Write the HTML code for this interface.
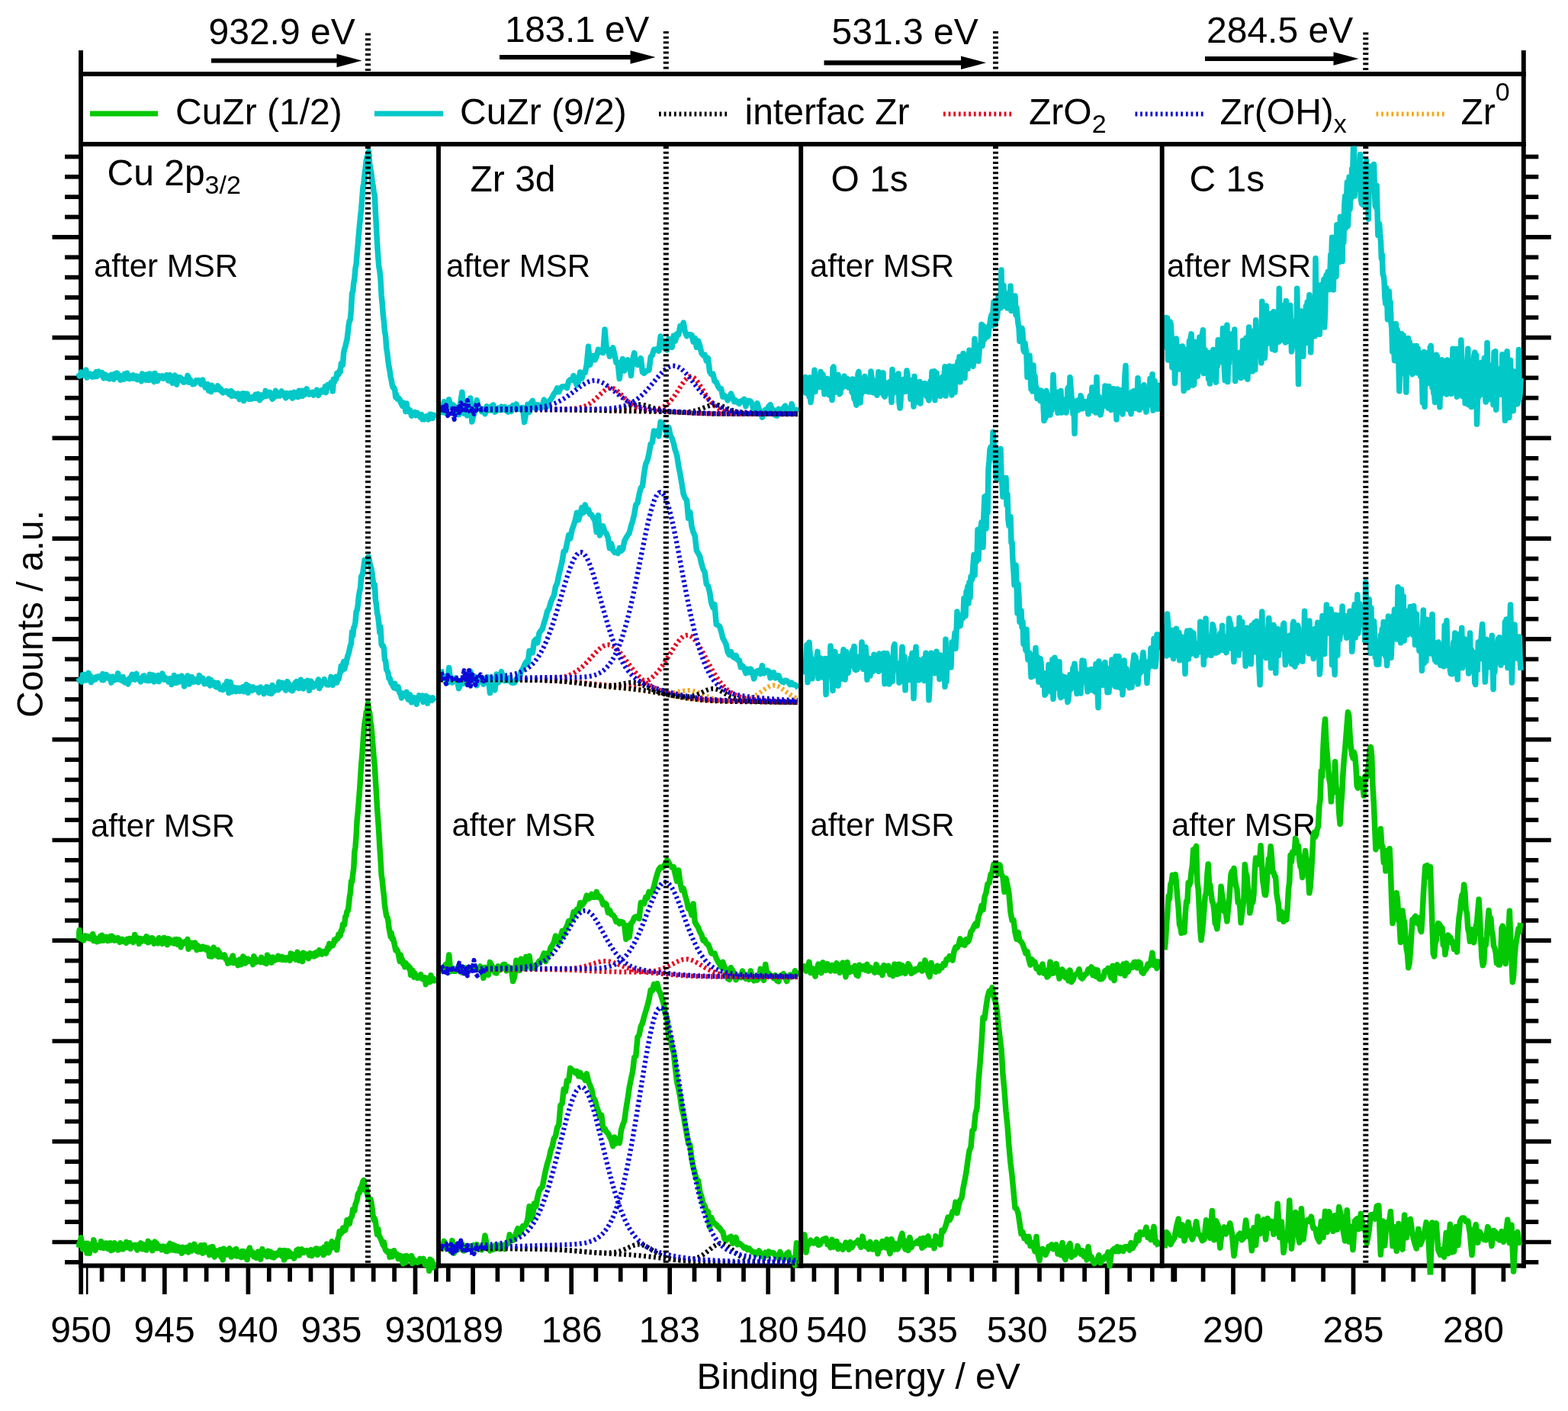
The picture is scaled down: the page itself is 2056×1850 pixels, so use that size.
<!DOCTYPE html>
<html lang="en"><head><meta charset="utf-8"><title>XPS spectra CuZr</title>
<style>html,body{margin:0;padding:0;background:#fff;overflow:hidden}svg{display:block;filter:blur(0.75px)}</style>
</head><body>
<svg xmlns="http://www.w3.org/2000/svg" width="2056" height="1850" viewBox="0 0 2056 1850">
<rect width="2056" height="1850" fill="#fff"/>
<defs><clipPath id="cp"><rect x="100" y="191.5" width="1900" height="1480"/></clipPath></defs>
<g font-family='"Liberation Sans", Arial, Helvetica, sans-serif' fill="#000">
<text x="273.5" y="57.5" font-size="48" text-anchor="start" >932.9 eV</text>
<text x="662.0" y="54.5" font-size="48" text-anchor="start" letter-spacing="-0.4">183.1 eV</text>
<text x="1090.5" y="57.5" font-size="48" text-anchor="start" >531.3 eV</text>
<text x="1582.0" y="55.5" font-size="48" text-anchor="start" >284.5 eV</text>
<text x="230.0" y="163.0" font-size="48" text-anchor="start" >CuZr (1/2)</text>
<text x="603.0" y="163.0" font-size="48" text-anchor="start" >CuZr (9/2)</text>
<text x="976.5" y="163.0" font-size="48" text-anchor="start" >interfac Zr</text>
<text x="1349.0" y="163.0" font-size="48" text-anchor="start" >ZrO<tspan font-size="34" dy="11">2</tspan></text>
<text x="1599.5" y="163.0" font-size="48" text-anchor="start" >Zr(OH)<tspan font-size="34" dy="11">x</tspan></text>
<text x="1915.5" y="163.0" font-size="48" text-anchor="start" >Zr<tspan font-size="34" dy="-31">0</tspan></text>
<text x="140.5" y="243.0" font-size="48" text-anchor="start" >Cu 2p<tspan font-size="34" dy="11">3/2</tspan></text>
<text x="616.5" y="251.0" font-size="48" text-anchor="start" >Zr 3d</text>
<text x="1089.5" y="251.0" font-size="48" text-anchor="start" >O 1s</text>
<text x="1559.5" y="251.0" font-size="48" text-anchor="start" >C 1s</text>
<text x="123.0" y="362.5" font-size="42" text-anchor="start" >after MSR</text>
<text x="585.0" y="362.5" font-size="42" text-anchor="start" >after MSR</text>
<text x="1062.0" y="362.5" font-size="42" text-anchor="start" >after MSR</text>
<text x="1530.0" y="362.5" font-size="42" text-anchor="start" >after MSR</text>
<text x="119.0" y="1096.5" font-size="42" text-anchor="start" >after MSR</text>
<text x="592.5" y="1096.0" font-size="42" text-anchor="start" >after MSR</text>
<text x="1062.5" y="1096.0" font-size="42" text-anchor="start" >after MSR</text>
<text x="1536.0" y="1096.0" font-size="42" text-anchor="start" >after MSR</text>
<text x="106.2" y="1760.0" font-size="48" text-anchor="middle" >950</text>
<text x="215.6" y="1760.0" font-size="48" text-anchor="middle" >945</text>
<text x="325.0" y="1760.0" font-size="48" text-anchor="middle" >940</text>
<text x="434.5" y="1760.0" font-size="48" text-anchor="middle" >935</text>
<text x="544.5" y="1760.0" font-size="48" text-anchor="middle" >930</text>
<text x="620.1" y="1760.0" font-size="48" text-anchor="middle" >189</text>
<text x="749.7" y="1760.0" font-size="48" text-anchor="middle" >186</text>
<text x="877.8" y="1760.0" font-size="48" text-anchor="middle" >183</text>
<text x="1007.2" y="1760.0" font-size="48" text-anchor="middle" >180</text>
<text x="1097.0" y="1760.0" font-size="48" text-anchor="middle" >540</text>
<text x="1215.9" y="1760.0" font-size="48" text-anchor="middle" >535</text>
<text x="1333.7" y="1760.0" font-size="48" text-anchor="middle" >530</text>
<text x="1451.7" y="1760.0" font-size="48" text-anchor="middle" >525</text>
<text x="1617.0" y="1760.0" font-size="48" text-anchor="middle" >290</text>
<text x="1774.5" y="1760.0" font-size="48" text-anchor="middle" >285</text>
<text x="1932.0" y="1760.0" font-size="48" text-anchor="middle" >280</text>
<text x="913.5" y="1821.0" font-size="48" text-anchor="start" >Binding Energy / eV</text>
<text transform="translate(56,941) rotate(-90)" font-size="48">Counts / a.u.</text>
</g>
<line x1="106.0" y1="66.0" x2="106.0" y2="1662.5" stroke="#000" stroke-width="5.9" />
<line x1="1997.8" y1="66.0" x2="1997.8" y2="1662.5" stroke="#000" stroke-width="5.9" />
<line x1="103.0" y1="97.0" x2="2000.8" y2="97.0" stroke="#000" stroke-width="5.9" />
<line x1="103.0" y1="189.0" x2="2000.8" y2="189.0" stroke="#000" stroke-width="5.9" />
<line x1="103.0" y1="1659.5" x2="2000.8" y2="1659.5" stroke="#000" stroke-width="5.9" />
<line x1="85.0" y1="1654.9" x2="106.0" y2="1654.9" stroke="#000" stroke-width="5.7" />
<line x1="1997.8" y1="1654.9" x2="2017.3" y2="1654.9" stroke="#000" stroke-width="5.7" />
<line x1="68.5" y1="1628.5" x2="106.0" y2="1628.5" stroke="#000" stroke-width="5.7" />
<line x1="1997.8" y1="1628.5" x2="2033.8" y2="1628.5" stroke="#000" stroke-width="5.7" />
<line x1="85.0" y1="1602.1" x2="106.0" y2="1602.1" stroke="#000" stroke-width="5.7" />
<line x1="1997.8" y1="1602.1" x2="2017.3" y2="1602.1" stroke="#000" stroke-width="5.7" />
<line x1="85.0" y1="1575.8" x2="106.0" y2="1575.8" stroke="#000" stroke-width="5.7" />
<line x1="1997.8" y1="1575.8" x2="2017.3" y2="1575.8" stroke="#000" stroke-width="5.7" />
<line x1="85.0" y1="1549.4" x2="106.0" y2="1549.4" stroke="#000" stroke-width="5.7" />
<line x1="1997.8" y1="1549.4" x2="2017.3" y2="1549.4" stroke="#000" stroke-width="5.7" />
<line x1="85.0" y1="1523.1" x2="106.0" y2="1523.1" stroke="#000" stroke-width="5.7" />
<line x1="1997.8" y1="1523.1" x2="2017.3" y2="1523.1" stroke="#000" stroke-width="5.7" />
<line x1="68.5" y1="1496.7" x2="106.0" y2="1496.7" stroke="#000" stroke-width="5.7" />
<line x1="1997.8" y1="1496.7" x2="2033.8" y2="1496.7" stroke="#000" stroke-width="5.7" />
<line x1="85.0" y1="1470.4" x2="106.0" y2="1470.4" stroke="#000" stroke-width="5.7" />
<line x1="1997.8" y1="1470.4" x2="2017.3" y2="1470.4" stroke="#000" stroke-width="5.7" />
<line x1="85.0" y1="1444.0" x2="106.0" y2="1444.0" stroke="#000" stroke-width="5.7" />
<line x1="1997.8" y1="1444.0" x2="2017.3" y2="1444.0" stroke="#000" stroke-width="5.7" />
<line x1="85.0" y1="1417.7" x2="106.0" y2="1417.7" stroke="#000" stroke-width="5.7" />
<line x1="1997.8" y1="1417.7" x2="2017.3" y2="1417.7" stroke="#000" stroke-width="5.7" />
<line x1="85.0" y1="1391.3" x2="106.0" y2="1391.3" stroke="#000" stroke-width="5.7" />
<line x1="1997.8" y1="1391.3" x2="2017.3" y2="1391.3" stroke="#000" stroke-width="5.7" />
<line x1="68.5" y1="1365.0" x2="106.0" y2="1365.0" stroke="#000" stroke-width="5.7" />
<line x1="1997.8" y1="1365.0" x2="2033.8" y2="1365.0" stroke="#000" stroke-width="5.7" />
<line x1="85.0" y1="1338.6" x2="106.0" y2="1338.6" stroke="#000" stroke-width="5.7" />
<line x1="1997.8" y1="1338.6" x2="2017.3" y2="1338.6" stroke="#000" stroke-width="5.7" />
<line x1="85.0" y1="1312.3" x2="106.0" y2="1312.3" stroke="#000" stroke-width="5.7" />
<line x1="1997.8" y1="1312.3" x2="2017.3" y2="1312.3" stroke="#000" stroke-width="5.7" />
<line x1="85.0" y1="1285.9" x2="106.0" y2="1285.9" stroke="#000" stroke-width="5.7" />
<line x1="1997.8" y1="1285.9" x2="2017.3" y2="1285.9" stroke="#000" stroke-width="5.7" />
<line x1="85.0" y1="1259.6" x2="106.0" y2="1259.6" stroke="#000" stroke-width="5.7" />
<line x1="1997.8" y1="1259.6" x2="2017.3" y2="1259.6" stroke="#000" stroke-width="5.7" />
<line x1="68.5" y1="1233.2" x2="106.0" y2="1233.2" stroke="#000" stroke-width="5.7" />
<line x1="1997.8" y1="1233.2" x2="2033.8" y2="1233.2" stroke="#000" stroke-width="5.7" />
<line x1="85.0" y1="1206.9" x2="106.0" y2="1206.9" stroke="#000" stroke-width="5.7" />
<line x1="1997.8" y1="1206.9" x2="2017.3" y2="1206.9" stroke="#000" stroke-width="5.7" />
<line x1="85.0" y1="1180.5" x2="106.0" y2="1180.5" stroke="#000" stroke-width="5.7" />
<line x1="1997.8" y1="1180.5" x2="2017.3" y2="1180.5" stroke="#000" stroke-width="5.7" />
<line x1="85.0" y1="1154.2" x2="106.0" y2="1154.2" stroke="#000" stroke-width="5.7" />
<line x1="1997.8" y1="1154.2" x2="2017.3" y2="1154.2" stroke="#000" stroke-width="5.7" />
<line x1="85.0" y1="1127.8" x2="106.0" y2="1127.8" stroke="#000" stroke-width="5.7" />
<line x1="1997.8" y1="1127.8" x2="2017.3" y2="1127.8" stroke="#000" stroke-width="5.7" />
<line x1="68.5" y1="1101.5" x2="106.0" y2="1101.5" stroke="#000" stroke-width="5.7" />
<line x1="1997.8" y1="1101.5" x2="2033.8" y2="1101.5" stroke="#000" stroke-width="5.7" />
<line x1="85.0" y1="1075.1" x2="106.0" y2="1075.1" stroke="#000" stroke-width="5.7" />
<line x1="1997.8" y1="1075.1" x2="2017.3" y2="1075.1" stroke="#000" stroke-width="5.7" />
<line x1="85.0" y1="1048.8" x2="106.0" y2="1048.8" stroke="#000" stroke-width="5.7" />
<line x1="1997.8" y1="1048.8" x2="2017.3" y2="1048.8" stroke="#000" stroke-width="5.7" />
<line x1="85.0" y1="1022.4" x2="106.0" y2="1022.4" stroke="#000" stroke-width="5.7" />
<line x1="1997.8" y1="1022.4" x2="2017.3" y2="1022.4" stroke="#000" stroke-width="5.7" />
<line x1="85.0" y1="996.1" x2="106.0" y2="996.1" stroke="#000" stroke-width="5.7" />
<line x1="1997.8" y1="996.1" x2="2017.3" y2="996.1" stroke="#000" stroke-width="5.7" />
<line x1="68.5" y1="969.7" x2="106.0" y2="969.7" stroke="#000" stroke-width="5.7" />
<line x1="1997.8" y1="969.7" x2="2033.8" y2="969.7" stroke="#000" stroke-width="5.7" />
<line x1="85.0" y1="943.3" x2="106.0" y2="943.3" stroke="#000" stroke-width="5.7" />
<line x1="1997.8" y1="943.3" x2="2017.3" y2="943.3" stroke="#000" stroke-width="5.7" />
<line x1="85.0" y1="917.0" x2="106.0" y2="917.0" stroke="#000" stroke-width="5.7" />
<line x1="1997.8" y1="917.0" x2="2017.3" y2="917.0" stroke="#000" stroke-width="5.7" />
<line x1="85.0" y1="890.6" x2="106.0" y2="890.6" stroke="#000" stroke-width="5.7" />
<line x1="1997.8" y1="890.6" x2="2017.3" y2="890.6" stroke="#000" stroke-width="5.7" />
<line x1="85.0" y1="864.3" x2="106.0" y2="864.3" stroke="#000" stroke-width="5.7" />
<line x1="1997.8" y1="864.3" x2="2017.3" y2="864.3" stroke="#000" stroke-width="5.7" />
<line x1="68.5" y1="837.9" x2="106.0" y2="837.9" stroke="#000" stroke-width="5.7" />
<line x1="1997.8" y1="837.9" x2="2033.8" y2="837.9" stroke="#000" stroke-width="5.7" />
<line x1="85.0" y1="811.6" x2="106.0" y2="811.6" stroke="#000" stroke-width="5.7" />
<line x1="1997.8" y1="811.6" x2="2017.3" y2="811.6" stroke="#000" stroke-width="5.7" />
<line x1="85.0" y1="785.2" x2="106.0" y2="785.2" stroke="#000" stroke-width="5.7" />
<line x1="1997.8" y1="785.2" x2="2017.3" y2="785.2" stroke="#000" stroke-width="5.7" />
<line x1="85.0" y1="758.9" x2="106.0" y2="758.9" stroke="#000" stroke-width="5.7" />
<line x1="1997.8" y1="758.9" x2="2017.3" y2="758.9" stroke="#000" stroke-width="5.7" />
<line x1="85.0" y1="732.5" x2="106.0" y2="732.5" stroke="#000" stroke-width="5.7" />
<line x1="1997.8" y1="732.5" x2="2017.3" y2="732.5" stroke="#000" stroke-width="5.7" />
<line x1="68.5" y1="706.2" x2="106.0" y2="706.2" stroke="#000" stroke-width="5.7" />
<line x1="1997.8" y1="706.2" x2="2033.8" y2="706.2" stroke="#000" stroke-width="5.7" />
<line x1="85.0" y1="679.8" x2="106.0" y2="679.8" stroke="#000" stroke-width="5.7" />
<line x1="1997.8" y1="679.8" x2="2017.3" y2="679.8" stroke="#000" stroke-width="5.7" />
<line x1="85.0" y1="653.5" x2="106.0" y2="653.5" stroke="#000" stroke-width="5.7" />
<line x1="1997.8" y1="653.5" x2="2017.3" y2="653.5" stroke="#000" stroke-width="5.7" />
<line x1="85.0" y1="627.1" x2="106.0" y2="627.1" stroke="#000" stroke-width="5.7" />
<line x1="1997.8" y1="627.1" x2="2017.3" y2="627.1" stroke="#000" stroke-width="5.7" />
<line x1="85.0" y1="600.8" x2="106.0" y2="600.8" stroke="#000" stroke-width="5.7" />
<line x1="1997.8" y1="600.8" x2="2017.3" y2="600.8" stroke="#000" stroke-width="5.7" />
<line x1="68.5" y1="574.4" x2="106.0" y2="574.4" stroke="#000" stroke-width="5.7" />
<line x1="1997.8" y1="574.4" x2="2033.8" y2="574.4" stroke="#000" stroke-width="5.7" />
<line x1="85.0" y1="548.1" x2="106.0" y2="548.1" stroke="#000" stroke-width="5.7" />
<line x1="1997.8" y1="548.1" x2="2017.3" y2="548.1" stroke="#000" stroke-width="5.7" />
<line x1="85.0" y1="521.7" x2="106.0" y2="521.7" stroke="#000" stroke-width="5.7" />
<line x1="1997.8" y1="521.7" x2="2017.3" y2="521.7" stroke="#000" stroke-width="5.7" />
<line x1="85.0" y1="495.4" x2="106.0" y2="495.4" stroke="#000" stroke-width="5.7" />
<line x1="1997.8" y1="495.4" x2="2017.3" y2="495.4" stroke="#000" stroke-width="5.7" />
<line x1="85.0" y1="469.0" x2="106.0" y2="469.0" stroke="#000" stroke-width="5.7" />
<line x1="1997.8" y1="469.0" x2="2017.3" y2="469.0" stroke="#000" stroke-width="5.7" />
<line x1="68.5" y1="442.7" x2="106.0" y2="442.7" stroke="#000" stroke-width="5.7" />
<line x1="1997.8" y1="442.7" x2="2033.8" y2="442.7" stroke="#000" stroke-width="5.7" />
<line x1="85.0" y1="416.3" x2="106.0" y2="416.3" stroke="#000" stroke-width="5.7" />
<line x1="1997.8" y1="416.3" x2="2017.3" y2="416.3" stroke="#000" stroke-width="5.7" />
<line x1="85.0" y1="390.0" x2="106.0" y2="390.0" stroke="#000" stroke-width="5.7" />
<line x1="1997.8" y1="390.0" x2="2017.3" y2="390.0" stroke="#000" stroke-width="5.7" />
<line x1="85.0" y1="363.6" x2="106.0" y2="363.6" stroke="#000" stroke-width="5.7" />
<line x1="1997.8" y1="363.6" x2="2017.3" y2="363.6" stroke="#000" stroke-width="5.7" />
<line x1="85.0" y1="337.3" x2="106.0" y2="337.3" stroke="#000" stroke-width="5.7" />
<line x1="1997.8" y1="337.3" x2="2017.3" y2="337.3" stroke="#000" stroke-width="5.7" />
<line x1="68.5" y1="310.9" x2="106.0" y2="310.9" stroke="#000" stroke-width="5.7" />
<line x1="1997.8" y1="310.9" x2="2033.8" y2="310.9" stroke="#000" stroke-width="5.7" />
<line x1="85.0" y1="284.5" x2="106.0" y2="284.5" stroke="#000" stroke-width="5.7" />
<line x1="1997.8" y1="284.5" x2="2017.3" y2="284.5" stroke="#000" stroke-width="5.7" />
<line x1="85.0" y1="258.2" x2="106.0" y2="258.2" stroke="#000" stroke-width="5.7" />
<line x1="1997.8" y1="258.2" x2="2017.3" y2="258.2" stroke="#000" stroke-width="5.7" />
<line x1="85.0" y1="231.8" x2="106.0" y2="231.8" stroke="#000" stroke-width="5.7" />
<line x1="1997.8" y1="231.8" x2="2017.3" y2="231.8" stroke="#000" stroke-width="5.7" />
<line x1="85.0" y1="205.5" x2="106.0" y2="205.5" stroke="#000" stroke-width="5.7" />
<line x1="1997.8" y1="205.5" x2="2017.3" y2="205.5" stroke="#000" stroke-width="5.7" />
<line x1="106.2" y1="1659.5" x2="106.2" y2="1697.0" stroke="#000" stroke-width="5.7" />
<line x1="133.6" y1="1659.5" x2="133.6" y2="1680.5" stroke="#000" stroke-width="5.7" />
<line x1="161.0" y1="1659.5" x2="161.0" y2="1680.5" stroke="#000" stroke-width="5.7" />
<line x1="188.4" y1="1659.5" x2="188.4" y2="1680.5" stroke="#000" stroke-width="5.7" />
<line x1="215.8" y1="1659.5" x2="215.8" y2="1697.0" stroke="#000" stroke-width="5.7" />
<line x1="243.2" y1="1659.5" x2="243.2" y2="1680.5" stroke="#000" stroke-width="5.7" />
<line x1="270.6" y1="1659.5" x2="270.6" y2="1680.5" stroke="#000" stroke-width="5.7" />
<line x1="298.0" y1="1659.5" x2="298.0" y2="1680.5" stroke="#000" stroke-width="5.7" />
<line x1="325.4" y1="1659.5" x2="325.4" y2="1697.0" stroke="#000" stroke-width="5.7" />
<line x1="352.8" y1="1659.5" x2="352.8" y2="1680.5" stroke="#000" stroke-width="5.7" />
<line x1="380.1" y1="1659.5" x2="380.1" y2="1680.5" stroke="#000" stroke-width="5.7" />
<line x1="407.5" y1="1659.5" x2="407.5" y2="1680.5" stroke="#000" stroke-width="5.7" />
<line x1="434.9" y1="1659.5" x2="434.9" y2="1697.0" stroke="#000" stroke-width="5.7" />
<line x1="462.3" y1="1659.5" x2="462.3" y2="1680.5" stroke="#000" stroke-width="5.7" />
<line x1="489.7" y1="1659.5" x2="489.7" y2="1680.5" stroke="#000" stroke-width="5.7" />
<line x1="517.1" y1="1659.5" x2="517.1" y2="1680.5" stroke="#000" stroke-width="5.7" />
<line x1="544.5" y1="1659.5" x2="544.5" y2="1697.0" stroke="#000" stroke-width="5.7" />
<line x1="571.9" y1="1659.5" x2="571.9" y2="1680.5" stroke="#000" stroke-width="5.7" />
<line x1="587.8" y1="1659.5" x2="587.8" y2="1680.5" stroke="#000" stroke-width="5.7" />
<line x1="620.1" y1="1659.5" x2="620.1" y2="1697.0" stroke="#000" stroke-width="5.7" />
<line x1="652.4" y1="1659.5" x2="652.4" y2="1680.5" stroke="#000" stroke-width="5.7" />
<line x1="684.6" y1="1659.5" x2="684.6" y2="1680.5" stroke="#000" stroke-width="5.7" />
<line x1="716.9" y1="1659.5" x2="716.9" y2="1680.5" stroke="#000" stroke-width="5.7" />
<line x1="749.2" y1="1659.5" x2="749.2" y2="1697.0" stroke="#000" stroke-width="5.7" />
<line x1="781.4" y1="1659.5" x2="781.4" y2="1680.5" stroke="#000" stroke-width="5.7" />
<line x1="813.7" y1="1659.5" x2="813.7" y2="1680.5" stroke="#000" stroke-width="5.7" />
<line x1="845.9" y1="1659.5" x2="845.9" y2="1680.5" stroke="#000" stroke-width="5.7" />
<line x1="878.2" y1="1659.5" x2="878.2" y2="1697.0" stroke="#000" stroke-width="5.7" />
<line x1="910.5" y1="1659.5" x2="910.5" y2="1680.5" stroke="#000" stroke-width="5.7" />
<line x1="942.7" y1="1659.5" x2="942.7" y2="1680.5" stroke="#000" stroke-width="5.7" />
<line x1="975.0" y1="1659.5" x2="975.0" y2="1680.5" stroke="#000" stroke-width="5.7" />
<line x1="1007.2" y1="1659.5" x2="1007.2" y2="1697.0" stroke="#000" stroke-width="5.7" />
<line x1="1039.5" y1="1659.5" x2="1039.5" y2="1680.5" stroke="#000" stroke-width="5.7" />
<line x1="1067.4" y1="1659.5" x2="1067.4" y2="1680.5" stroke="#000" stroke-width="5.7" />
<line x1="1097.0" y1="1659.5" x2="1097.0" y2="1697.0" stroke="#000" stroke-width="5.7" />
<line x1="1126.6" y1="1659.5" x2="1126.6" y2="1680.5" stroke="#000" stroke-width="5.7" />
<line x1="1156.1" y1="1659.5" x2="1156.1" y2="1680.5" stroke="#000" stroke-width="5.7" />
<line x1="1185.7" y1="1659.5" x2="1185.7" y2="1680.5" stroke="#000" stroke-width="5.7" />
<line x1="1215.2" y1="1659.5" x2="1215.2" y2="1697.0" stroke="#000" stroke-width="5.7" />
<line x1="1244.8" y1="1659.5" x2="1244.8" y2="1680.5" stroke="#000" stroke-width="5.7" />
<line x1="1274.3" y1="1659.5" x2="1274.3" y2="1680.5" stroke="#000" stroke-width="5.7" />
<line x1="1303.9" y1="1659.5" x2="1303.9" y2="1680.5" stroke="#000" stroke-width="5.7" />
<line x1="1333.5" y1="1659.5" x2="1333.5" y2="1697.0" stroke="#000" stroke-width="5.7" />
<line x1="1363.0" y1="1659.5" x2="1363.0" y2="1680.5" stroke="#000" stroke-width="5.7" />
<line x1="1392.6" y1="1659.5" x2="1392.6" y2="1680.5" stroke="#000" stroke-width="5.7" />
<line x1="1422.1" y1="1659.5" x2="1422.1" y2="1680.5" stroke="#000" stroke-width="5.7" />
<line x1="1451.7" y1="1659.5" x2="1451.7" y2="1697.0" stroke="#000" stroke-width="5.7" />
<line x1="1481.2" y1="1659.5" x2="1481.2" y2="1680.5" stroke="#000" stroke-width="5.7" />
<line x1="1510.8" y1="1659.5" x2="1510.8" y2="1680.5" stroke="#000" stroke-width="5.7" />
<line x1="1540.4" y1="1659.5" x2="1540.4" y2="1680.5" stroke="#000" stroke-width="5.7" />
<line x1="1538.2" y1="1659.5" x2="1538.2" y2="1680.5" stroke="#000" stroke-width="5.7" />
<line x1="1577.6" y1="1659.5" x2="1577.6" y2="1680.5" stroke="#000" stroke-width="5.7" />
<line x1="1617.0" y1="1659.5" x2="1617.0" y2="1697.0" stroke="#000" stroke-width="5.7" />
<line x1="1656.4" y1="1659.5" x2="1656.4" y2="1680.5" stroke="#000" stroke-width="5.7" />
<line x1="1695.8" y1="1659.5" x2="1695.8" y2="1680.5" stroke="#000" stroke-width="5.7" />
<line x1="1735.1" y1="1659.5" x2="1735.1" y2="1680.5" stroke="#000" stroke-width="5.7" />
<line x1="1774.5" y1="1659.5" x2="1774.5" y2="1697.0" stroke="#000" stroke-width="5.7" />
<line x1="1813.9" y1="1659.5" x2="1813.9" y2="1680.5" stroke="#000" stroke-width="5.7" />
<line x1="1853.2" y1="1659.5" x2="1853.2" y2="1680.5" stroke="#000" stroke-width="5.7" />
<line x1="1892.6" y1="1659.5" x2="1892.6" y2="1680.5" stroke="#000" stroke-width="5.7" />
<line x1="1932.0" y1="1659.5" x2="1932.0" y2="1697.0" stroke="#000" stroke-width="5.7" />
<line x1="1971.4" y1="1659.5" x2="1971.4" y2="1680.5" stroke="#000" stroke-width="5.7" />
<line x1="114.2" y1="1659.5" x2="114.2" y2="1697.0" stroke="#000" stroke-width="2.6" />
<line x1="277.0" y1="79.5" x2="446.5" y2="79.5" stroke="#000" stroke-width="6.2" />
<polygon points="474.5,79.5 441.5,70.7 441.5,88.3" fill="#000"/>
<line x1="655.0" y1="75.0" x2="831.5" y2="75.0" stroke="#000" stroke-width="6.2" />
<polygon points="859.5,75.0 826.5,66.2 826.5,83.8" fill="#000"/>
<line x1="1080.5" y1="82.3" x2="1265.0" y2="82.3" stroke="#000" stroke-width="6.2" />
<polygon points="1293.0,82.3 1260.0,73.5 1260.0,91.1" fill="#000"/>
<line x1="1580.0" y1="77.0" x2="1753.5" y2="77.0" stroke="#000" stroke-width="6.2" />
<polygon points="1781.5,77.0 1748.5,68.2 1748.5,85.8" fill="#000"/>
<line x1="118.0" y1="149.0" x2="207.0" y2="149.0" stroke="#03c803" stroke-width="7" />
<line x1="491.0" y1="149.0" x2="581.0" y2="149.0" stroke="#03c8c8" stroke-width="7" />
<line x1="864.0" y1="149.5" x2="954.0" y2="149.5" stroke="#000" stroke-width="6.2" stroke-dasharray="2.8 3.84"/>
<line x1="1237.0" y1="149.5" x2="1328.0" y2="149.5" stroke="#e6001e" stroke-width="6.2" stroke-dasharray="2.8 3.84"/>
<line x1="1488.5" y1="149.5" x2="1578.5" y2="149.5" stroke="#0a0ad8" stroke-width="6.2" stroke-dasharray="2.8 3.84"/>
<line x1="1804.5" y1="149.5" x2="1895.0" y2="149.5" stroke="#f5a81e" stroke-width="6.2" stroke-dasharray="2.8 3.84"/>
<g clip-path="url(#cp)">
<polyline points="103.0,489.1 104.1,493.1 105.2,492.9 106.3,488.0 107.4,488.8 108.5,488.3 109.6,491.6 110.7,490.0 111.8,492.5 112.9,485.1 114.0,495.1 115.1,490.5 116.2,492.9 117.3,490.7 118.4,490.1 119.5,492.7 120.6,493.9 121.7,491.1 122.8,491.3 123.9,493.9 125.0,489.5 126.1,487.8 127.2,493.5 128.3,490.5 129.4,487.0 130.5,490.3 131.6,491.4 132.7,489.5 133.8,488.7 134.9,493.2 136.0,495.8 137.1,492.6 138.2,491.2 139.3,494.6 140.4,495.6 141.5,492.8 142.6,495.3 143.7,496.8 144.8,493.2 145.9,491.5 147.0,494.9 148.1,494.7 149.2,497.2 150.3,490.3 151.4,492.1 152.5,491.7 153.6,489.1 154.7,494.5 155.8,495.7 156.9,492.1 158.0,498.2 159.1,496.6 160.2,496.1 161.3,495.4 162.4,497.1 163.5,490.4 164.6,496.1 165.7,496.1 166.8,489.2 167.9,495.4 169.0,493.7 170.1,496.7 171.2,493.1 172.3,494.4 173.4,495.4 174.5,491.9 175.6,496.2 176.7,494.2 177.8,495.9 178.9,493.0 180.0,497.6 181.1,496.3 182.2,494.0 183.3,496.4 184.4,498.2 185.5,499.7 186.6,490.0 187.7,497.1 188.8,495.9 189.9,494.3 191.0,491.7 192.1,498.3 193.2,491.0 194.3,496.3 195.4,498.4 196.5,490.0 197.6,493.8 198.7,490.9 199.8,495.4 200.9,499.1 202.0,500.6 203.1,489.6 204.2,493.2 205.3,496.9 206.4,499.5 207.5,496.1 208.6,492.8 209.7,495.8 210.8,494.9 211.9,494.4 213.0,492.9 214.1,496.2 215.2,496.1 216.3,495.0 217.4,494.7 218.5,491.7 219.6,494.0 220.7,499.0 221.8,495.1 222.9,491.6 224.0,499.7 225.1,497.5 226.2,502.2 227.3,496.3 228.4,494.9 229.5,492.2 230.6,500.4 231.7,504.1 232.8,494.4 233.9,495.1 235.0,498.8 236.1,494.8 237.2,496.6 238.3,496.5 239.4,498.3 240.5,501.0 241.6,498.1 242.7,500.8 243.8,497.1 244.9,499.5 246.0,492.5 247.1,494.7 248.2,501.3 249.3,497.5 250.4,501.1 251.5,501.2 252.6,503.7 253.7,502.5 254.8,503.3 255.9,500.4 257.0,498.9 258.1,499.2 259.2,500.2 260.3,498.6 261.4,500.7 262.5,502.3 263.6,503.7 264.7,502.3 265.8,498.1 266.9,503.8 268.0,505.0 269.1,507.9 270.2,506.8 271.3,503.7 272.4,503.8 273.5,512.1 274.6,508.8 275.7,512.3 276.8,513.6 277.9,505.4 279.0,509.2 280.1,509.8 281.2,510.5 282.3,510.8 283.4,510.1 284.5,510.4 285.6,505.8 286.7,510.0 287.8,508.7 288.9,511.6 290.0,510.3 291.1,513.8 292.2,514.8 293.3,513.7 294.4,514.1 295.5,513.9 296.6,512.7 297.7,514.0 298.8,513.4 299.9,516.4 301.0,515.7 302.1,517.8 303.2,512.6 304.3,519.4 305.4,515.0 306.5,515.5 307.6,517.4 308.7,516.7 309.8,519.5 310.9,517.2 312.0,516.1 313.1,517.0 314.2,523.5 315.3,520.0 316.4,516.7 317.5,520.2 318.6,515.8 319.7,525.6 320.8,516.1 321.9,521.9 323.0,522.1 324.1,516.3 325.2,521.3 326.3,523.3 327.4,521.8 328.5,521.1 329.6,523.1 330.7,520.8 331.8,521.2 332.9,519.8 334.0,522.0 335.1,517.4 336.2,522.3 337.3,518.5 338.4,516.7 339.5,520.9 340.6,524.6 341.7,522.4 342.8,518.0 343.9,521.5 345.0,518.0 346.1,518.9 347.2,519.4 348.3,512.4 349.4,519.5 350.5,515.9 351.6,516.8 352.7,514.4 353.8,514.2 354.9,515.7 356.0,520.8 357.1,523.1 358.2,518.1 359.3,521.2 360.4,517.2 361.5,512.3 362.6,518.2 363.7,519.0 364.8,516.3 365.9,518.4 367.0,519.0 368.1,514.8 369.2,512.9 370.3,516.5 371.4,516.4 372.5,515.9 373.6,519.8 374.7,521.8 375.8,515.5 376.9,518.7 378.0,519.4 379.1,518.6 380.2,519.5 381.3,515.3 382.4,518.5 383.5,522.2 384.6,518.6 385.7,514.4 386.8,518.0 387.9,519.8 389.0,517.2 390.1,514.4 391.2,520.5 392.3,512.3 393.4,517.3 394.5,515.8 395.6,512.3 396.7,519.3 397.8,516.7 398.9,512.2 400.0,517.3 401.1,514.2 402.2,509.9 403.3,513.3 404.4,516.0 405.5,517.0 406.6,515.6 407.7,515.1 408.8,516.3 409.9,514.2 411.0,518.1 412.1,515.0 413.2,515.3 414.3,515.9 415.4,511.2 416.5,512.1 417.6,518.4 418.7,514.8 419.8,512.9 420.9,514.5 422.0,511.9 423.1,513.8 424.2,510.7 425.3,512.9 426.4,506.9 427.5,514.7 428.6,508.6 429.7,504.6 430.8,507.6 431.9,506.1 433.0,506.6 434.1,501.6 435.2,504.8 436.3,512.9 437.4,497.3 438.5,500.5 439.6,497.1 440.7,497.0 441.8,489.4 442.9,489.1 444.0,491.0 445.1,486.4 446.2,487.6 447.3,476.9 448.4,475.1 449.5,478.5 450.6,463.0 451.7,457.5 452.8,454.8 453.9,449.3 455.0,445.6 456.1,436.5 457.2,426.1 458.3,420.5 459.4,418.7 460.5,405.5 461.6,384.3 462.7,382.5 463.8,370.8 464.9,364.9 466.0,351.7 467.1,346.6 468.2,332.2 469.3,320.6 470.4,307.2 471.5,295.1 472.6,284.0 473.7,274.3 474.8,259.9 475.9,245.8 477.0,240.4 478.1,228.9 479.2,220.2 480.3,210.6 481.4,205.6 482.5,202.9 483.6,198.6 484.7,215.2 485.8,221.4 486.9,226.7 488.0,237.4 489.1,243.3 490.2,252.3 491.3,255.9 492.4,278.4 493.5,298.5 494.6,319.5 495.7,336.0 496.8,349.2 497.9,355.5 499.0,365.9 500.1,386.8 501.2,397.7 502.3,412.5 503.4,421.5 504.5,434.4 505.6,440.6 506.7,456.5 507.8,462.7 508.9,472.9 510.0,480.8 511.1,486.3 512.2,494.0 513.3,498.6 514.4,505.5 515.5,508.3 516.6,508.3 517.7,511.1 518.8,520.5 519.9,517.6 521.0,523.0 522.1,523.4 523.2,522.5 524.3,523.7 525.4,527.9 526.5,529.8 527.6,532.2 528.7,528.0 529.8,531.1 530.9,533.6 532.0,539.5 533.1,529.0 534.2,538.0 535.3,536.1 536.4,539.7 537.5,537.8 538.6,541.0 539.7,545.2 540.8,542.3 541.9,543.0 543.0,543.3 544.1,540.5 545.2,544.6 546.3,542.8 547.4,541.4 548.5,544.0 549.6,543.7 550.7,546.9 551.8,544.9 552.9,543.8 554.0,549.8 555.1,548.7 556.2,549.8 557.3,548.1 558.4,546.3 559.5,545.6 560.6,546.2 561.7,550.0 562.8,547.7 563.9,543.2 565.0,547.5 566.1,543.7 567.2,548.3 568.3,544.4 569.4,544.3 570.5,548.3" fill="none" stroke="#03c8c8" stroke-width="7.5" stroke-linejoin="round" stroke-linecap="butt" />
<polyline points="103.0,888.7 104.1,892.2 105.2,891.1 106.3,891.1 107.4,894.0 108.5,884.7 109.6,886.6 110.7,884.4 111.8,888.4 112.9,892.0 114.0,888.7 115.1,890.4 116.2,882.4 117.3,889.2 118.4,885.8 119.5,894.6 120.6,891.7 121.7,891.9 122.8,888.6 123.9,890.8 125.0,891.0 126.1,887.7 127.2,887.2 128.3,888.4 129.4,886.8 130.5,886.9 131.6,887.9 132.7,886.5 133.8,891.4 134.9,883.6 136.0,891.6 137.1,886.8 138.2,887.1 139.3,884.5 140.4,888.5 141.5,888.1 142.6,889.6 143.7,887.2 144.8,889.3 145.9,895.0 147.0,890.4 148.1,887.2 149.2,892.2 150.3,888.7 151.4,891.1 152.5,891.1 153.6,887.8 154.7,882.8 155.8,888.0 156.9,891.0 158.0,887.9 159.1,890.7 160.2,892.5 161.3,887.5 162.4,893.3 163.5,894.6 164.6,892.9 165.7,893.2 166.8,893.0 167.9,896.8 169.0,890.0 170.1,889.4 171.2,891.4 172.3,886.5 173.4,884.3 174.5,886.6 175.6,890.7 176.7,891.1 177.8,884.5 178.9,883.4 180.0,888.6 181.1,889.0 182.2,889.5 183.3,891.9 184.4,893.7 185.5,890.5 186.6,891.8 187.7,886.1 188.8,885.9 189.9,890.6 191.0,892.0 192.1,892.2 193.2,891.8 194.3,892.5 195.4,892.6 196.5,884.2 197.6,887.5 198.7,891.5 199.8,892.0 200.9,885.1 202.0,893.9 203.1,888.6 204.2,889.3 205.3,891.0 206.4,892.6 207.5,885.5 208.6,893.5 209.7,890.5 210.8,887.7 211.9,889.4 213.0,883.1 214.1,888.2 215.2,891.0 216.3,888.0 217.4,889.3 218.5,890.0 219.6,890.6 220.7,893.9 221.8,890.4 222.9,889.7 224.0,892.4 225.1,897.5 226.2,889.5 227.3,892.4 228.4,885.5 229.5,895.2 230.6,893.0 231.7,895.2 232.8,890.7 233.9,887.5 235.0,893.9 236.1,893.5 237.2,888.2 238.3,886.2 239.4,892.6 240.5,890.6 241.6,899.9 242.7,889.3 243.8,889.6 244.9,891.1 246.0,886.0 247.1,888.6 248.2,897.0 249.3,891.2 250.4,889.7 251.5,887.6 252.6,893.8 253.7,894.1 254.8,892.9 255.9,890.8 257.0,893.2 258.1,893.5 259.2,890.1 260.3,894.5 261.4,885.6 262.5,888.4 263.6,891.7 264.7,892.5 265.8,889.1 266.9,894.1 268.0,896.6 269.1,894.8 270.2,894.1 271.3,896.2 272.4,895.0 273.5,890.0 274.6,893.5 275.7,898.9 276.8,891.5 277.9,896.2 279.0,895.5 280.1,894.7 281.2,895.0 282.3,899.4 283.4,900.6 284.5,900.9 285.6,895.3 286.7,899.3 287.8,901.5 288.9,903.6 290.0,902.8 291.1,903.5 292.2,904.5 293.3,903.7 294.4,898.4 295.5,901.4 296.6,898.9 297.7,893.5 298.8,895.9 299.9,908.5 301.0,898.0 302.1,894.4 303.2,899.9 304.3,907.0 305.4,901.9 306.5,903.5 307.6,901.3 308.7,902.0 309.8,906.5 310.9,905.0 312.0,902.2 313.1,905.5 314.2,906.2 315.3,902.0 316.4,903.6 317.5,903.6 318.6,900.6 319.7,906.7 320.8,902.4 321.9,901.0 323.0,897.5 324.1,898.9 325.2,908.2 326.3,899.4 327.4,904.6 328.5,902.0 329.6,905.0 330.7,905.3 331.8,900.8 332.9,902.4 334.0,903.7 335.1,903.8 336.2,903.3 337.3,902.4 338.4,905.5 339.5,907.8 340.6,905.3 341.7,901.0 342.8,904.8 343.9,903.7 345.0,905.0 346.1,909.6 347.2,902.8 348.3,903.5 349.4,900.5 350.5,902.5 351.6,901.5 352.7,908.6 353.8,904.3 354.9,901.3 356.0,909.4 357.1,898.6 358.2,905.7 359.3,906.1 360.4,904.5 361.5,901.6 362.6,901.9 363.7,901.0 364.8,904.6 365.9,894.2 367.0,900.0 368.1,902.0 369.2,899.4 370.3,895.2 371.4,900.2 372.5,898.3 373.6,903.2 374.7,905.0 375.8,900.4 376.9,893.6 378.0,899.2 379.1,896.6 380.2,901.7 381.3,904.8 382.4,900.1 383.5,905.6 384.6,903.7 385.7,900.8 386.8,895.5 387.9,898.8 389.0,893.6 390.1,901.6 391.2,898.5 392.3,902.5 393.4,898.8 394.5,891.3 395.6,899.7 396.7,900.5 397.8,902.8 398.9,894.1 400.0,894.1 401.1,897.3 402.2,893.5 403.3,892.4 404.4,893.2 405.5,905.3 406.6,894.6 407.7,893.2 408.8,895.0 409.9,896.4 411.0,900.6 412.1,899.4 413.2,898.8 414.3,896.3 415.4,896.6 416.5,893.9 417.6,890.9 418.7,902.5 419.8,894.2 420.9,899.0 422.0,894.5 423.1,895.1 424.2,894.8 425.3,890.7 426.4,894.8 427.5,896.2 428.6,897.5 429.7,896.3 430.8,897.9 431.9,895.3 433.0,894.1 434.1,887.4 435.2,891.8 436.3,898.2 437.4,892.8 438.5,894.2 439.6,889.9 440.7,887.3 441.8,895.0 442.9,888.1 444.0,890.4 445.1,885.7 446.2,881.3 447.3,873.2 448.4,879.1 449.5,871.8 450.6,867.7 451.7,877.0 452.8,872.7 453.9,869.3 455.0,863.7 456.1,859.5 457.2,856.8 458.3,851.4 459.4,846.5 460.5,843.9 461.6,828.4 462.7,833.9 463.8,822.8 464.9,821.2 466.0,815.4 467.1,801.8 468.2,800.2 469.3,793.2 470.4,781.6 471.5,775.6 472.6,770.6 473.7,755.6 474.8,754.5 475.9,750.1 477.0,742.5 478.1,734.4 479.2,734.7 480.3,737.8 481.4,735.2 482.5,730.5 483.6,730.5 484.7,737.0 485.8,742.1 486.9,745.3 488.0,751.9 489.1,761.1 490.2,769.5 491.3,766.5 492.4,786.5 493.5,792.5 494.6,804.3 495.7,808.3 496.8,817.6 497.9,829.4 499.0,821.9 500.1,844.5 501.2,847.0 502.3,846.8 503.4,849.8 504.5,865.2 505.6,866.1 506.7,877.8 507.8,879.6 508.9,882.4 510.0,889.3 511.1,889.3 512.2,893.6 513.3,896.2 514.4,896.5 515.5,900.0 516.6,901.7 517.7,896.2 518.8,901.2 519.9,903.0 521.0,903.4 522.1,900.6 523.2,905.1 524.3,909.2 525.4,909.8 526.5,915.1 527.6,909.0 528.7,910.3 529.8,910.5 530.9,911.9 532.0,911.3 533.1,907.3 534.2,914.9 535.3,917.2 536.4,917.8 537.5,910.7 538.6,913.8 539.7,920.8 540.8,914.5 541.9,916.1 543.0,914.6 544.1,918.6 545.2,918.6 546.3,923.2 547.4,917.3 548.5,917.3 549.6,911.9 550.7,914.7 551.8,913.8 552.9,915.1 554.0,912.0 555.1,920.4 556.2,913.0 557.3,917.5 558.4,912.5 559.5,917.8 560.6,922.2 561.7,914.1 562.8,918.0 563.9,916.7 565.0,917.9 566.1,918.3 567.2,914.9 568.3,916.4 569.4,915.1 570.5,914.3" fill="none" stroke="#03c8c8" stroke-width="7.5" stroke-linejoin="round" stroke-linecap="butt" />
<polyline points="103.0,1232.2 104.1,1219.6 105.2,1230.2 106.3,1228.0 107.4,1231.3 108.5,1229.0 109.6,1232.9 110.7,1228.3 111.8,1227.0 112.9,1229.9 114.0,1229.6 115.1,1227.7 116.2,1228.1 117.3,1230.7 118.4,1230.7 119.5,1227.7 120.6,1228.1 121.7,1224.5 122.8,1233.6 123.9,1228.8 125.0,1232.9 126.1,1230.6 127.2,1234.7 128.3,1233.7 129.4,1230.6 130.5,1233.7 131.6,1227.5 132.7,1233.3 133.8,1226.3 134.9,1231.1 136.0,1233.0 137.1,1230.9 138.2,1229.5 139.3,1228.4 140.4,1229.7 141.5,1233.4 142.6,1233.1 143.7,1230.1 144.8,1227.6 145.9,1232.7 147.0,1227.3 148.1,1229.7 149.2,1229.3 150.3,1233.2 151.4,1231.9 152.5,1232.6 153.6,1232.1 154.7,1229.7 155.8,1232.9 156.9,1235.3 158.0,1231.6 159.1,1233.4 160.2,1231.5 161.3,1234.5 162.4,1233.6 163.5,1234.2 164.6,1232.9 165.7,1236.3 166.8,1231.2 167.9,1231.3 169.0,1230.7 170.1,1233.8 171.2,1230.7 172.3,1230.7 173.4,1234.3 174.5,1235.4 175.6,1234.0 176.7,1225.5 177.8,1230.0 178.9,1229.8 180.0,1229.5 181.1,1231.6 182.2,1237.4 183.3,1231.9 184.4,1230.8 185.5,1234.5 186.6,1232.9 187.7,1233.1 188.8,1231.0 189.9,1232.8 191.0,1234.0 192.1,1227.9 193.2,1228.7 194.3,1235.7 195.4,1235.1 196.5,1231.6 197.6,1230.3 198.7,1232.5 199.8,1229.9 200.9,1232.1 202.0,1237.3 203.1,1233.4 204.2,1236.1 205.3,1232.5 206.4,1234.1 207.5,1236.8 208.6,1229.7 209.7,1232.3 210.8,1232.8 211.9,1234.0 213.0,1237.3 214.1,1235.1 215.2,1229.5 216.3,1232.7 217.4,1231.1 218.5,1231.1 219.6,1238.8 220.7,1230.8 221.8,1234.2 222.9,1231.8 224.0,1236.0 225.1,1234.7 226.2,1234.2 227.3,1233.8 228.4,1237.0 229.5,1231.8 230.6,1232.4 231.7,1231.6 232.8,1238.1 233.9,1234.0 235.0,1232.3 236.1,1234.1 237.2,1241.8 238.3,1235.3 239.4,1238.0 240.5,1237.2 241.6,1236.2 242.7,1234.7 243.8,1235.8 244.9,1236.0 246.0,1231.5 247.1,1244.2 248.2,1240.2 249.3,1238.3 250.4,1237.8 251.5,1236.5 252.6,1241.3 253.7,1238.7 254.8,1240.7 255.9,1236.1 257.0,1241.0 258.1,1245.5 259.2,1239.8 260.3,1243.0 261.4,1241.3 262.5,1244.4 263.6,1244.6 264.7,1242.4 265.8,1241.1 266.9,1243.7 268.0,1243.5 269.1,1242.2 270.2,1245.4 271.3,1245.8 272.4,1242.9 273.5,1245.3 274.6,1253.7 275.7,1248.7 276.8,1247.4 277.9,1254.1 279.0,1246.9 280.1,1242.2 281.2,1244.2 282.3,1245.7 283.4,1250.8 284.5,1253.2 285.6,1245.5 286.7,1254.5 287.8,1248.9 288.9,1253.3 290.0,1254.3 291.1,1254.6 292.2,1254.0 293.3,1254.9 294.4,1251.9 295.5,1256.0 296.6,1258.2 297.7,1258.4 298.8,1263.2 299.9,1259.6 301.0,1259.1 302.1,1261.9 303.2,1258.7 304.3,1255.1 305.4,1253.1 306.5,1262.6 307.6,1261.1 308.7,1262.2 309.8,1259.4 310.9,1261.4 312.0,1265.6 313.1,1261.8 314.2,1258.1 315.3,1259.9 316.4,1264.6 317.5,1258.1 318.6,1254.2 319.7,1254.9 320.8,1257.4 321.9,1262.9 323.0,1260.9 324.1,1258.7 325.2,1257.2 326.3,1260.2 327.4,1260.0 328.5,1258.8 329.6,1259.5 330.7,1258.1 331.8,1264.6 332.9,1253.7 334.0,1260.0 335.1,1257.0 336.2,1261.3 337.3,1258.7 338.4,1260.2 339.5,1260.5 340.6,1259.5 341.7,1261.5 342.8,1255.2 343.9,1261.1 345.0,1258.0 346.1,1259.5 347.2,1262.4 348.3,1261.2 349.4,1263.4 350.5,1252.3 351.6,1255.6 352.7,1260.5 353.8,1255.0 354.9,1257.4 356.0,1262.2 357.1,1260.0 358.2,1255.1 359.3,1258.7 360.4,1259.2 361.5,1257.6 362.6,1257.1 363.7,1257.7 364.8,1253.3 365.9,1257.5 367.0,1254.6 368.1,1258.1 369.2,1258.1 370.3,1254.6 371.4,1258.5 372.5,1257.7 373.6,1256.6 374.7,1258.6 375.8,1255.8 376.9,1255.8 378.0,1256.7 379.1,1256.3 380.2,1259.3 381.3,1250.1 382.4,1255.4 383.5,1250.9 384.6,1254.7 385.7,1256.6 386.8,1255.8 387.9,1258.2 389.0,1256.4 390.1,1248.4 391.2,1252.5 392.3,1259.3 393.4,1259.2 394.5,1255.3 395.6,1250.9 396.7,1260.5 397.8,1249.3 398.9,1255.4 400.0,1254.3 401.1,1254.9 402.2,1251.1 403.3,1253.0 404.4,1256.7 405.5,1252.4 406.6,1250.0 407.7,1253.3 408.8,1253.4 409.9,1252.7 411.0,1250.7 412.1,1254.0 413.2,1251.9 414.3,1248.9 415.4,1252.1 416.5,1251.1 417.6,1251.1 418.7,1245.8 419.8,1247.7 420.9,1250.4 422.0,1251.1 423.1,1249.0 424.2,1247.8 425.3,1248.7 426.4,1248.7 427.5,1250.0 428.6,1245.9 429.7,1242.4 430.8,1244.4 431.9,1237.2 433.0,1241.6 434.1,1239.4 435.2,1239.6 436.3,1239.8 437.4,1237.5 438.5,1232.3 439.6,1233.7 440.7,1231.0 441.8,1231.3 442.9,1230.5 444.0,1225.1 445.1,1227.4 446.2,1226.6 447.3,1220.2 448.4,1220.2 449.5,1211.8 450.6,1211.4 451.7,1212.3 452.8,1201.9 453.9,1200.9 455.0,1194.9 456.1,1194.5 457.2,1188.0 458.3,1176.4 459.4,1170.8 460.5,1155.7 461.6,1156.3 462.7,1146.3 463.8,1138.4 464.9,1116.7 466.0,1110.6 467.1,1095.4 468.2,1075.1 469.3,1064.7 470.4,1050.5 471.5,1037.0 472.6,1019.9 473.7,1002.6 474.8,990.7 475.9,974.9 477.0,960.3 478.1,948.4 479.2,942.4 480.3,933.6 481.4,931.3 482.5,922.3 483.6,930.4 484.7,934.8 485.8,946.4 486.9,952.0 488.0,965.9 489.1,979.4 490.2,993.3 491.3,1004.4 492.4,1023.0 493.5,1040.6 494.6,1060.2 495.7,1075.6 496.8,1091.0 497.9,1110.7 499.0,1127.1 500.1,1146.9 501.2,1153.9 502.3,1165.3 503.4,1174.1 504.5,1187.0 505.6,1194.4 506.7,1201.0 507.8,1202.3 508.9,1206.9 510.0,1216.3 511.1,1222.0 512.2,1228.1 513.3,1223.4 514.4,1231.2 515.5,1230.5 516.6,1235.4 517.7,1240.2 518.8,1245.8 519.9,1244.4 521.0,1246.2 522.1,1249.4 523.2,1255.5 524.3,1260.5 525.4,1252.0 526.5,1257.0 527.6,1258.2 528.7,1264.0 529.8,1263.5 530.9,1267.8 532.0,1262.6 533.1,1266.6 534.2,1266.6 535.3,1266.2 536.4,1269.9 537.5,1268.4 538.6,1278.3 539.7,1274.8 540.8,1272.1 541.9,1274.1 543.0,1281.1 544.1,1276.2 545.2,1279.9 546.3,1280.3 547.4,1282.4 548.5,1281.9 549.6,1280.4 550.7,1280.0 551.8,1277.6 552.9,1282.7 554.0,1283.7 555.1,1283.0 556.2,1284.0 557.3,1281.6 558.4,1290.7 559.5,1284.0 560.6,1282.8 561.7,1284.0 562.8,1285.1 563.9,1287.3 565.0,1278.8 566.1,1286.1 567.2,1282.7 568.3,1283.2 569.4,1285.7 570.5,1284.3" fill="none" stroke="#03c803" stroke-width="7.5" stroke-linejoin="round" stroke-linecap="butt" />
<polyline points="103.0,1635.9 104.1,1629.9 105.2,1627.7 106.3,1622.9 107.4,1632.1 108.5,1637.9 109.6,1633.5 110.7,1635.3 111.8,1637.1 112.9,1630.2 114.0,1643.0 115.1,1630.3 116.2,1634.8 117.3,1643.3 118.4,1633.0 119.5,1633.9 120.6,1631.6 121.7,1634.7 122.8,1625.8 123.9,1631.1 125.0,1639.6 126.1,1634.3 127.2,1632.6 128.3,1634.9 129.4,1635.0 130.5,1634.1 131.6,1635.6 132.7,1627.6 133.8,1635.7 134.9,1631.1 136.0,1636.4 137.1,1633.5 138.2,1630.0 139.3,1633.4 140.4,1630.0 141.5,1637.3 142.6,1633.6 143.7,1636.7 144.8,1629.7 145.9,1639.5 147.0,1632.6 148.1,1638.6 149.2,1636.8 150.3,1629.8 151.4,1634.9 152.5,1631.8 153.6,1635.3 154.7,1639.0 155.8,1636.3 156.9,1637.7 158.0,1629.7 159.1,1634.6 160.2,1635.2 161.3,1637.9 162.4,1631.7 163.5,1636.0 164.6,1635.5 165.7,1628.5 166.8,1630.3 167.9,1635.7 169.0,1629.8 170.1,1629.7 171.2,1637.3 172.3,1635.2 173.4,1633.3 174.5,1634.6 175.6,1632.7 176.7,1632.3 177.8,1632.6 178.9,1635.7 180.0,1639.0 181.1,1632.6 182.2,1634.1 183.3,1633.6 184.4,1629.8 185.5,1635.3 186.6,1637.5 187.7,1631.4 188.8,1637.5 189.9,1632.4 191.0,1638.7 192.1,1638.9 193.2,1633.2 194.3,1627.4 195.4,1633.4 196.5,1629.6 197.6,1629.9 198.7,1633.8 199.8,1639.6 200.9,1634.4 202.0,1634.0 203.1,1628.1 204.2,1632.7 205.3,1629.9 206.4,1636.8 207.5,1633.0 208.6,1634.8 209.7,1635.0 210.8,1634.4 211.9,1638.6 213.0,1636.9 214.1,1634.1 215.2,1635.8 216.3,1637.3 217.4,1640.3 218.5,1635.9 219.6,1640.7 220.7,1633.4 221.8,1634.8 222.9,1630.3 224.0,1638.7 225.1,1632.1 226.2,1632.1 227.3,1638.9 228.4,1634.1 229.5,1633.3 230.6,1639.5 231.7,1635.5 232.8,1639.6 233.9,1634.9 235.0,1639.0 236.1,1640.4 237.2,1636.9 238.3,1643.1 239.4,1635.3 240.5,1636.0 241.6,1637.2 242.7,1640.6 243.8,1636.0 244.9,1635.5 246.0,1638.1 247.1,1641.8 248.2,1635.9 249.3,1632.9 250.4,1637.1 251.5,1639.9 252.6,1635.8 253.7,1638.3 254.8,1631.2 255.9,1638.1 257.0,1638.5 258.1,1640.4 259.2,1639.4 260.3,1641.1 261.4,1634.9 262.5,1640.9 263.6,1632.8 264.7,1636.7 265.8,1643.0 266.9,1642.2 268.0,1632.6 269.1,1641.6 270.2,1638.1 271.3,1637.0 272.4,1640.8 273.5,1640.7 274.6,1645.4 275.7,1635.4 276.8,1639.3 277.9,1640.5 279.0,1634.6 280.1,1645.6 281.2,1647.9 282.3,1639.5 283.4,1643.3 284.5,1641.2 285.6,1643.3 286.7,1640.0 287.8,1645.6 288.9,1638.5 290.0,1647.8 291.1,1644.3 292.2,1651.8 293.3,1637.2 294.4,1642.9 295.5,1638.6 296.6,1642.8 297.7,1644.9 298.8,1640.0 299.9,1638.1 301.0,1637.1 302.1,1644.1 303.2,1647.9 304.3,1647.5 305.4,1643.4 306.5,1639.8 307.6,1642.0 308.7,1637.9 309.8,1637.6 310.9,1647.1 312.0,1642.3 313.1,1644.4 314.2,1642.3 315.3,1648.1 316.4,1648.5 317.5,1640.5 318.6,1642.0 319.7,1640.9 320.8,1648.0 321.9,1647.8 323.0,1642.3 324.1,1651.6 325.2,1643.4 326.3,1638.9 327.4,1636.0 328.5,1642.8 329.6,1644.5 330.7,1641.2 331.8,1644.6 332.9,1647.6 334.0,1643.1 335.1,1646.3 336.2,1649.3 337.3,1645.1 338.4,1641.2 339.5,1644.9 340.6,1645.2 341.7,1651.0 342.8,1641.7 343.9,1637.7 345.0,1644.4 346.1,1644.5 347.2,1641.8 348.3,1645.3 349.4,1644.4 350.5,1647.7 351.6,1640.3 352.7,1640.8 353.8,1643.2 354.9,1641.5 356.0,1647.9 357.1,1645.4 358.2,1643.2 359.3,1648.8 360.4,1645.1 361.5,1646.9 362.6,1646.2 363.7,1642.8 364.8,1642.8 365.9,1643.3 367.0,1639.4 368.1,1642.1 369.2,1646.4 370.3,1644.4 371.4,1639.9 372.5,1651.8 373.6,1639.6 374.7,1645.5 375.8,1645.9 376.9,1647.8 378.0,1640.1 379.1,1643.3 380.2,1642.4 381.3,1647.2 382.4,1644.4 383.5,1644.5 384.6,1644.9 385.7,1649.9 386.8,1645.3 387.9,1645.9 389.0,1639.3 390.1,1645.1 391.2,1638.0 392.3,1645.9 393.4,1642.9 394.5,1639.1 395.6,1638.0 396.7,1641.7 397.8,1642.4 398.9,1639.8 400.0,1640.5 401.1,1640.5 402.2,1639.6 403.3,1640.6 404.4,1642.2 405.5,1645.7 406.6,1643.2 407.7,1638.7 408.8,1646.5 409.9,1644.7 411.0,1639.4 412.1,1643.8 413.2,1638.1 414.3,1637.1 415.4,1637.1 416.5,1645.3 417.6,1639.9 418.7,1640.3 419.8,1639.2 420.9,1637.4 422.0,1640.4 423.1,1640.9 424.2,1645.3 425.3,1635.0 426.4,1643.3 427.5,1639.9 428.6,1631.1 429.7,1640.5 430.8,1642.4 431.9,1640.2 433.0,1636.7 434.1,1636.0 435.2,1627.8 436.3,1635.5 437.4,1634.4 438.5,1629.8 439.6,1633.2 440.7,1629.3 441.8,1638.7 442.9,1624.2 444.0,1622.5 445.1,1614.9 446.2,1618.0 447.3,1617.0 448.4,1614.3 449.5,1610.2 450.6,1614.2 451.7,1610.6 452.8,1612.9 453.9,1607.0 455.0,1599.9 456.1,1604.4 457.2,1599.8 458.3,1604.7 459.4,1597.4 460.5,1596.2 461.6,1594.2 462.7,1585.7 463.8,1586.5 464.9,1587.6 466.0,1579.0 467.1,1576.5 468.2,1573.3 469.3,1566.1 470.4,1563.9 471.5,1563.6 472.6,1557.8 473.7,1556.6 474.8,1553.7 475.9,1548.9 477.0,1547.4 478.1,1559.9 479.2,1559.7 480.3,1557.2 481.4,1564.6 482.5,1569.2 483.6,1572.9 484.7,1572.3 485.8,1572.2 486.9,1576.6 488.0,1584.4 489.1,1594.4 490.2,1599.6 491.3,1597.6 492.4,1601.6 493.5,1611.3 494.6,1618.3 495.7,1611.1 496.8,1619.5 497.9,1621.8 499.0,1623.5 500.1,1626.6 501.2,1629.2 502.3,1632.5 503.4,1628.5 504.5,1635.2 505.6,1639.3 506.7,1640.2 507.8,1641.4 508.9,1640.7 510.0,1641.0 511.1,1648.1 512.2,1641.3 513.3,1643.2 514.4,1647.7 515.5,1644.0 516.6,1639.7 517.7,1642.9 518.8,1643.8 519.9,1645.3 521.0,1644.7 522.1,1650.3 523.2,1649.7 524.3,1649.3 525.4,1646.5 526.5,1652.0 527.6,1652.3 528.7,1656.9 529.8,1647.2 530.9,1649.3 532.0,1655.0 533.1,1646.4 534.2,1651.6 535.3,1651.7 536.4,1651.4 537.5,1648.0 538.6,1651.8 539.7,1646.6 540.8,1656.5 541.9,1650.7 543.0,1653.3 544.1,1652.9 545.2,1653.9 546.3,1653.9 547.4,1655.2 548.5,1652.6 549.6,1654.3 550.7,1650.4 551.8,1650.9 552.9,1651.8 554.0,1651.5 555.1,1650.4 556.2,1653.3 557.3,1658.0 558.4,1657.4 559.5,1654.7 560.6,1657.5 561.7,1657.9 562.8,1666.3 563.9,1651.3 565.0,1658.0 566.1,1652.6 567.2,1662.0 568.3,1656.9 569.4,1659.5 570.5,1658.8" fill="none" stroke="#03c803" stroke-width="7.5" stroke-linejoin="round" stroke-linecap="butt" />
<polyline points="578.0,535.5 580.1,540.5 582.3,526.7 584.4,541.4 586.6,534.3 588.7,523.8 590.9,531.3 593.0,530.2 595.2,531.9 597.3,538.5 599.5,537.5 601.6,543.7 603.8,528.1 605.9,514.2 608.1,541.9 610.2,539.5 612.4,544.7 614.5,540.7 616.7,521.9 618.8,553.0 621.0,544.2 623.1,536.7 625.3,524.8 627.4,535.9 629.6,535.3 631.7,539.7 633.9,536.5 636.0,542.6 638.2,532.7 640.3,538.0 642.5,538.1 644.6,532.4 646.8,531.0 648.9,540.2 651.1,538.2 653.2,535.3 655.4,537.6 657.5,533.1 659.7,536.9 661.8,533.4 664.0,538.4 666.1,540.0 668.3,534.4 670.4,539.4 672.6,531.5 674.7,534.6 676.9,530.0 679.0,535.3 681.2,536.7 683.3,534.8 685.5,534.5 687.6,553.6 689.8,541.5 691.9,530.4 694.1,540.3 696.2,528.1 698.4,525.4 700.5,534.5 702.7,535.6 704.8,530.7 707.0,532.0 709.1,535.2 711.3,531.2 713.4,524.2 715.6,533.8 717.7,532.7 719.9,526.1 722.0,523.9 724.2,520.7 726.3,516.4 728.5,513.5 730.6,508.9 732.8,513.9 734.9,509.0 737.1,507.0 739.2,506.7 741.4,506.5 743.5,508.6 745.7,499.9 747.8,497.7 750.0,498.6 752.1,492.5 754.3,499.7 756.4,505.0 758.6,499.9 760.7,488.0 762.9,496.3 765.0,488.4 767.2,488.4 769.3,478.1 771.5,454.3 773.6,478.5 775.8,467.5 777.9,466.5 780.1,471.8 782.2,467.5 784.4,458.2 786.5,461.7 788.7,459.0 790.8,462.6 793.0,431.9 795.1,455.4 797.3,457.9 799.4,467.3 801.6,460.4 803.7,456.0 805.9,465.1 808.0,475.5 810.2,476.0 812.3,496.5 814.5,475.3 816.6,470.6 818.8,486.1 820.9,474.5 823.1,472.1 825.2,475.2 827.4,492.6 829.5,472.2 831.7,462.8 833.8,476.4 836.0,478.3 838.1,476.6 840.3,469.7 842.4,487.8 844.6,489.3 846.7,487.0 848.9,485.8 851.0,485.4 853.2,468.0 855.3,465.7 857.5,458.3 859.6,459.0 861.8,457.4 863.9,460.1 866.1,441.1 868.2,455.3 870.4,447.4 872.5,450.7 874.7,459.0 876.8,444.3 879.0,450.4 881.1,455.3 883.3,440.3 885.4,447.1 887.6,437.9 889.7,438.9 891.9,427.6 894.0,430.4 896.2,423.2 898.3,435.3 900.5,440.7 902.6,438.5 904.8,438.7 906.9,439.2 909.1,448.0 911.2,443.5 913.4,455.3 915.5,447.0 917.7,453.2 919.8,462.9 922.0,465.9 924.1,465.1 926.3,473.4 928.4,469.5 930.6,487.4 932.7,490.7 934.9,490.3 937.0,499.7 939.2,500.9 941.3,506.0 943.5,509.6 945.6,509.7 947.8,520.3 949.9,518.7 952.1,520.5 954.2,524.9 956.4,520.3 958.5,516.2 960.7,521.2 962.8,526.7 965.0,525.0 967.1,527.7 969.3,529.2 971.4,525.9 973.6,525.5 975.7,523.4 977.9,532.6 980.0,525.5 982.2,525.4 984.3,526.3 986.5,530.4 988.6,539.9 990.8,537.8 992.9,528.7 995.1,536.4 997.2,539.0 999.4,547.2 1001.5,540.9 1003.7,537.2 1005.8,541.8 1008.0,532.7 1010.1,530.8 1012.3,537.3 1014.4,537.5 1016.6,544.5 1018.7,545.0 1020.9,536.2 1023.0,541.4 1025.2,541.9 1027.3,534.8 1029.5,532.2 1031.6,540.5 1033.8,541.5 1035.9,538.4 1038.1,529.6 1040.2,540.9 1042.4,538.6 1044.5,537.3 1046.7,539.6" fill="none" stroke="#03c8c8" stroke-width="7.5" stroke-linejoin="round" stroke-linecap="butt" />
<polyline points="578.0,536.9 580.0,536.9 582.0,536.9 584.0,536.9 586.0,536.9 588.0,536.9 590.0,536.9 592.0,536.9 594.0,536.9 596.0,536.9 598.0,536.9 600.0,536.9 602.0,536.9 604.0,536.9 606.0,536.9 608.0,536.9 610.0,536.9 612.0,536.9 614.0,536.9 616.0,536.9 618.0,536.9 620.0,536.9 622.0,536.9 624.0,536.9 626.0,536.9 628.0,536.9 630.0,536.9 632.0,536.9 634.0,536.9 636.0,536.9 638.0,536.9 640.0,536.9 642.0,536.9 644.0,536.9 646.0,536.9 648.0,536.9 650.0,536.9 652.0,536.9 654.0,536.9 656.0,536.9 658.0,536.9 660.0,536.9 662.0,536.9 664.0,536.9 666.0,536.9 668.0,536.8 670.0,536.8 672.0,536.8 674.0,536.8 676.0,536.8 678.0,536.8 680.0,536.8 682.0,536.8 684.0,536.8 686.0,536.8 688.0,536.8 690.0,536.8 692.0,536.8 694.0,536.8 696.0,536.8 698.0,536.8 700.0,536.7 702.0,536.7 704.0,536.7 706.0,536.7 708.0,536.7 710.0,536.7 712.0,536.7 714.0,536.7 716.0,536.6 718.0,536.6 720.0,536.6 722.0,536.6 724.0,536.6 726.0,536.6 728.0,536.5 730.0,536.5 732.0,536.5 734.0,536.5 736.0,536.4 738.0,536.4 740.0,536.3 742.0,536.3 744.0,536.2 746.0,536.1 748.0,536.0 750.0,535.9 752.0,535.8 754.0,535.6 756.0,535.3 758.0,535.0 760.0,534.6 762.0,534.1 764.0,533.6 766.0,532.9 768.0,532.0 770.0,531.1 772.0,529.9 774.0,528.7 776.0,527.2 778.0,525.6 780.0,523.9 782.0,522.0 784.0,520.1 786.0,518.1 788.0,516.2 790.0,514.3 792.0,512.5 794.0,511.0 796.0,509.8 798.0,509.0 800.0,508.6 802.0,508.7 804.0,509.2 806.0,510.1 808.0,511.5 810.0,513.1 812.0,514.9 814.0,516.9 816.0,519.0 818.0,521.1 820.0,523.1 822.0,525.0 824.0,526.9 826.0,528.5 828.0,530.1 830.0,531.5 832.0,532.7 834.0,533.7 836.0,534.6 838.0,535.4 840.0,536.1 842.0,536.6 844.0,537.1 846.0,537.4 848.0,537.8 850.0,538.0 852.0,538.2 854.0,538.4 856.0,538.6 858.0,538.8 860.0,538.9 862.0,539.0 864.0,539.1 866.0,539.2 868.0,539.3 870.0,539.4 872.0,539.5 874.0,539.6 876.0,539.7 878.0,539.9 880.0,540.0 882.0,540.1 884.0,540.2 886.0,540.3 888.0,540.4 890.0,540.5 892.0,540.6 894.0,540.7 896.0,540.8 898.0,540.9 900.0,541.0 902.0,541.1 904.0,541.2 906.0,541.3 908.0,541.4 910.0,541.5 912.0,541.6 914.0,541.7 916.0,541.8 918.0,541.9 920.0,542.0 922.0,542.0 924.0,542.1 926.0,542.2 928.0,542.2 930.0,542.3 932.0,542.3 934.0,542.4 936.0,542.4 938.0,542.4 940.0,542.5 942.0,542.5 944.0,542.5 946.0,542.6 948.0,542.6 950.0,542.6 952.0,542.6 954.0,542.7 956.0,542.7 958.0,542.7 960.0,542.7 962.0,542.7 964.0,542.7 966.0,542.8 968.0,542.8 970.0,542.8 972.0,542.8 974.0,542.8 976.0,542.8 978.0,542.8 980.0,542.8 982.0,542.8 984.0,542.8 986.0,542.8 988.0,542.8 990.0,542.8 992.0,542.8 994.0,542.9 996.0,542.9 998.0,542.9 1000.0,542.9 1002.0,542.9 1004.0,542.9 1006.0,542.9 1008.0,542.9 1010.0,542.9 1012.0,542.9 1014.0,542.9 1016.0,542.9 1018.0,542.9 1020.0,542.9 1022.0,542.9 1024.0,542.9 1026.0,542.9 1028.0,542.9 1030.0,542.9 1032.0,542.9 1034.0,542.9 1036.0,542.9 1038.0,542.9 1040.0,542.9 1042.0,542.9 1044.0,542.9 1046.0,542.9" fill="none" stroke="#e6001e" stroke-width="6.3" stroke-linejoin="round" stroke-linecap="butt" stroke-dasharray="2.9 3.6"/>
<polyline points="578.0,536.9 580.0,536.9 582.0,536.9 584.0,536.9 586.0,536.9 588.0,536.9 590.0,536.9 592.0,536.9 594.0,536.9 596.0,536.9 598.0,536.9 600.0,536.9 602.0,536.9 604.0,536.9 606.0,536.9 608.0,536.9 610.0,536.9 612.0,536.9 614.0,536.9 616.0,536.9 618.0,536.9 620.0,536.9 622.0,536.9 624.0,536.9 626.0,536.9 628.0,536.9 630.0,536.9 632.0,536.9 634.0,536.9 636.0,536.9 638.0,536.9 640.0,536.9 642.0,536.9 644.0,536.9 646.0,536.9 648.0,536.9 650.0,536.9 652.0,536.9 654.0,536.9 656.0,536.9 658.0,536.9 660.0,536.9 662.0,536.9 664.0,536.9 666.0,536.9 668.0,536.9 670.0,536.9 672.0,536.9 674.0,536.9 676.0,536.9 678.0,536.9 680.0,536.9 682.0,536.9 684.0,536.9 686.0,536.9 688.0,536.9 690.0,536.9 692.0,536.9 694.0,536.9 696.0,536.9 698.0,536.9 700.0,537.0 702.0,537.0 704.0,537.0 706.0,537.0 708.0,537.0 710.0,537.0 712.0,537.0 714.0,537.0 716.0,537.0 718.0,537.0 720.0,537.0 722.0,537.0 724.0,537.0 726.0,537.0 728.0,537.0 730.0,537.0 732.0,537.0 734.0,537.0 736.0,537.0 738.0,537.0 740.0,537.0 742.0,537.1 744.0,537.1 746.0,537.1 748.0,537.1 750.0,537.1 752.0,537.1 754.0,537.2 756.0,537.2 758.0,537.2 760.0,537.2 762.0,537.3 764.0,537.3 766.0,537.3 768.0,537.3 770.0,537.4 772.0,537.4 774.0,537.5 776.0,537.5 778.0,537.5 780.0,537.6 782.0,537.6 784.0,537.7 786.0,537.7 788.0,537.8 790.0,537.8 792.0,537.9 794.0,537.9 796.0,537.9 798.0,538.0 800.0,538.0 802.0,538.1 804.0,538.1 806.0,538.2 808.0,538.2 810.0,538.2 812.0,538.2 814.0,538.3 816.0,538.3 818.0,538.3 820.0,538.3 822.0,538.3 824.0,538.3 826.0,538.3 828.0,538.3 830.0,538.3 832.0,538.3 834.0,538.3 836.0,538.3 838.0,538.2 840.0,538.2 842.0,538.2 844.0,538.1 846.0,538.0 848.0,538.0 850.0,537.9 852.0,537.7 854.0,537.6 856.0,537.3 858.0,537.1 860.0,536.7 862.0,536.3 864.0,535.7 866.0,535.0 868.0,534.2 870.0,533.2 872.0,532.0 874.0,530.5 876.0,528.9 878.0,526.9 880.0,524.7 882.0,522.3 884.0,519.6 886.0,516.7 888.0,513.7 890.0,510.6 892.0,507.4 894.0,504.3 896.0,501.4 898.0,498.8 900.0,496.6 902.0,494.9 904.0,493.9 906.0,493.7 908.0,494.1 910.0,495.3 912.0,497.1 914.0,499.5 916.0,502.3 918.0,505.4 920.0,508.6 922.0,511.9 924.0,515.2 926.0,518.4 928.0,521.4 930.0,524.2 932.0,526.8 934.0,529.1 936.0,531.1 938.0,532.9 940.0,534.4 942.0,535.7 944.0,536.8 946.0,537.8 948.0,538.5 950.0,539.1 952.0,539.7 954.0,540.1 956.0,540.4 958.0,540.7 960.0,540.9 962.0,541.1 964.0,541.2 966.0,541.4 968.0,541.5 970.0,541.6 972.0,541.7 974.0,541.8 976.0,541.8 978.0,541.9 980.0,541.9 982.0,542.0 984.0,542.0 986.0,542.1 988.0,542.1 990.0,542.2 992.0,542.2 994.0,542.2 996.0,542.3 998.0,542.3 1000.0,542.3 1002.0,542.4 1004.0,542.4 1006.0,542.4 1008.0,542.4 1010.0,542.5 1012.0,542.5 1014.0,542.5 1016.0,542.5 1018.0,542.5 1020.0,542.5 1022.0,542.6 1024.0,542.6 1026.0,542.6 1028.0,542.6 1030.0,542.6 1032.0,542.6 1034.0,542.6 1036.0,542.7 1038.0,542.7 1040.0,542.7 1042.0,542.7 1044.0,542.7 1046.0,542.7" fill="none" stroke="#e6001e" stroke-width="6.3" stroke-linejoin="round" stroke-linecap="butt" stroke-dasharray="2.9 3.6"/>
<polyline points="578.0,537.0 580.0,537.0 582.0,537.0 584.0,537.0 586.0,537.0 588.0,537.0 590.0,537.0 592.0,537.0 594.0,537.0 596.0,537.0 598.0,537.0 600.0,537.0 602.0,537.0 604.0,537.0 606.0,537.0 608.0,537.0 610.0,537.0 612.0,537.0 614.0,537.0 616.0,537.0 618.0,537.0 620.0,537.0 622.0,537.0 624.0,537.0 626.0,537.0 628.0,537.0 630.0,537.0 632.0,537.0 634.0,537.0 636.0,537.0 638.0,537.0 640.0,537.0 642.0,537.0 644.0,537.0 646.0,537.0 648.0,537.0 650.0,537.0 652.0,537.0 654.0,537.0 656.0,537.0 658.0,537.0 660.0,537.0 662.0,537.0 664.0,537.0 666.0,537.0 668.0,537.0 670.0,537.0 672.0,537.0 674.0,537.0 676.0,537.0 678.0,537.0 680.0,537.0 682.0,537.0 684.0,537.0 686.0,537.0 688.0,537.0 690.0,537.0 692.0,537.0 694.0,537.0 696.0,537.0 698.0,537.0 700.0,537.0 702.0,537.0 704.0,537.0 706.0,537.0 708.0,537.0 710.0,537.0 712.0,537.0 714.0,537.1 716.0,537.1 718.0,537.1 720.0,537.1 722.0,537.1 724.0,537.1 726.0,537.1 728.0,537.1 730.0,537.1 732.0,537.1 734.0,537.1 736.0,537.1 738.0,537.1 740.0,537.2 742.0,537.2 744.0,537.2 746.0,537.2 748.0,537.2 750.0,537.2 752.0,537.3 754.0,537.3 756.0,537.3 758.0,537.3 760.0,537.3 762.0,537.4 764.0,537.4 766.0,537.4 768.0,537.5 770.0,537.5 772.0,537.5 774.0,537.6 776.0,537.6 778.0,537.6 780.0,537.7 782.0,537.7 784.0,537.7 786.0,537.8 788.0,537.8 790.0,537.8 792.0,537.8 794.0,537.8 796.0,537.8 798.0,537.7 800.0,537.7 802.0,537.6 804.0,537.4 806.0,537.3 808.0,537.0 810.0,536.8 812.0,536.4 814.0,536.0 816.0,535.6 818.0,535.1 820.0,534.6 822.0,534.0 824.0,533.4 826.0,532.8 828.0,532.2 830.0,531.6 832.0,531.2 834.0,530.8 836.0,530.5 838.0,530.4 840.0,530.4 842.0,530.6 844.0,531.0 846.0,531.4 848.0,532.0 850.0,532.6 852.0,533.3 854.0,534.0 856.0,534.6 858.0,535.3 860.0,535.9 862.0,536.5 864.0,537.1 866.0,537.6 868.0,538.0 870.0,538.4 872.0,538.8 874.0,539.1 876.0,539.3 878.0,539.6 880.0,539.8 882.0,540.0 884.0,540.1 886.0,540.3 888.0,540.4 890.0,540.5 892.0,540.7 894.0,540.8 896.0,540.9 898.0,541.0 900.0,541.1 902.0,541.2 904.0,541.3 906.0,541.5 908.0,541.6 910.0,541.7 912.0,541.7 914.0,541.8 916.0,541.9 918.0,542.0 920.0,542.1 922.0,542.1 924.0,542.2 926.0,542.3 928.0,542.3 930.0,542.4 932.0,542.4 934.0,542.5 936.0,542.5 938.0,542.5 940.0,542.6 942.0,542.6 944.0,542.6 946.0,542.7 948.0,542.7 950.0,542.7 952.0,542.7 954.0,542.7 956.0,542.8 958.0,542.8 960.0,542.8 962.0,542.8 964.0,542.8 966.0,542.8 968.0,542.8 970.0,542.8 972.0,542.9 974.0,542.9 976.0,542.9 978.0,542.9 980.0,542.9 982.0,542.9 984.0,542.9 986.0,542.9 988.0,542.9 990.0,542.9 992.0,542.9 994.0,542.9 996.0,542.9 998.0,542.9 1000.0,542.9 1002.0,542.9 1004.0,542.9 1006.0,542.9 1008.0,542.9 1010.0,542.9 1012.0,542.9 1014.0,542.9 1016.0,542.9 1018.0,542.9 1020.0,542.9 1022.0,543.0 1024.0,543.0 1026.0,543.0 1028.0,543.0 1030.0,543.0 1032.0,543.0 1034.0,543.0 1036.0,543.0 1038.0,543.0 1040.0,543.0 1042.0,543.0 1044.0,543.0 1046.0,543.0" fill="none" stroke="#000" stroke-width="6.3" stroke-linejoin="round" stroke-linecap="butt" stroke-dasharray="2.9 3.6"/>
<polyline points="578.0,537.0 580.0,537.0 582.0,537.0 584.0,537.0 586.0,537.0 588.0,537.0 590.0,537.0 592.0,537.0 594.0,537.0 596.0,537.0 598.0,537.0 600.0,537.0 602.0,537.0 604.0,537.0 606.0,537.0 608.0,537.0 610.0,537.0 612.0,537.0 614.0,537.0 616.0,537.0 618.0,537.0 620.0,537.0 622.0,537.0 624.0,537.0 626.0,537.0 628.0,537.0 630.0,537.0 632.0,537.0 634.0,537.0 636.0,537.0 638.0,537.0 640.0,537.0 642.0,537.0 644.0,537.0 646.0,537.0 648.0,537.0 650.0,537.0 652.0,537.0 654.0,537.0 656.0,537.0 658.0,537.0 660.0,537.0 662.0,537.0 664.0,537.0 666.0,537.0 668.0,537.0 670.0,537.0 672.0,537.0 674.0,537.0 676.0,537.0 678.0,537.0 680.0,537.0 682.0,537.0 684.0,537.0 686.0,537.0 688.0,537.0 690.0,537.0 692.0,537.1 694.0,537.1 696.0,537.1 698.0,537.1 700.0,537.1 702.0,537.1 704.0,537.1 706.0,537.1 708.0,537.1 710.0,537.1 712.0,537.1 714.0,537.1 716.0,537.1 718.0,537.1 720.0,537.1 722.0,537.1 724.0,537.1 726.0,537.1 728.0,537.1 730.0,537.1 732.0,537.2 734.0,537.2 736.0,537.2 738.0,537.2 740.0,537.2 742.0,537.2 744.0,537.2 746.0,537.3 748.0,537.3 750.0,537.3 752.0,537.3 754.0,537.4 756.0,537.4 758.0,537.4 760.0,537.5 762.0,537.5 764.0,537.5 766.0,537.6 768.0,537.6 770.0,537.6 772.0,537.7 774.0,537.7 776.0,537.8 778.0,537.8 780.0,537.9 782.0,537.9 784.0,538.0 786.0,538.0 788.0,538.1 790.0,538.2 792.0,538.2 794.0,538.3 796.0,538.3 798.0,538.4 800.0,538.5 802.0,538.5 804.0,538.6 806.0,538.6 808.0,538.7 810.0,538.7 812.0,538.8 814.0,538.8 816.0,538.9 818.0,538.9 820.0,539.0 822.0,539.0 824.0,539.0 826.0,539.1 828.0,539.1 830.0,539.1 832.0,539.2 834.0,539.2 836.0,539.2 838.0,539.3 840.0,539.3 842.0,539.3 844.0,539.4 846.0,539.4 848.0,539.4 850.0,539.5 852.0,539.5 854.0,539.5 856.0,539.6 858.0,539.6 860.0,539.7 862.0,539.7 864.0,539.7 866.0,539.8 868.0,539.8 870.0,539.9 872.0,539.9 874.0,540.0 876.0,540.0 878.0,540.1 880.0,540.1 882.0,540.2 884.0,540.2 886.0,540.3 888.0,540.3 890.0,540.3 892.0,540.3 894.0,540.3 896.0,540.3 898.0,540.2 900.0,540.1 902.0,540.0 904.0,539.8 906.0,539.5 908.0,539.2 910.0,538.8 912.0,538.4 914.0,537.8 916.0,537.2 918.0,536.5 920.0,535.8 922.0,535.0 924.0,534.2 926.0,533.4 928.0,532.7 930.0,532.0 932.0,531.4 934.0,531.0 936.0,530.7 938.0,530.6 940.0,530.8 942.0,531.1 944.0,531.6 946.0,532.3 948.0,533.0 950.0,533.8 952.0,534.7 954.0,535.6 956.0,536.4 958.0,537.2 960.0,538.0 962.0,538.7 964.0,539.3 966.0,539.9 968.0,540.4 970.0,540.8 972.0,541.1 974.0,541.4 976.0,541.7 978.0,541.9 980.0,542.0 982.0,542.2 984.0,542.3 986.0,542.3 988.0,542.4 990.0,542.5 992.0,542.5 994.0,542.6 996.0,542.6 998.0,542.6 1000.0,542.6 1002.0,542.7 1004.0,542.7 1006.0,542.7 1008.0,542.7 1010.0,542.7 1012.0,542.7 1014.0,542.8 1016.0,542.8 1018.0,542.8 1020.0,542.8 1022.0,542.8 1024.0,542.8 1026.0,542.8 1028.0,542.8 1030.0,542.8 1032.0,542.8 1034.0,542.9 1036.0,542.9 1038.0,542.9 1040.0,542.9 1042.0,542.9 1044.0,542.9 1046.0,542.9" fill="none" stroke="#000" stroke-width="6.3" stroke-linejoin="round" stroke-linecap="butt" stroke-dasharray="2.9 3.6"/>
<polyline points="578.0,536.7 580.0,536.7 582.0,536.7 584.0,536.7 586.0,536.7 588.0,536.7 590.0,536.7 592.0,536.6 594.0,536.6 596.0,536.6 598.0,536.6 600.0,536.6 602.0,536.6 604.0,536.6 606.0,536.6 608.0,536.6 610.0,536.6 612.0,536.6 614.0,536.6 616.0,536.5 618.0,536.5 620.0,536.5 622.0,536.5 624.0,536.5 626.0,536.5 628.0,536.5 630.0,536.5 632.0,536.5 634.0,536.4 636.0,536.4 638.0,536.4 640.0,536.4 642.0,536.4 644.0,536.4 646.0,536.3 648.0,536.3 650.0,536.3 652.0,536.3 654.0,536.3 656.0,536.2 658.0,536.2 660.0,536.2 662.0,536.2 664.0,536.1 666.0,536.1 668.0,536.1 670.0,536.0 672.0,536.0 674.0,536.0 676.0,535.9 678.0,535.9 680.0,535.8 682.0,535.8 684.0,535.7 686.0,535.6 688.0,535.6 690.0,535.5 692.0,535.4 694.0,535.3 696.0,535.1 698.0,535.0 700.0,534.8 702.0,534.6 704.0,534.4 706.0,534.2 708.0,533.9 710.0,533.6 712.0,533.3 714.0,532.9 716.0,532.4 718.0,531.9 720.0,531.4 722.0,530.8 724.0,530.1 726.0,529.4 728.0,528.6 730.0,527.7 732.0,526.8 734.0,525.8 736.0,524.7 738.0,523.5 740.0,522.3 742.0,521.0 744.0,519.6 746.0,518.2 748.0,516.7 750.0,515.2 752.0,513.7 754.0,512.1 756.0,510.6 758.0,509.0 760.0,507.5 762.0,506.1 764.0,504.7 766.0,503.5 768.0,502.3 770.0,501.3 772.0,500.4 774.0,499.7 776.0,499.3 778.0,499.0 780.0,498.9 782.0,499.1 784.0,499.5 786.0,500.1 788.0,500.8 790.0,501.8 792.0,502.9 794.0,504.2 796.0,505.6 798.0,507.0 800.0,508.6 802.0,510.2 804.0,511.8 806.0,513.4 808.0,515.1 810.0,516.7 812.0,518.2 814.0,519.8 816.0,521.3 818.0,522.7 820.0,524.1 822.0,525.4 824.0,526.6 826.0,527.7 828.0,528.8 830.0,529.8 832.0,530.7 834.0,531.6 836.0,532.3 838.0,533.0 840.0,533.7 842.0,534.3 844.0,534.8 846.0,535.3 848.0,535.7 850.0,536.1 852.0,536.5 854.0,536.8 856.0,537.1 858.0,537.4 860.0,537.6 862.0,537.8 864.0,538.0 866.0,538.2 868.0,538.4 870.0,538.5 872.0,538.7 874.0,538.8 876.0,539.0 878.0,539.1 880.0,539.3 882.0,539.4 884.0,539.5 886.0,539.6 888.0,539.8 890.0,539.9 892.0,540.0 894.0,540.2 896.0,540.3 898.0,540.4 900.0,540.5 902.0,540.6 904.0,540.8 906.0,540.9 908.0,541.0 910.0,541.1 912.0,541.2 914.0,541.3 916.0,541.4 918.0,541.5 920.0,541.6 922.0,541.7 924.0,541.7 926.0,541.8 928.0,541.9 930.0,541.9 932.0,542.0 934.0,542.0 936.0,542.1 938.0,542.1 940.0,542.2 942.0,542.2 944.0,542.3 946.0,542.3 948.0,542.3 950.0,542.3 952.0,542.4 954.0,542.4 956.0,542.4 958.0,542.4 960.0,542.5 962.0,542.5 964.0,542.5 966.0,542.5 968.0,542.5 970.0,542.5 972.0,542.6 974.0,542.6 976.0,542.6 978.0,542.6 980.0,542.6 982.0,542.6 984.0,542.6 986.0,542.6 988.0,542.6 990.0,542.7 992.0,542.7 994.0,542.7 996.0,542.7 998.0,542.7 1000.0,542.7 1002.0,542.7 1004.0,542.7 1006.0,542.7 1008.0,542.7 1010.0,542.7 1012.0,542.7 1014.0,542.7 1016.0,542.7 1018.0,542.7 1020.0,542.8 1022.0,542.8 1024.0,542.8 1026.0,542.8 1028.0,542.8 1030.0,542.8 1032.0,542.8 1034.0,542.8 1036.0,542.8 1038.0,542.8 1040.0,542.8 1042.0,542.8 1044.0,542.8 1046.0,542.8" fill="none" stroke="#0a0ad8" stroke-width="6.3" stroke-linejoin="round" stroke-linecap="butt" stroke-dasharray="2.9 3.6"/>
<polyline points="578.0,536.8 580.0,536.8 582.0,536.8 584.0,536.8 586.0,536.8 588.0,536.8 590.0,536.8 592.0,536.8 594.0,536.8 596.0,536.8 598.0,536.8 600.0,536.8 602.0,536.8 604.0,536.8 606.0,536.7 608.0,536.7 610.0,536.7 612.0,536.7 614.0,536.7 616.0,536.7 618.0,536.7 620.0,536.7 622.0,536.7 624.0,536.7 626.0,536.7 628.0,536.7 630.0,536.7 632.0,536.7 634.0,536.7 636.0,536.7 638.0,536.7 640.0,536.7 642.0,536.7 644.0,536.7 646.0,536.7 648.0,536.7 650.0,536.7 652.0,536.7 654.0,536.7 656.0,536.7 658.0,536.6 660.0,536.6 662.0,536.6 664.0,536.6 666.0,536.6 668.0,536.6 670.0,536.6 672.0,536.6 674.0,536.6 676.0,536.6 678.0,536.6 680.0,536.6 682.0,536.6 684.0,536.6 686.0,536.6 688.0,536.5 690.0,536.5 692.0,536.5 694.0,536.5 696.0,536.5 698.0,536.5 700.0,536.5 702.0,536.5 704.0,536.5 706.0,536.5 708.0,536.5 710.0,536.4 712.0,536.4 714.0,536.4 716.0,536.4 718.0,536.4 720.0,536.4 722.0,536.4 724.0,536.4 726.0,536.4 728.0,536.4 730.0,536.3 732.0,536.3 734.0,536.3 736.0,536.3 738.0,536.3 740.0,536.3 742.0,536.3 744.0,536.3 746.0,536.3 748.0,536.3 750.0,536.3 752.0,536.3 754.0,536.3 756.0,536.3 758.0,536.2 760.0,536.2 762.0,536.2 764.0,536.2 766.0,536.2 768.0,536.2 770.0,536.2 772.0,536.2 774.0,536.2 776.0,536.2 778.0,536.2 780.0,536.2 782.0,536.1 784.0,536.1 786.0,536.1 788.0,536.0 790.0,536.0 792.0,535.9 794.0,535.8 796.0,535.7 798.0,535.6 800.0,535.5 802.0,535.3 804.0,535.1 806.0,534.8 808.0,534.5 810.0,534.2 812.0,533.8 814.0,533.4 816.0,532.9 818.0,532.3 820.0,531.6 822.0,530.9 824.0,530.1 826.0,529.1 828.0,528.1 830.0,527.0 832.0,525.7 834.0,524.4 836.0,522.9 838.0,521.3 840.0,519.6 842.0,517.8 844.0,515.9 846.0,513.8 848.0,511.7 850.0,509.5 852.0,507.2 854.0,504.8 856.0,502.4 858.0,500.0 860.0,497.6 862.0,495.2 864.0,492.9 866.0,490.6 868.0,488.5 870.0,486.5 872.0,484.7 874.0,483.2 876.0,481.9 878.0,480.8 880.0,480.1 882.0,479.7 884.0,479.7 886.0,479.9 888.0,480.6 890.0,481.5 892.0,482.8 894.0,484.3 896.0,486.1 898.0,488.1 900.0,490.2 902.0,492.5 904.0,495.0 906.0,497.4 908.0,500.0 910.0,502.5 912.0,505.1 914.0,507.6 916.0,510.1 918.0,512.4 920.0,514.8 922.0,517.0 924.0,519.1 926.0,521.1 928.0,523.0 930.0,524.7 932.0,526.4 934.0,527.9 936.0,529.3 938.0,530.6 940.0,531.8 942.0,532.9 944.0,533.8 946.0,534.7 948.0,535.5 950.0,536.2 952.0,536.8 954.0,537.4 956.0,537.9 958.0,538.3 960.0,538.7 962.0,539.1 964.0,539.4 966.0,539.6 968.0,539.9 970.0,540.1 972.0,540.2 974.0,540.4 976.0,540.6 978.0,540.7 980.0,540.8 982.0,540.9 984.0,541.0 986.0,541.1 988.0,541.2 990.0,541.2 992.0,541.3 994.0,541.4 996.0,541.4 998.0,541.5 1000.0,541.5 1002.0,541.6 1004.0,541.6 1006.0,541.7 1008.0,541.7 1010.0,541.8 1012.0,541.8 1014.0,541.8 1016.0,541.9 1018.0,541.9 1020.0,541.9 1022.0,542.0 1024.0,542.0 1026.0,542.0 1028.0,542.0 1030.0,542.1 1032.0,542.1 1034.0,542.1 1036.0,542.1 1038.0,542.2 1040.0,542.2 1042.0,542.2 1044.0,542.2 1046.0,542.3" fill="none" stroke="#0a0ad8" stroke-width="6.3" stroke-linejoin="round" stroke-linecap="butt" stroke-dasharray="2.9 3.6"/>
<polyline points="578.5,535.7 580.6,533.8 582.8,538.4 584.9,531.1 587.1,545.1 589.2,540.3 591.4,542.3 593.5,535.6 595.7,550.0 597.8,535.0 600.0,533.8 602.1,541.3 604.3,528.3 606.4,532.2 608.6,540.8 610.7,531.8 612.9,524.8 615.0,536.5 617.2,542.0 619.3,536.3 621.5,542.8 623.6,533.8 625.8,527.9 627.9,533.4 630.1,536.9 632.2,535.9 634.4,536.5 636.5,537.0" fill="none" stroke="#0a0ad8" stroke-width="6.0" stroke-linejoin="round" stroke-linecap="butt" stroke-dasharray="5 2"/>
<polyline points="578.0,877.6 580.1,887.4 582.3,887.1 584.4,889.1 586.6,895.3 588.7,875.6 590.9,893.8 593.0,894.8 595.2,889.9 597.3,888.9 599.5,892.4 601.6,902.7 603.8,897.5 605.9,893.7 608.1,895.8 610.2,886.7 612.4,888.4 614.5,885.8 616.7,879.9 618.8,887.5 621.0,891.6 623.1,887.1 625.3,898.8 627.4,890.7 629.6,889.1 631.7,888.7 633.9,897.1 636.0,892.6 638.2,888.3 640.3,888.1 642.5,908.6 644.6,889.3 646.8,902.4 648.9,904.7 651.1,884.0 653.2,895.1 655.4,889.0 657.5,880.6 659.7,889.4 661.8,892.7 664.0,892.1 666.1,892.3 668.3,888.8 670.4,894.8 672.6,895.2 674.7,895.1 676.9,890.6 679.0,890.6 681.2,888.1 683.3,880.3 685.5,877.0 687.6,872.1 689.8,867.9 691.9,870.6 694.1,853.5 696.2,854.0 698.4,855.7 700.5,840.5 702.7,838.2 704.8,842.8 707.0,830.1 709.1,827.1 711.3,824.5 713.4,816.6 715.6,809.8 717.7,801.3 719.9,798.2 722.0,790.3 724.2,784.8 726.3,781.0 728.5,769.1 730.6,764.8 732.8,753.8 734.9,745.4 737.1,735.9 739.2,722.9 741.4,722.1 743.5,712.3 745.7,701.6 747.8,706.0 750.0,694.8 752.1,689.0 754.3,681.8 756.4,672.2 758.6,681.7 760.7,674.4 762.9,665.6 765.0,672.1 767.2,662.0 769.3,670.1 771.5,668.2 773.6,674.2 775.8,674.9 777.9,679.1 780.1,682.7 782.2,697.4 784.4,675.8 786.5,701.9 788.7,694.9 790.8,689.8 793.0,697.6 795.1,699.2 797.3,705.2 799.4,718.7 801.6,712.7 803.7,721.3 805.9,724.4 808.0,723.8 810.2,725.3 812.3,718.3 814.5,722.3 816.6,719.9 818.8,709.2 820.9,705.2 823.1,701.6 825.2,698.6 827.4,689.7 829.5,683.4 831.7,674.1 833.8,661.7 836.0,659.3 838.1,648.4 840.3,639.8 842.4,637.4 844.6,620.4 846.7,608.3 848.9,603.7 851.0,594.6 853.2,582.0 855.3,580.2 857.5,565.0 859.6,569.3 861.8,565.2 863.9,571.9 866.1,553.3 868.2,556.1 870.4,559.9 872.5,561.4 874.7,571.4 876.8,560.1 879.0,570.7 881.1,574.5 883.3,581.5 885.4,590.4 887.6,596.9 889.7,610.7 891.9,621.6 894.0,634.2 896.2,647.9 898.3,652.9 900.5,656.0 902.6,679.3 904.8,671.3 906.9,689.6 909.1,698.0 911.2,702.4 913.4,721.8 915.5,725.3 917.7,729.4 919.8,738.9 922.0,746.3 924.1,749.9 926.3,765.8 928.4,767.9 930.6,776.5 932.7,790.6 934.9,796.7 937.0,792.5 939.2,818.6 941.3,819.6 943.5,821.3 945.6,827.5 947.8,836.7 949.9,840.3 952.1,845.1 954.2,854.7 956.4,858.6 958.5,854.6 960.7,860.7 962.8,862.2 965.0,859.4 967.1,865.2 969.3,865.6 971.4,874.8 973.6,872.9 975.7,875.9 977.9,882.7 980.0,877.2 982.2,881.6 984.3,877.1 986.5,880.4 988.6,889.9 990.8,883.1 992.9,879.7 995.1,879.0 997.2,883.7 999.4,872.7 1001.5,882.8 1003.7,880.9 1005.8,879.1 1008.0,879.9 1010.1,888.8 1012.3,883.3 1014.4,881.6 1016.6,888.9 1018.7,885.8 1020.9,885.8 1023.0,890.9 1025.2,893.4 1027.3,894.6 1029.5,892.2 1031.6,892.6 1033.8,894.2 1035.9,897.5 1038.1,895.3 1040.2,897.8 1042.4,897.7 1044.5,899.2 1046.7,902.3" fill="none" stroke="#03c8c8" stroke-width="7.5" stroke-linejoin="round" stroke-linecap="butt" />
<polyline points="578.0,891.0 580.0,891.0 582.0,891.0 584.0,891.0 586.0,891.0 588.0,891.0 590.0,891.0 592.0,891.0 594.0,891.0 596.0,891.0 598.0,891.0 600.0,891.0 602.0,891.0 604.0,891.1 606.0,891.1 608.0,891.1 610.0,891.1 612.0,891.1 614.0,891.1 616.0,891.1 618.0,891.1 620.0,891.1 622.0,891.1 624.0,891.1 626.0,891.1 628.0,891.1 630.0,891.1 632.0,891.1 634.0,891.1 636.0,891.2 638.0,891.2 640.0,891.2 642.0,891.2 644.0,891.2 646.0,891.2 648.0,891.2 650.0,891.2 652.0,891.2 654.0,891.2 656.0,891.2 658.0,891.2 660.0,891.3 662.0,891.3 664.0,891.3 666.0,891.3 668.0,891.3 670.0,891.3 672.0,891.3 674.0,891.3 676.0,891.4 678.0,891.4 680.0,891.4 682.0,891.4 684.0,891.4 686.0,891.4 688.0,891.5 690.0,891.5 692.0,891.5 694.0,891.5 696.0,891.6 698.0,891.6 700.0,891.6 702.0,891.7 704.0,891.7 706.0,891.8 708.0,891.8 710.0,891.9 712.0,891.9 714.0,892.0 716.0,892.1 718.0,892.1 720.0,892.2 722.0,892.3 724.0,892.4 726.0,892.5 728.0,892.6 730.0,892.8 732.0,892.9 734.0,893.0 736.0,893.2 738.0,893.3 740.0,893.5 742.0,893.7 744.0,893.9 746.0,894.1 748.0,894.3 750.0,894.5 752.0,894.7 754.0,895.0 756.0,895.2 758.0,895.5 760.0,895.7 762.0,896.0 764.0,896.2 766.0,896.5 768.0,896.7 770.0,897.0 772.0,897.2 774.0,897.5 776.0,897.8 778.0,898.0 780.0,898.3 782.0,898.5 784.0,898.7 786.0,899.0 788.0,899.2 790.0,899.4 792.0,899.6 794.0,899.9 796.0,900.1 798.0,900.3 800.0,900.5 802.0,900.7 804.0,900.9 806.0,901.1 808.0,901.2 810.0,901.4 812.0,901.6 814.0,901.8 816.0,902.0 818.0,902.2 820.0,902.4 822.0,902.6 824.0,902.8 826.0,903.0 828.0,903.2 830.0,903.4 832.0,903.6 834.0,903.8 836.0,904.1 838.0,904.3 840.0,904.6 842.0,904.8 844.0,905.1 846.0,905.4 848.0,905.7 850.0,906.0 852.0,906.3 854.0,906.6 856.0,906.9 858.0,907.2 860.0,907.4 862.0,907.7 864.0,908.0 866.0,908.2 868.0,908.4 870.0,908.5 872.0,908.6 874.0,908.7 876.0,908.7 878.0,908.6 880.0,908.4 882.0,908.2 884.0,908.0 886.0,907.7 888.0,907.3 890.0,906.9 892.0,906.5 894.0,906.1 896.0,905.8 898.0,905.5 900.0,905.2 902.0,905.1 904.0,905.2 906.0,905.3 908.0,905.7 910.0,906.2 912.0,906.8 914.0,907.6 916.0,908.4 918.0,909.3 920.0,910.2 922.0,911.1 924.0,912.0 926.0,912.9 928.0,913.7 930.0,914.5 932.0,915.2 934.0,915.8 936.0,916.4 938.0,916.9 940.0,917.3 942.0,917.7 944.0,918.0 946.0,918.3 948.0,918.5 950.0,918.7 952.0,918.9 954.0,919.1 956.0,919.2 958.0,919.3 960.0,919.4 962.0,919.4 964.0,919.5 966.0,919.6 968.0,919.6 970.0,919.7 972.0,919.7 974.0,919.8 976.0,919.8 978.0,919.8 980.0,919.9 982.0,919.9 984.0,919.9 986.0,920.0 988.0,920.0 990.0,920.0 992.0,920.1 994.0,920.1 996.0,920.1 998.0,920.2 1000.0,920.2 1002.0,920.2 1004.0,920.3 1006.0,920.3 1008.0,920.4 1010.0,920.4 1012.0,920.4 1014.0,920.5 1016.0,920.5 1018.0,920.6 1020.0,920.6 1022.0,920.6 1024.0,920.7 1026.0,920.7 1028.0,920.7 1030.0,920.8 1032.0,920.8 1034.0,920.8 1036.0,920.8 1038.0,920.9 1040.0,920.9 1042.0,920.9 1044.0,920.9 1046.0,920.9" fill="none" stroke="#f5a81e" stroke-width="6.3" stroke-linejoin="round" stroke-linecap="butt" stroke-dasharray="2.9 3.6"/>
<polyline points="578.0,891.0 580.0,891.0 582.0,891.0 584.0,891.0 586.0,891.0 588.0,891.0 590.0,891.0 592.0,891.0 594.0,891.0 596.0,891.0 598.0,891.0 600.0,891.0 602.0,891.0 604.0,891.0 606.0,891.1 608.0,891.1 610.0,891.1 612.0,891.1 614.0,891.1 616.0,891.1 618.0,891.1 620.0,891.1 622.0,891.1 624.0,891.1 626.0,891.1 628.0,891.1 630.0,891.1 632.0,891.1 634.0,891.1 636.0,891.2 638.0,891.2 640.0,891.2 642.0,891.2 644.0,891.2 646.0,891.2 648.0,891.2 650.0,891.2 652.0,891.2 654.0,891.2 656.0,891.2 658.0,891.2 660.0,891.3 662.0,891.3 664.0,891.3 666.0,891.3 668.0,891.3 670.0,891.3 672.0,891.3 674.0,891.3 676.0,891.4 678.0,891.4 680.0,891.4 682.0,891.4 684.0,891.4 686.0,891.4 688.0,891.5 690.0,891.5 692.0,891.5 694.0,891.5 696.0,891.6 698.0,891.6 700.0,891.6 702.0,891.7 704.0,891.7 706.0,891.8 708.0,891.8 710.0,891.9 712.0,891.9 714.0,892.0 716.0,892.1 718.0,892.1 720.0,892.2 722.0,892.3 724.0,892.4 726.0,892.5 728.0,892.6 730.0,892.8 732.0,892.9 734.0,893.0 736.0,893.2 738.0,893.4 740.0,893.5 742.0,893.7 744.0,893.9 746.0,894.1 748.0,894.3 750.0,894.5 752.0,894.8 754.0,895.0 756.0,895.2 758.0,895.5 760.0,895.7 762.0,896.0 764.0,896.2 766.0,896.5 768.0,896.8 770.0,897.0 772.0,897.3 774.0,897.5 776.0,897.8 778.0,898.0 780.0,898.3 782.0,898.5 784.0,898.8 786.0,899.0 788.0,899.2 790.0,899.5 792.0,899.7 794.0,899.9 796.0,900.1 798.0,900.3 800.0,900.5 802.0,900.7 804.0,900.9 806.0,901.1 808.0,901.3 810.0,901.5 812.0,901.7 814.0,901.9 816.0,902.1 818.0,902.3 820.0,902.5 822.0,902.7 824.0,902.9 826.0,903.1 828.0,903.3 830.0,903.5 832.0,903.8 834.0,904.0 836.0,904.3 838.0,904.5 840.0,904.8 842.0,905.1 844.0,905.3 846.0,905.7 848.0,906.0 850.0,906.3 852.0,906.6 854.0,907.0 856.0,907.3 858.0,907.7 860.0,908.0 862.0,908.4 864.0,908.8 866.0,909.2 868.0,909.6 870.0,910.0 872.0,910.4 874.0,910.8 876.0,911.2 878.0,911.5 880.0,911.9 882.0,912.3 884.0,912.7 886.0,913.0 888.0,913.4 890.0,913.7 892.0,914.1 894.0,914.4 896.0,914.7 898.0,915.0 900.0,915.3 902.0,915.6 904.0,915.9 906.0,916.1 908.0,916.4 910.0,916.6 912.0,916.8 914.0,917.0 916.0,917.2 918.0,917.4 920.0,917.6 922.0,917.8 924.0,917.9 926.0,918.1 928.0,918.2 930.0,918.3 932.0,918.4 934.0,918.5 936.0,918.6 938.0,918.7 940.0,918.8 942.0,918.8 944.0,918.9 946.0,918.9 948.0,919.0 950.0,919.0 952.0,919.0 954.0,919.0 956.0,919.0 958.0,919.0 960.0,919.0 962.0,918.9 964.0,918.8 966.0,918.7 968.0,918.6 970.0,918.4 972.0,918.2 974.0,917.9 976.0,917.5 978.0,917.1 980.0,916.6 982.0,915.9 984.0,915.2 986.0,914.4 988.0,913.4 990.0,912.3 992.0,911.1 994.0,909.8 996.0,908.4 998.0,907.0 1000.0,905.5 1002.0,904.1 1004.0,902.7 1006.0,901.4 1008.0,900.3 1010.0,899.5 1012.0,898.9 1014.0,898.6 1016.0,898.7 1018.0,899.1 1020.0,899.8 1022.0,900.8 1024.0,902.0 1026.0,903.4 1028.0,904.8 1030.0,906.3 1032.0,907.9 1034.0,909.3 1036.0,910.7 1038.0,912.1 1040.0,913.3 1042.0,914.4 1044.0,915.4 1046.0,916.2" fill="none" stroke="#f5a81e" stroke-width="6.3" stroke-linejoin="round" stroke-linecap="butt" stroke-dasharray="2.9 3.6"/>
<polyline points="578.0,890.7 580.0,890.7 582.0,890.7 584.0,890.7 586.0,890.7 588.0,890.7 590.0,890.7 592.0,890.7 594.0,890.7 596.0,890.7 598.0,890.7 600.0,890.7 602.0,890.7 604.0,890.7 606.0,890.7 608.0,890.7 610.0,890.7 612.0,890.7 614.0,890.7 616.0,890.7 618.0,890.7 620.0,890.7 622.0,890.7 624.0,890.7 626.0,890.6 628.0,890.6 630.0,890.6 632.0,890.6 634.0,890.6 636.0,890.6 638.0,890.6 640.0,890.6 642.0,890.6 644.0,890.6 646.0,890.6 648.0,890.6 650.0,890.6 652.0,890.6 654.0,890.6 656.0,890.6 658.0,890.5 660.0,890.5 662.0,890.5 664.0,890.5 666.0,890.5 668.0,890.5 670.0,890.5 672.0,890.5 674.0,890.5 676.0,890.4 678.0,890.4 680.0,890.4 682.0,890.4 684.0,890.4 686.0,890.4 688.0,890.4 690.0,890.3 692.0,890.3 694.0,890.3 696.0,890.3 698.0,890.3 700.0,890.2 702.0,890.2 704.0,890.2 706.0,890.2 708.0,890.1 710.0,890.1 712.0,890.1 714.0,890.0 716.0,890.0 718.0,889.9 720.0,889.8 722.0,889.7 724.0,889.6 726.0,889.5 728.0,889.3 730.0,889.1 732.0,888.9 734.0,888.6 736.0,888.2 738.0,887.8 740.0,887.4 742.0,886.8 744.0,886.2 746.0,885.5 748.0,884.6 750.0,883.7 752.0,882.7 754.0,881.5 756.0,880.2 758.0,878.8 760.0,877.2 762.0,875.6 764.0,873.8 766.0,871.9 768.0,869.9 770.0,867.8 772.0,865.6 774.0,863.4 776.0,861.2 778.0,859.0 780.0,856.8 782.0,854.7 784.0,852.7 786.0,850.9 788.0,849.2 790.0,847.8 792.0,846.7 794.0,845.9 796.0,845.5 798.0,845.4 800.0,845.7 802.0,846.4 804.0,847.4 806.0,848.8 808.0,850.5 810.0,852.4 812.0,854.6 814.0,856.9 816.0,859.4 818.0,862.0 820.0,864.7 822.0,867.4 824.0,870.0 826.0,872.7 828.0,875.3 830.0,877.8 832.0,880.3 834.0,882.6 836.0,884.9 838.0,887.0 840.0,889.0 842.0,890.9 844.0,892.6 846.0,894.3 848.0,895.8 850.0,897.2 852.0,898.5 854.0,899.7 856.0,900.9 858.0,901.9 860.0,902.9 862.0,903.8 864.0,904.6 866.0,905.4 868.0,906.2 870.0,906.9 872.0,907.5 874.0,908.2 876.0,908.8 878.0,909.3 880.0,909.9 882.0,910.4 884.0,910.9 886.0,911.3 888.0,911.8 890.0,912.2 892.0,912.6 894.0,913.0 896.0,913.4 898.0,913.8 900.0,914.2 902.0,914.5 904.0,914.8 906.0,915.1 908.0,915.4 910.0,915.7 912.0,916.0 914.0,916.2 916.0,916.5 918.0,916.7 920.0,916.9 922.0,917.1 924.0,917.3 926.0,917.5 928.0,917.7 930.0,917.8 932.0,918.0 934.0,918.1 936.0,918.3 938.0,918.4 940.0,918.5 942.0,918.6 944.0,918.7 946.0,918.8 948.0,918.9 950.0,919.0 952.0,919.0 954.0,919.1 956.0,919.2 958.0,919.2 960.0,919.3 962.0,919.3 964.0,919.4 966.0,919.4 968.0,919.4 970.0,919.5 972.0,919.5 974.0,919.6 976.0,919.6 978.0,919.6 980.0,919.7 982.0,919.7 984.0,919.7 986.0,919.7 988.0,919.8 990.0,919.8 992.0,919.8 994.0,919.9 996.0,919.9 998.0,919.9 1000.0,920.0 1002.0,920.0 1004.0,920.1 1006.0,920.1 1008.0,920.1 1010.0,920.2 1012.0,920.2 1014.0,920.3 1016.0,920.3 1018.0,920.4 1020.0,920.4 1022.0,920.4 1024.0,920.5 1026.0,920.5 1028.0,920.5 1030.0,920.6 1032.0,920.6 1034.0,920.6 1036.0,920.7 1038.0,920.7 1040.0,920.7 1042.0,920.7 1044.0,920.7 1046.0,920.8" fill="none" stroke="#e6001e" stroke-width="6.3" stroke-linejoin="round" stroke-linecap="butt" stroke-dasharray="2.9 3.6"/>
<polyline points="578.0,890.8 580.0,890.8 582.0,890.8 584.0,890.8 586.0,890.8 588.0,890.8 590.0,890.8 592.0,890.8 594.0,890.8 596.0,890.8 598.0,890.8 600.0,890.8 602.0,890.8 604.0,890.8 606.0,890.8 608.0,890.8 610.0,890.8 612.0,890.8 614.0,890.8 616.0,890.8 618.0,890.8 620.0,890.8 622.0,890.8 624.0,890.8 626.0,890.8 628.0,890.8 630.0,890.8 632.0,890.8 634.0,890.8 636.0,890.8 638.0,890.8 640.0,890.8 642.0,890.8 644.0,890.8 646.0,890.9 648.0,890.9 650.0,890.9 652.0,890.9 654.0,890.9 656.0,890.9 658.0,890.9 660.0,890.9 662.0,890.9 664.0,890.9 666.0,890.9 668.0,890.9 670.0,890.9 672.0,890.9 674.0,890.9 676.0,890.9 678.0,890.9 680.0,890.9 682.0,891.0 684.0,891.0 686.0,891.0 688.0,891.0 690.0,891.0 692.0,891.0 694.0,891.0 696.0,891.1 698.0,891.1 700.0,891.1 702.0,891.1 704.0,891.2 706.0,891.2 708.0,891.2 710.0,891.3 712.0,891.3 714.0,891.4 716.0,891.4 718.0,891.5 720.0,891.6 722.0,891.6 724.0,891.7 726.0,891.8 728.0,891.9 730.0,892.0 732.0,892.1 734.0,892.3 736.0,892.4 738.0,892.5 740.0,892.7 742.0,892.8 744.0,893.0 746.0,893.2 748.0,893.4 750.0,893.6 752.0,893.8 754.0,894.0 756.0,894.2 758.0,894.4 760.0,894.6 762.0,894.9 764.0,895.1 766.0,895.3 768.0,895.5 770.0,895.8 772.0,896.0 774.0,896.2 776.0,896.4 778.0,896.6 780.0,896.8 782.0,897.0 784.0,897.2 786.0,897.4 788.0,897.6 790.0,897.7 792.0,897.9 794.0,898.1 796.0,898.2 798.0,898.3 800.0,898.5 802.0,898.6 804.0,898.7 806.0,898.8 808.0,898.9 810.0,898.9 812.0,899.0 814.0,899.0 816.0,899.0 818.0,899.0 820.0,899.0 822.0,899.0 824.0,898.9 826.0,898.8 828.0,898.6 830.0,898.4 832.0,898.1 834.0,897.8 836.0,897.4 838.0,897.0 840.0,896.4 842.0,895.7 844.0,894.9 846.0,894.0 848.0,893.0 850.0,891.8 852.0,890.5 854.0,889.0 856.0,887.3 858.0,885.5 860.0,883.5 862.0,881.3 864.0,878.9 866.0,876.4 868.0,873.6 870.0,870.8 872.0,867.8 874.0,864.7 876.0,861.5 878.0,858.3 880.0,855.1 882.0,851.8 884.0,848.7 886.0,845.7 888.0,842.9 890.0,840.3 892.0,838.0 894.0,836.0 896.0,834.5 898.0,833.4 900.0,832.9 902.0,832.8 904.0,833.3 906.0,834.3 908.0,835.8 910.0,837.7 912.0,840.1 914.0,842.9 916.0,845.9 918.0,849.2 920.0,852.8 922.0,856.4 924.0,860.1 926.0,863.9 928.0,867.7 930.0,871.4 932.0,875.0 934.0,878.6 936.0,882.0 938.0,885.2 940.0,888.3 942.0,891.2 944.0,893.9 946.0,896.5 948.0,898.8 950.0,900.9 952.0,902.9 954.0,904.7 956.0,906.3 958.0,907.7 960.0,909.0 962.0,910.1 964.0,911.1 966.0,912.0 968.0,912.8 970.0,913.5 972.0,914.1 974.0,914.7 976.0,915.1 978.0,915.6 980.0,915.9 982.0,916.2 984.0,916.5 986.0,916.8 988.0,917.0 990.0,917.2 992.0,917.4 994.0,917.6 996.0,917.7 998.0,917.9 1000.0,918.0 1002.0,918.1 1004.0,918.3 1006.0,918.4 1008.0,918.5 1010.0,918.6 1012.0,918.7 1014.0,918.8 1016.0,918.9 1018.0,919.0 1020.0,919.1 1022.0,919.2 1024.0,919.2 1026.0,919.3 1028.0,919.4 1030.0,919.5 1032.0,919.5 1034.0,919.6 1036.0,919.6 1038.0,919.7 1040.0,919.8 1042.0,919.8 1044.0,919.8 1046.0,919.9" fill="none" stroke="#e6001e" stroke-width="6.3" stroke-linejoin="round" stroke-linecap="butt" stroke-dasharray="2.9 3.6"/>
<polyline points="578.0,891.0 580.0,891.0 582.0,891.0 584.0,891.0 586.0,891.0 588.0,891.0 590.0,891.0 592.0,891.0 594.0,891.0 596.0,891.0 598.0,891.0 600.0,891.0 602.0,891.0 604.0,891.0 606.0,891.1 608.0,891.1 610.0,891.1 612.0,891.1 614.0,891.1 616.0,891.1 618.0,891.1 620.0,891.1 622.0,891.1 624.0,891.1 626.0,891.1 628.0,891.1 630.0,891.1 632.0,891.1 634.0,891.1 636.0,891.1 638.0,891.2 640.0,891.2 642.0,891.2 644.0,891.2 646.0,891.2 648.0,891.2 650.0,891.2 652.0,891.2 654.0,891.2 656.0,891.2 658.0,891.2 660.0,891.2 662.0,891.3 664.0,891.3 666.0,891.3 668.0,891.3 670.0,891.3 672.0,891.3 674.0,891.3 676.0,891.3 678.0,891.4 680.0,891.4 682.0,891.4 684.0,891.4 686.0,891.4 688.0,891.4 690.0,891.5 692.0,891.5 694.0,891.5 696.0,891.5 698.0,891.6 700.0,891.6 702.0,891.6 704.0,891.7 706.0,891.7 708.0,891.8 710.0,891.8 712.0,891.9 714.0,892.0 716.0,892.0 718.0,892.1 720.0,892.2 722.0,892.3 724.0,892.4 726.0,892.5 728.0,892.6 730.0,892.7 732.0,892.8 734.0,893.0 736.0,893.1 738.0,893.3 740.0,893.5 742.0,893.6 744.0,893.8 746.0,894.0 748.0,894.2 750.0,894.4 752.0,894.6 754.0,894.9 756.0,895.1 758.0,895.3 760.0,895.6 762.0,895.8 764.0,896.1 766.0,896.3 768.0,896.6 770.0,896.8 772.0,897.1 774.0,897.3 776.0,897.5 778.0,897.8 780.0,898.0 782.0,898.2 784.0,898.4 786.0,898.6 788.0,898.7 790.0,898.8 792.0,898.9 794.0,899.0 796.0,899.1 798.0,899.1 800.0,899.0 802.0,898.9 804.0,898.7 806.0,898.5 808.0,898.2 810.0,897.9 812.0,897.6 814.0,897.1 816.0,896.7 818.0,896.3 820.0,895.8 822.0,895.4 824.0,895.1 826.0,894.8 828.0,894.7 830.0,894.7 832.0,894.8 834.0,895.2 836.0,895.6 838.0,896.3 840.0,897.0 842.0,897.8 844.0,898.7 846.0,899.7 848.0,900.6 850.0,901.6 852.0,902.5 854.0,903.4 856.0,904.3 858.0,905.1 860.0,905.9 862.0,906.6 864.0,907.3 866.0,908.0 868.0,908.6 870.0,909.2 872.0,909.7 874.0,910.2 876.0,910.7 878.0,911.2 880.0,911.6 882.0,912.0 884.0,912.5 886.0,912.9 888.0,913.2 890.0,913.6 892.0,914.0 894.0,914.3 896.0,914.7 898.0,915.0 900.0,915.3 902.0,915.6 904.0,915.9 906.0,916.2 908.0,916.4 910.0,916.7 912.0,916.9 914.0,917.2 916.0,917.4 918.0,917.6 920.0,917.8 922.0,917.9 924.0,918.1 926.0,918.3 928.0,918.4 930.0,918.6 932.0,918.7 934.0,918.8 936.0,918.9 938.0,919.0 940.0,919.1 942.0,919.2 944.0,919.3 946.0,919.4 948.0,919.4 950.0,919.5 952.0,919.6 954.0,919.6 956.0,919.7 958.0,919.7 960.0,919.8 962.0,919.8 964.0,919.8 966.0,919.9 968.0,919.9 970.0,919.9 972.0,920.0 974.0,920.0 976.0,920.0 978.0,920.0 980.0,920.0 982.0,920.1 984.0,920.1 986.0,920.1 988.0,920.1 990.0,920.2 992.0,920.2 994.0,920.2 996.0,920.2 998.0,920.3 1000.0,920.3 1002.0,920.3 1004.0,920.4 1006.0,920.4 1008.0,920.4 1010.0,920.5 1012.0,920.5 1014.0,920.6 1016.0,920.6 1018.0,920.6 1020.0,920.7 1022.0,920.7 1024.0,920.7 1026.0,920.8 1028.0,920.8 1030.0,920.8 1032.0,920.8 1034.0,920.9 1036.0,920.9 1038.0,920.9 1040.0,920.9 1042.0,920.9 1044.0,921.0 1046.0,921.0" fill="none" stroke="#000" stroke-width="6.3" stroke-linejoin="round" stroke-linecap="butt" stroke-dasharray="2.9 3.6"/>
<polyline points="578.0,891.0 580.0,891.0 582.0,891.0 584.0,891.0 586.0,891.0 588.0,891.0 590.0,891.0 592.0,891.0 594.0,891.0 596.0,891.0 598.0,891.0 600.0,891.0 602.0,891.0 604.0,891.0 606.0,891.1 608.0,891.1 610.0,891.1 612.0,891.1 614.0,891.1 616.0,891.1 618.0,891.1 620.0,891.1 622.0,891.1 624.0,891.1 626.0,891.1 628.0,891.1 630.0,891.1 632.0,891.1 634.0,891.1 636.0,891.1 638.0,891.2 640.0,891.2 642.0,891.2 644.0,891.2 646.0,891.2 648.0,891.2 650.0,891.2 652.0,891.2 654.0,891.2 656.0,891.2 658.0,891.2 660.0,891.3 662.0,891.3 664.0,891.3 666.0,891.3 668.0,891.3 670.0,891.3 672.0,891.3 674.0,891.3 676.0,891.4 678.0,891.4 680.0,891.4 682.0,891.4 684.0,891.4 686.0,891.4 688.0,891.5 690.0,891.5 692.0,891.5 694.0,891.5 696.0,891.6 698.0,891.6 700.0,891.6 702.0,891.7 704.0,891.7 706.0,891.8 708.0,891.8 710.0,891.9 712.0,891.9 714.0,892.0 716.0,892.1 718.0,892.1 720.0,892.2 722.0,892.3 724.0,892.4 726.0,892.5 728.0,892.6 730.0,892.8 732.0,892.9 734.0,893.0 736.0,893.2 738.0,893.3 740.0,893.5 742.0,893.7 744.0,893.9 746.0,894.1 748.0,894.3 750.0,894.5 752.0,894.7 754.0,895.0 756.0,895.2 758.0,895.5 760.0,895.7 762.0,896.0 764.0,896.2 766.0,896.5 768.0,896.7 770.0,897.0 772.0,897.3 774.0,897.5 776.0,897.8 778.0,898.0 780.0,898.3 782.0,898.5 784.0,898.7 786.0,899.0 788.0,899.2 790.0,899.4 792.0,899.7 794.0,899.9 796.0,900.1 798.0,900.3 800.0,900.5 802.0,900.7 804.0,900.9 806.0,901.1 808.0,901.3 810.0,901.5 812.0,901.6 814.0,901.8 816.0,902.0 818.0,902.2 820.0,902.4 822.0,902.6 824.0,902.8 826.0,903.0 828.0,903.2 830.0,903.5 832.0,903.7 834.0,903.9 836.0,904.2 838.0,904.4 840.0,904.7 842.0,905.0 844.0,905.2 846.0,905.5 848.0,905.8 850.0,906.2 852.0,906.5 854.0,906.8 856.0,907.2 858.0,907.5 860.0,907.9 862.0,908.2 864.0,908.6 866.0,909.0 868.0,909.4 870.0,909.7 872.0,910.1 874.0,910.5 876.0,910.8 878.0,911.2 880.0,911.5 882.0,911.9 884.0,912.2 886.0,912.5 888.0,912.7 890.0,913.0 892.0,913.2 894.0,913.3 896.0,913.4 898.0,913.5 900.0,913.5 902.0,913.4 904.0,913.2 906.0,912.9 908.0,912.5 910.0,912.0 912.0,911.4 914.0,910.7 916.0,909.9 918.0,909.0 920.0,908.1 922.0,907.1 924.0,906.1 926.0,905.2 928.0,904.4 930.0,903.7 932.0,903.3 934.0,903.0 936.0,903.0 938.0,903.3 940.0,903.8 942.0,904.6 944.0,905.5 946.0,906.6 948.0,907.8 950.0,909.0 952.0,910.1 954.0,911.3 956.0,912.4 958.0,913.5 960.0,914.4 962.0,915.2 964.0,916.0 966.0,916.6 968.0,917.2 970.0,917.7 972.0,918.1 974.0,918.4 976.0,918.7 978.0,918.9 980.0,919.1 982.0,919.2 984.0,919.4 986.0,919.5 988.0,919.6 990.0,919.6 992.0,919.7 994.0,919.8 996.0,919.8 998.0,919.9 1000.0,920.0 1002.0,920.0 1004.0,920.1 1006.0,920.1 1008.0,920.2 1010.0,920.2 1012.0,920.3 1014.0,920.3 1016.0,920.4 1018.0,920.4 1020.0,920.5 1022.0,920.5 1024.0,920.5 1026.0,920.6 1028.0,920.6 1030.0,920.7 1032.0,920.7 1034.0,920.7 1036.0,920.7 1038.0,920.8 1040.0,920.8 1042.0,920.8 1044.0,920.8 1046.0,920.9" fill="none" stroke="#000" stroke-width="6.3" stroke-linejoin="round" stroke-linecap="butt" stroke-dasharray="2.9 3.6"/>
<polyline points="578.0,889.3 580.0,889.3 582.0,889.3 584.0,889.3 586.0,889.2 588.0,889.2 590.0,889.1 592.0,889.1 594.0,889.1 596.0,889.0 598.0,889.0 600.0,888.9 602.0,888.9 604.0,888.8 606.0,888.8 608.0,888.7 610.0,888.7 612.0,888.6 614.0,888.6 616.0,888.5 618.0,888.5 620.0,888.4 622.0,888.3 624.0,888.3 626.0,888.2 628.0,888.1 630.0,888.0 632.0,887.9 634.0,887.8 636.0,887.8 638.0,887.7 640.0,887.6 642.0,887.4 644.0,887.3 646.0,887.2 648.0,887.1 650.0,886.9 652.0,886.8 654.0,886.6 656.0,886.5 658.0,886.3 660.0,886.1 662.0,885.8 664.0,885.6 666.0,885.3 668.0,885.0 670.0,884.7 672.0,884.3 674.0,883.8 676.0,883.3 678.0,882.8 680.0,882.1 682.0,881.4 684.0,880.6 686.0,879.7 688.0,878.6 690.0,877.4 692.0,876.1 694.0,874.6 696.0,872.9 698.0,870.9 700.0,868.8 702.0,866.4 704.0,863.8 706.0,860.8 708.0,857.6 710.0,854.1 712.0,850.3 714.0,846.1 716.0,841.6 718.0,836.8 720.0,831.7 722.0,826.3 724.0,820.5 726.0,814.5 728.0,808.3 730.0,801.8 732.0,795.2 734.0,788.5 736.0,781.7 738.0,774.9 740.0,768.2 742.0,761.7 744.0,755.3 746.0,749.3 748.0,743.7 750.0,738.7 752.0,734.2 754.0,730.5 756.0,727.5 758.0,725.4 760.0,724.2 762.0,724.0 764.0,724.8 766.0,726.4 768.0,729.1 770.0,732.5 772.0,736.8 774.0,741.7 776.0,747.2 778.0,753.3 780.0,759.7 782.0,766.5 784.0,773.5 786.0,780.6 788.0,787.8 790.0,794.9 792.0,802.0 794.0,809.0 796.0,815.8 798.0,822.4 800.0,828.7 802.0,834.7 804.0,840.4 806.0,845.8 808.0,850.9 810.0,855.7 812.0,860.1 814.0,864.2 816.0,867.9 818.0,871.4 820.0,874.6 822.0,877.4 824.0,880.1 826.0,882.5 828.0,884.6 830.0,886.6 832.0,888.4 834.0,890.0 836.0,891.5 838.0,892.8 840.0,894.0 842.0,895.1 844.0,896.2 846.0,897.1 848.0,898.0 850.0,898.8 852.0,899.6 854.0,900.4 856.0,901.1 858.0,901.8 860.0,902.4 862.0,903.1 864.0,903.7 866.0,904.3 868.0,904.9 870.0,905.5 872.0,906.0 874.0,906.6 876.0,907.1 878.0,907.7 880.0,908.2 882.0,908.7 884.0,909.2 886.0,909.7 888.0,910.1 890.0,910.6 892.0,911.0 894.0,911.4 896.0,911.8 898.0,912.2 900.0,912.6 902.0,913.0 904.0,913.3 906.0,913.7 908.0,914.0 910.0,914.3 912.0,914.6 914.0,914.9 916.0,915.2 918.0,915.4 920.0,915.7 922.0,915.9 924.0,916.1 926.0,916.3 928.0,916.5 930.0,916.7 932.0,916.9 934.0,917.0 936.0,917.2 938.0,917.3 940.0,917.4 942.0,917.6 944.0,917.7 946.0,917.8 948.0,917.9 950.0,918.0 952.0,918.1 954.0,918.2 956.0,918.2 958.0,918.3 960.0,918.4 962.0,918.4 964.0,918.5 966.0,918.6 968.0,918.6 970.0,918.7 972.0,918.7 974.0,918.8 976.0,918.8 978.0,918.9 980.0,918.9 982.0,918.9 984.0,919.0 986.0,919.0 988.0,919.1 990.0,919.1 992.0,919.2 994.0,919.2 996.0,919.2 998.0,919.3 1000.0,919.3 1002.0,919.4 1004.0,919.4 1006.0,919.5 1008.0,919.5 1010.0,919.6 1012.0,919.6 1014.0,919.7 1016.0,919.7 1018.0,919.8 1020.0,919.8 1022.0,919.9 1024.0,919.9 1026.0,920.0 1028.0,920.0 1030.0,920.1 1032.0,920.1 1034.0,920.1 1036.0,920.2 1038.0,920.2 1040.0,920.2 1042.0,920.2 1044.0,920.3 1046.0,920.3" fill="none" stroke="#0a0ad8" stroke-width="6.3" stroke-linejoin="round" stroke-linecap="butt" stroke-dasharray="2.9 3.6"/>
<polyline points="578.0,889.9 580.0,889.9 582.0,889.9 584.0,889.9 586.0,889.8 588.0,889.8 590.0,889.8 592.0,889.8 594.0,889.8 596.0,889.8 598.0,889.8 600.0,889.7 602.0,889.7 604.0,889.7 606.0,889.7 608.0,889.7 610.0,889.7 612.0,889.7 614.0,889.6 616.0,889.6 618.0,889.6 620.0,889.6 622.0,889.6 624.0,889.6 626.0,889.5 628.0,889.5 630.0,889.5 632.0,889.5 634.0,889.5 636.0,889.4 638.0,889.4 640.0,889.4 642.0,889.4 644.0,889.3 646.0,889.3 648.0,889.3 650.0,889.3 652.0,889.2 654.0,889.2 656.0,889.2 658.0,889.2 660.0,889.1 662.0,889.1 664.0,889.1 666.0,889.0 668.0,889.0 670.0,889.0 672.0,888.9 674.0,888.9 676.0,888.9 678.0,888.8 680.0,888.8 682.0,888.8 684.0,888.7 686.0,888.7 688.0,888.6 690.0,888.6 692.0,888.6 694.0,888.5 696.0,888.5 698.0,888.4 700.0,888.4 702.0,888.4 704.0,888.3 706.0,888.3 708.0,888.3 710.0,888.2 712.0,888.2 714.0,888.2 716.0,888.1 718.0,888.1 720.0,888.1 722.0,888.1 724.0,888.1 726.0,888.0 728.0,888.0 730.0,888.0 732.0,888.0 734.0,888.0 736.0,888.0 738.0,888.1 740.0,888.1 742.0,888.1 744.0,888.1 746.0,888.1 748.0,888.1 750.0,888.1 752.0,888.1 754.0,888.1 756.0,888.1 758.0,888.0 760.0,888.0 762.0,887.9 764.0,887.8 766.0,887.7 768.0,887.5 770.0,887.3 772.0,887.0 774.0,886.6 776.0,886.2 778.0,885.7 780.0,885.1 782.0,884.4 784.0,883.5 786.0,882.5 788.0,881.4 790.0,880.0 792.0,878.5 794.0,876.7 796.0,874.6 798.0,872.3 800.0,869.7 802.0,866.8 804.0,863.5 806.0,859.8 808.0,855.7 810.0,851.3 812.0,846.3 814.0,840.9 816.0,835.1 818.0,828.8 820.0,822.0 822.0,814.7 824.0,806.9 826.0,798.8 828.0,790.2 830.0,781.2 832.0,771.8 834.0,762.2 836.0,752.4 838.0,742.4 840.0,732.3 842.0,722.2 844.0,712.3 846.0,702.5 848.0,693.1 850.0,684.2 852.0,675.9 854.0,668.3 856.0,661.6 858.0,655.9 860.0,651.4 862.0,648.0 864.0,646.0 866.0,645.4 868.0,646.1 870.0,648.2 872.0,651.7 874.0,656.4 876.0,662.3 878.0,669.3 880.0,677.2 882.0,685.9 884.0,695.2 886.0,705.1 888.0,715.3 890.0,725.8 892.0,736.5 894.0,747.2 896.0,757.8 898.0,768.3 900.0,778.6 902.0,788.6 904.0,798.3 906.0,807.6 908.0,816.4 910.0,824.9 912.0,832.8 914.0,840.3 916.0,847.2 918.0,853.7 920.0,859.7 922.0,865.2 924.0,870.3 926.0,874.9 928.0,879.1 930.0,883.0 932.0,886.4 934.0,889.5 936.0,892.3 938.0,894.7 940.0,897.0 942.0,898.9 944.0,900.7 946.0,902.2 948.0,903.6 950.0,904.8 952.0,905.9 954.0,906.9 956.0,907.8 958.0,908.5 960.0,909.2 962.0,909.8 964.0,910.3 966.0,910.8 968.0,911.3 970.0,911.7 972.0,912.1 974.0,912.4 976.0,912.7 978.0,913.0 980.0,913.3 982.0,913.5 984.0,913.8 986.0,914.0 988.0,914.2 990.0,914.4 992.0,914.6 994.0,914.8 996.0,915.0 998.0,915.2 1000.0,915.4 1002.0,915.5 1004.0,915.7 1006.0,915.9 1008.0,916.0 1010.0,916.2 1012.0,916.3 1014.0,916.5 1016.0,916.6 1018.0,916.8 1020.0,916.9 1022.0,917.0 1024.0,917.1 1026.0,917.3 1028.0,917.4 1030.0,917.5 1032.0,917.6 1034.0,917.7 1036.0,917.8 1038.0,917.9 1040.0,917.9 1042.0,918.0 1044.0,918.1 1046.0,918.2" fill="none" stroke="#0a0ad8" stroke-width="6.3" stroke-linejoin="round" stroke-linecap="butt" stroke-dasharray="2.9 3.6"/>
<polyline points="578.5,881.1 580.6,888.4 582.8,891.1 584.9,896.7 587.1,885.4 589.2,890.4 591.4,889.9 593.5,890.1 595.7,887.4 597.8,892.5 600.0,892.2 602.1,892.2 604.3,891.7 606.4,890.1 608.6,879.1 610.7,891.0 612.9,898.1 615.0,878.9 617.2,899.7 619.3,884.5 621.5,886.2 623.6,898.0 625.8,891.7 627.9,888.6 630.1,884.3 632.2,888.8 634.4,893.0 636.5,891.0" fill="none" stroke="#0a0ad8" stroke-width="6.0" stroke-linejoin="round" stroke-linecap="butt" stroke-dasharray="5 2"/>
<polyline points="578.0,1272.5 580.1,1272.9 582.3,1270.8 584.4,1264.5 586.6,1272.2 588.7,1251.9 590.9,1273.5 593.0,1272.7 595.2,1273.3 597.3,1273.3 599.5,1271.8 601.6,1266.2 603.8,1270.1 605.9,1275.2 608.1,1269.3 610.2,1268.9 612.4,1268.9 614.5,1269.4 616.7,1270.0 618.8,1271.6 621.0,1270.0 623.1,1267.6 625.3,1269.0 627.4,1271.0 629.6,1267.0 631.7,1270.8 633.9,1282.4 636.0,1268.5 638.2,1270.5 640.3,1278.4 642.5,1261.6 644.6,1265.9 646.8,1269.2 648.9,1275.4 651.1,1276.0 653.2,1266.9 655.4,1271.8 657.5,1270.2 659.7,1264.8 661.8,1264.6 664.0,1272.9 666.1,1267.5 668.3,1270.7 670.4,1270.0 672.6,1286.5 674.7,1280.2 676.9,1259.2 679.0,1268.7 681.2,1272.3 683.3,1257.3 685.5,1268.1 687.6,1269.7 689.8,1254.5 691.9,1265.4 694.1,1253.5 696.2,1269.5 698.4,1266.4 700.5,1269.2 702.7,1265.6 704.8,1264.0 707.0,1259.9 709.1,1260.0 711.3,1255.2 713.4,1250.0 715.6,1260.6 717.7,1250.0 719.9,1251.2 722.0,1242.4 724.2,1239.5 726.3,1235.5 728.5,1227.2 730.6,1232.7 732.8,1235.6 734.9,1228.9 737.1,1220.6 739.2,1225.5 741.4,1217.8 743.5,1214.2 745.7,1207.5 747.8,1207.4 750.0,1205.5 752.1,1195.9 754.3,1196.6 756.4,1192.5 758.6,1193.7 760.7,1183.7 762.9,1187.1 765.0,1184.4 767.2,1181.1 769.3,1174.0 771.5,1178.3 773.6,1177.3 775.8,1172.4 777.9,1176.2 780.1,1176.2 782.2,1169.4 784.4,1176.5 786.5,1175.4 788.7,1179.2 790.8,1185.9 793.0,1184.1 795.1,1185.7 797.3,1196.6 799.4,1193.4 801.6,1199.2 803.7,1199.6 805.9,1202.7 808.0,1208.4 810.2,1207.5 812.3,1211.1 814.5,1208.5 816.6,1209.1 818.8,1213.2 820.9,1231.2 823.1,1213.7 825.2,1228.9 827.4,1210.8 829.5,1208.5 831.7,1203.2 833.8,1201.8 836.0,1203.2 838.1,1204.4 840.3,1183.6 842.4,1183.5 844.6,1184.7 846.7,1176.3 848.9,1177.3 851.0,1169.3 853.2,1170.4 855.3,1169.2 857.5,1162.5 859.6,1153.6 861.8,1145.7 863.9,1139.8 866.1,1137.0 868.2,1137.8 870.4,1135.7 872.5,1132.4 874.7,1127.6 876.8,1130.7 879.0,1135.0 881.1,1137.2 883.3,1136.7 885.4,1146.1 887.6,1155.3 889.7,1141.0 891.9,1157.4 894.0,1167.1 896.2,1165.0 898.3,1173.7 900.5,1181.2 902.6,1191.2 904.8,1190.4 906.9,1199.6 909.1,1185.0 911.2,1208.9 913.4,1212.9 915.5,1216.0 917.7,1222.0 919.8,1225.3 922.0,1233.1 924.1,1232.2 926.3,1237.4 928.4,1238.0 930.6,1243.2 932.7,1250.0 934.9,1250.2 937.0,1250.1 939.2,1256.3 941.3,1260.6 943.5,1264.1 945.6,1268.0 947.8,1261.4 949.9,1267.6 952.1,1271.8 954.2,1282.9 956.4,1284.3 958.5,1268.8 960.7,1272.6 962.8,1276.8 965.0,1284.7 967.1,1279.9 969.3,1279.1 971.4,1281.4 973.6,1273.1 975.7,1281.0 977.9,1283.2 980.0,1280.1 982.2,1284.3 984.3,1273.0 986.5,1280.1 988.6,1285.8 990.8,1283.4 992.9,1285.0 995.1,1282.3 997.2,1270.4 999.4,1279.6 1001.5,1285.3 1003.7,1264.5 1005.8,1278.3 1008.0,1276.2 1010.1,1279.5 1012.3,1279.8 1014.4,1282.6 1016.6,1278.7 1018.7,1285.8 1020.9,1286.8 1023.0,1279.7 1025.2,1278.2 1027.3,1276.8 1029.5,1281.3 1031.6,1286.6 1033.8,1280.6 1035.9,1278.1 1038.1,1280.8 1040.2,1279.6 1042.4,1272.9 1044.5,1275.7 1046.7,1280.5" fill="none" stroke="#03c803" stroke-width="7.5" stroke-linejoin="round" stroke-linecap="butt" />
<polyline points="578.0,1270.9 580.0,1270.9 582.0,1270.9 584.0,1270.9 586.0,1270.9 588.0,1270.9 590.0,1270.9 592.0,1270.9 594.0,1270.9 596.0,1270.9 598.0,1270.9 600.0,1270.9 602.0,1270.9 604.0,1270.9 606.0,1270.9 608.0,1270.9 610.0,1270.9 612.0,1270.9 614.0,1270.9 616.0,1270.9 618.0,1270.9 620.0,1271.0 622.0,1271.0 624.0,1271.0 626.0,1271.0 628.0,1271.0 630.0,1271.0 632.0,1271.0 634.0,1271.0 636.0,1270.9 638.0,1270.9 640.0,1270.9 642.0,1270.9 644.0,1270.9 646.0,1270.9 648.0,1270.9 650.0,1270.9 652.0,1270.9 654.0,1270.9 656.0,1270.9 658.0,1270.9 660.0,1270.9 662.0,1270.9 664.0,1270.9 666.0,1270.9 668.0,1270.9 670.0,1270.9 672.0,1270.9 674.0,1270.9 676.0,1270.9 678.0,1270.9 680.0,1270.9 682.0,1270.9 684.0,1270.9 686.0,1270.9 688.0,1270.9 690.0,1270.9 692.0,1270.9 694.0,1270.9 696.0,1270.9 698.0,1270.9 700.0,1270.9 702.0,1270.9 704.0,1270.9 706.0,1270.9 708.0,1270.9 710.0,1270.9 712.0,1270.9 714.0,1270.9 716.0,1270.9 718.0,1270.9 720.0,1270.9 722.0,1270.9 724.0,1270.9 726.0,1270.9 728.0,1270.9 730.0,1270.8 732.0,1270.8 734.0,1270.8 736.0,1270.8 738.0,1270.7 740.0,1270.6 742.0,1270.6 744.0,1270.5 746.0,1270.3 748.0,1270.2 750.0,1270.0 752.0,1269.8 754.0,1269.5 756.0,1269.2 758.0,1268.9 760.0,1268.5 762.0,1268.1 764.0,1267.6 766.0,1267.1 768.0,1266.6 770.0,1266.0 772.0,1265.3 774.0,1264.7 776.0,1264.1 778.0,1263.4 780.0,1262.8 782.0,1262.2 784.0,1261.6 786.0,1261.1 788.0,1260.7 790.0,1260.4 792.0,1260.3 794.0,1260.2 796.0,1260.3 798.0,1260.5 800.0,1260.9 802.0,1261.4 804.0,1261.9 806.0,1262.6 808.0,1263.3 810.0,1264.1 812.0,1264.9 814.0,1265.7 816.0,1266.5 818.0,1267.3 820.0,1268.1 822.0,1268.8 824.0,1269.5 826.0,1270.2 828.0,1270.8 830.0,1271.4 832.0,1271.9 834.0,1272.4 836.0,1272.8 838.0,1273.2 840.0,1273.6 842.0,1273.9 844.0,1274.2 846.0,1274.5 848.0,1274.8 850.0,1275.0 852.0,1275.2 854.0,1275.4 856.0,1275.7 858.0,1275.9 860.0,1276.0 862.0,1276.2 864.0,1276.4 866.0,1276.6 868.0,1276.8 870.0,1277.0 872.0,1277.2 874.0,1277.4 876.0,1277.5 878.0,1277.7 880.0,1277.9 882.0,1278.1 884.0,1278.2 886.0,1278.4 888.0,1278.6 890.0,1278.7 892.0,1278.9 894.0,1279.0 896.0,1279.1 898.0,1279.3 900.0,1279.4 902.0,1279.5 904.0,1279.6 906.0,1279.7 908.0,1279.8 910.0,1279.9 912.0,1280.0 914.0,1280.1 916.0,1280.1 918.0,1280.2 920.0,1280.2 922.0,1280.3 924.0,1280.3 926.0,1280.4 928.0,1280.4 930.0,1280.5 932.0,1280.5 934.0,1280.5 936.0,1280.6 938.0,1280.6 940.0,1280.6 942.0,1280.6 944.0,1280.6 946.0,1280.7 948.0,1280.7 950.0,1280.7 952.0,1280.7 954.0,1280.7 956.0,1280.7 958.0,1280.7 960.0,1280.7 962.0,1280.8 964.0,1280.8 966.0,1280.8 968.0,1280.8 970.0,1280.8 972.0,1280.8 974.0,1280.8 976.0,1280.8 978.0,1280.8 980.0,1280.8 982.0,1280.8 984.0,1280.8 986.0,1280.8 988.0,1280.8 990.0,1280.9 992.0,1280.9 994.0,1280.9 996.0,1280.9 998.0,1280.9 1000.0,1280.9 1002.0,1280.9 1004.0,1280.9 1006.0,1280.9 1008.0,1280.9 1010.0,1280.9 1012.0,1280.9 1014.0,1280.9 1016.0,1280.9 1018.0,1280.9 1020.0,1280.9 1022.0,1280.9 1024.0,1280.9 1026.0,1280.9 1028.0,1280.9 1030.0,1280.9 1032.0,1280.9 1034.0,1280.9 1036.0,1280.9 1038.0,1280.9 1040.0,1280.9 1042.0,1281.0 1044.0,1281.0 1046.0,1281.0" fill="none" stroke="#e6001e" stroke-width="6.3" stroke-linejoin="round" stroke-linecap="butt" stroke-dasharray="2.9 3.6"/>
<polyline points="578.0,1271.0 580.0,1271.0 582.0,1271.0 584.0,1271.0 586.0,1271.0 588.0,1271.0 590.0,1271.0 592.0,1271.0 594.0,1271.0 596.0,1271.0 598.0,1271.0 600.0,1271.0 602.0,1271.0 604.0,1271.0 606.0,1271.0 608.0,1271.0 610.0,1271.0 612.0,1271.0 614.0,1271.0 616.0,1271.0 618.0,1271.0 620.0,1271.0 622.0,1271.0 624.0,1271.0 626.0,1271.0 628.0,1271.0 630.0,1271.0 632.0,1271.0 634.0,1271.0 636.0,1271.0 638.0,1271.0 640.0,1271.0 642.0,1271.0 644.0,1271.0 646.0,1271.0 648.0,1271.0 650.0,1271.0 652.0,1271.0 654.0,1271.0 656.0,1271.0 658.0,1271.0 660.0,1271.0 662.0,1271.0 664.0,1271.0 666.0,1271.0 668.0,1271.0 670.0,1271.0 672.0,1271.0 674.0,1271.0 676.0,1271.0 678.0,1271.0 680.0,1271.0 682.0,1271.0 684.0,1271.0 686.0,1271.1 688.0,1271.1 690.0,1271.1 692.0,1271.1 694.0,1271.1 696.0,1271.1 698.0,1271.1 700.0,1271.1 702.0,1271.1 704.0,1271.1 706.0,1271.1 708.0,1271.1 710.0,1271.1 712.0,1271.1 714.0,1271.2 716.0,1271.2 718.0,1271.2 720.0,1271.2 722.0,1271.2 724.0,1271.3 726.0,1271.3 728.0,1271.3 730.0,1271.3 732.0,1271.4 734.0,1271.4 736.0,1271.5 738.0,1271.5 740.0,1271.6 742.0,1271.6 744.0,1271.7 746.0,1271.7 748.0,1271.8 750.0,1271.9 752.0,1272.0 754.0,1272.0 756.0,1272.1 758.0,1272.2 760.0,1272.3 762.0,1272.4 764.0,1272.5 766.0,1272.6 768.0,1272.7 770.0,1272.8 772.0,1272.9 774.0,1273.0 776.0,1273.1 778.0,1273.2 780.0,1273.3 782.0,1273.4 784.0,1273.5 786.0,1273.6 788.0,1273.6 790.0,1273.7 792.0,1273.8 794.0,1273.9 796.0,1273.9 798.0,1274.0 800.0,1274.0 802.0,1274.1 804.0,1274.1 806.0,1274.2 808.0,1274.2 810.0,1274.3 812.0,1274.3 814.0,1274.3 816.0,1274.4 818.0,1274.4 820.0,1274.4 822.0,1274.4 824.0,1274.4 826.0,1274.4 828.0,1274.5 830.0,1274.5 832.0,1274.5 834.0,1274.5 836.0,1274.4 838.0,1274.4 840.0,1274.4 842.0,1274.3 844.0,1274.3 846.0,1274.2 848.0,1274.1 850.0,1273.9 852.0,1273.7 854.0,1273.5 856.0,1273.2 858.0,1272.9 860.0,1272.5 862.0,1272.0 864.0,1271.5 866.0,1270.9 868.0,1270.3 870.0,1269.5 872.0,1268.7 874.0,1267.8 876.0,1266.9 878.0,1265.9 880.0,1264.9 882.0,1263.9 884.0,1262.8 886.0,1261.8 888.0,1260.9 890.0,1260.0 892.0,1259.2 894.0,1258.5 896.0,1258.0 898.0,1257.7 900.0,1257.6 902.0,1257.7 904.0,1258.1 906.0,1258.6 908.0,1259.3 910.0,1260.2 912.0,1261.2 914.0,1262.3 916.0,1263.4 918.0,1264.7 920.0,1265.9 922.0,1267.1 924.0,1268.4 926.0,1269.5 928.0,1270.7 930.0,1271.7 932.0,1272.7 934.0,1273.7 936.0,1274.5 938.0,1275.3 940.0,1276.0 942.0,1276.6 944.0,1277.1 946.0,1277.6 948.0,1278.0 950.0,1278.4 952.0,1278.7 954.0,1278.9 956.0,1279.2 958.0,1279.3 960.0,1279.5 962.0,1279.6 964.0,1279.8 966.0,1279.9 968.0,1280.0 970.0,1280.0 972.0,1280.1 974.0,1280.1 976.0,1280.2 978.0,1280.2 980.0,1280.3 982.0,1280.3 984.0,1280.4 986.0,1280.4 988.0,1280.4 990.0,1280.4 992.0,1280.5 994.0,1280.5 996.0,1280.5 998.0,1280.5 1000.0,1280.5 1002.0,1280.6 1004.0,1280.6 1006.0,1280.6 1008.0,1280.6 1010.0,1280.6 1012.0,1280.6 1014.0,1280.7 1016.0,1280.7 1018.0,1280.7 1020.0,1280.7 1022.0,1280.7 1024.0,1280.7 1026.0,1280.7 1028.0,1280.7 1030.0,1280.7 1032.0,1280.8 1034.0,1280.8 1036.0,1280.8 1038.0,1280.8 1040.0,1280.8 1042.0,1280.8 1044.0,1280.8 1046.0,1280.8" fill="none" stroke="#e6001e" stroke-width="6.3" stroke-linejoin="round" stroke-linecap="butt" stroke-dasharray="2.9 3.6"/>
<polyline points="578.0,1270.4 580.0,1270.4 582.0,1270.4 584.0,1270.4 586.0,1270.4 588.0,1270.4 590.0,1270.4 592.0,1270.3 594.0,1270.3 596.0,1270.3 598.0,1270.3 600.0,1270.3 602.0,1270.3 604.0,1270.2 606.0,1270.2 608.0,1270.2 610.0,1270.2 612.0,1270.2 614.0,1270.2 616.0,1270.1 618.0,1270.1 620.0,1270.1 622.0,1270.1 624.0,1270.0 626.0,1270.0 628.0,1270.0 630.0,1270.0 632.0,1269.9 634.0,1269.9 636.0,1269.9 638.0,1269.8 640.0,1269.8 642.0,1269.8 644.0,1269.7 646.0,1269.7 648.0,1269.7 650.0,1269.6 652.0,1269.6 654.0,1269.5 656.0,1269.5 658.0,1269.4 660.0,1269.4 662.0,1269.3 664.0,1269.2 666.0,1269.2 668.0,1269.1 670.0,1269.0 672.0,1268.9 674.0,1268.8 676.0,1268.7 678.0,1268.6 680.0,1268.5 682.0,1268.3 684.0,1268.2 686.0,1268.0 688.0,1267.8 690.0,1267.5 692.0,1267.3 694.0,1266.9 696.0,1266.6 698.0,1266.1 700.0,1265.6 702.0,1265.1 704.0,1264.4 706.0,1263.7 708.0,1262.9 710.0,1261.9 712.0,1260.8 714.0,1259.6 716.0,1258.2 718.0,1256.6 720.0,1254.9 722.0,1253.0 724.0,1251.0 726.0,1248.7 728.0,1246.3 730.0,1243.6 732.0,1240.8 734.0,1237.9 736.0,1234.7 738.0,1231.5 740.0,1228.1 742.0,1224.7 744.0,1221.2 746.0,1217.7 748.0,1214.2 750.0,1210.9 752.0,1207.6 754.0,1204.6 756.0,1201.8 758.0,1199.4 760.0,1197.4 762.0,1195.7 764.0,1194.6 766.0,1194.0 768.0,1193.9 770.0,1194.4 772.0,1195.5 774.0,1197.0 776.0,1199.0 778.0,1201.4 780.0,1204.2 782.0,1207.3 784.0,1210.6 786.0,1214.0 788.0,1217.6 790.0,1221.2 792.0,1224.9 794.0,1228.5 796.0,1232.1 798.0,1235.5 800.0,1238.8 802.0,1242.0 804.0,1245.0 806.0,1247.9 808.0,1250.5 810.0,1253.0 812.0,1255.2 814.0,1257.3 816.0,1259.2 818.0,1260.9 820.0,1262.5 822.0,1263.8 824.0,1265.1 826.0,1266.2 828.0,1267.2 830.0,1268.0 832.0,1268.8 834.0,1269.5 836.0,1270.1 838.0,1270.6 840.0,1271.1 842.0,1271.6 844.0,1272.0 846.0,1272.3 848.0,1272.7 850.0,1273.0 852.0,1273.3 854.0,1273.6 856.0,1273.8 858.0,1274.1 860.0,1274.3 862.0,1274.6 864.0,1274.8 866.0,1275.1 868.0,1275.3 870.0,1275.5 872.0,1275.8 874.0,1276.0 876.0,1276.2 878.0,1276.4 880.0,1276.6 882.0,1276.9 884.0,1277.1 886.0,1277.3 888.0,1277.4 890.0,1277.6 892.0,1277.8 894.0,1278.0 896.0,1278.1 898.0,1278.3 900.0,1278.4 902.0,1278.6 904.0,1278.7 906.0,1278.8 908.0,1279.0 910.0,1279.1 912.0,1279.2 914.0,1279.3 916.0,1279.4 918.0,1279.4 920.0,1279.5 922.0,1279.6 924.0,1279.7 926.0,1279.7 928.0,1279.8 930.0,1279.8 932.0,1279.9 934.0,1279.9 936.0,1280.0 938.0,1280.0 940.0,1280.0 942.0,1280.1 944.0,1280.1 946.0,1280.1 948.0,1280.1 950.0,1280.2 952.0,1280.2 954.0,1280.2 956.0,1280.2 958.0,1280.3 960.0,1280.3 962.0,1280.3 964.0,1280.3 966.0,1280.3 968.0,1280.3 970.0,1280.4 972.0,1280.4 974.0,1280.4 976.0,1280.4 978.0,1280.4 980.0,1280.4 982.0,1280.4 984.0,1280.5 986.0,1280.5 988.0,1280.5 990.0,1280.5 992.0,1280.5 994.0,1280.5 996.0,1280.5 998.0,1280.5 1000.0,1280.6 1002.0,1280.6 1004.0,1280.6 1006.0,1280.6 1008.0,1280.6 1010.0,1280.6 1012.0,1280.6 1014.0,1280.6 1016.0,1280.6 1018.0,1280.6 1020.0,1280.6 1022.0,1280.6 1024.0,1280.7 1026.0,1280.7 1028.0,1280.7 1030.0,1280.7 1032.0,1280.7 1034.0,1280.7 1036.0,1280.7 1038.0,1280.7 1040.0,1280.7 1042.0,1280.7 1044.0,1280.7 1046.0,1280.7" fill="none" stroke="#0a0ad8" stroke-width="6.3" stroke-linejoin="round" stroke-linecap="butt" stroke-dasharray="2.9 3.6"/>
<polyline points="578.0,1270.6 580.0,1270.6 582.0,1270.6 584.0,1270.6 586.0,1270.6 588.0,1270.6 590.0,1270.6 592.0,1270.6 594.0,1270.6 596.0,1270.6 598.0,1270.6 600.0,1270.6 602.0,1270.5 604.0,1270.5 606.0,1270.5 608.0,1270.5 610.0,1270.5 612.0,1270.5 614.0,1270.5 616.0,1270.5 618.0,1270.5 620.0,1270.5 622.0,1270.5 624.0,1270.5 626.0,1270.5 628.0,1270.5 630.0,1270.5 632.0,1270.5 634.0,1270.4 636.0,1270.4 638.0,1270.4 640.0,1270.4 642.0,1270.4 644.0,1270.4 646.0,1270.4 648.0,1270.4 650.0,1270.4 652.0,1270.4 654.0,1270.4 656.0,1270.3 658.0,1270.3 660.0,1270.3 662.0,1270.3 664.0,1270.3 666.0,1270.3 668.0,1270.3 670.0,1270.3 672.0,1270.3 674.0,1270.2 676.0,1270.2 678.0,1270.2 680.0,1270.2 682.0,1270.2 684.0,1270.2 686.0,1270.2 688.0,1270.1 690.0,1270.1 692.0,1270.1 694.0,1270.1 696.0,1270.1 698.0,1270.1 700.0,1270.1 702.0,1270.0 704.0,1270.0 706.0,1270.0 708.0,1270.0 710.0,1270.0 712.0,1270.0 714.0,1269.9 716.0,1269.9 718.0,1269.9 720.0,1269.9 722.0,1269.9 724.0,1269.9 726.0,1269.9 728.0,1269.8 730.0,1269.8 732.0,1269.8 734.0,1269.8 736.0,1269.8 738.0,1269.8 740.0,1269.8 742.0,1269.8 744.0,1269.8 746.0,1269.9 748.0,1269.9 750.0,1269.9 752.0,1269.9 754.0,1269.9 756.0,1269.9 758.0,1269.9 760.0,1269.9 762.0,1270.0 764.0,1270.0 766.0,1270.0 768.0,1270.0 770.0,1270.0 772.0,1269.9 774.0,1269.9 776.0,1269.9 778.0,1269.8 780.0,1269.7 782.0,1269.6 784.0,1269.5 786.0,1269.4 788.0,1269.2 790.0,1268.9 792.0,1268.7 794.0,1268.3 796.0,1267.9 798.0,1267.5 800.0,1266.9 802.0,1266.3 804.0,1265.6 806.0,1264.7 808.0,1263.7 810.0,1262.6 812.0,1261.3 814.0,1259.8 816.0,1258.1 818.0,1256.2 820.0,1254.1 822.0,1251.8 824.0,1249.2 826.0,1246.3 828.0,1243.2 830.0,1239.8 832.0,1236.1 834.0,1232.2 836.0,1228.0 838.0,1223.6 840.0,1219.0 842.0,1214.2 844.0,1209.2 846.0,1204.1 848.0,1198.9 850.0,1193.7 852.0,1188.6 854.0,1183.6 856.0,1178.8 858.0,1174.2 860.0,1170.0 862.0,1166.2 864.0,1163.0 866.0,1160.3 868.0,1158.3 870.0,1157.1 872.0,1156.6 874.0,1156.9 876.0,1158.0 878.0,1159.9 880.0,1162.5 882.0,1165.7 884.0,1169.4 886.0,1173.7 888.0,1178.3 890.0,1183.3 892.0,1188.5 894.0,1193.8 896.0,1199.2 898.0,1204.6 900.0,1209.9 902.0,1215.2 904.0,1220.3 906.0,1225.2 908.0,1229.9 910.0,1234.4 912.0,1238.6 914.0,1242.6 916.0,1246.3 918.0,1249.7 920.0,1252.8 922.0,1255.6 924.0,1258.2 926.0,1260.6 928.0,1262.7 930.0,1264.5 932.0,1266.2 934.0,1267.7 936.0,1269.0 938.0,1270.2 940.0,1271.2 942.0,1272.1 944.0,1272.9 946.0,1273.5 948.0,1274.1 950.0,1274.7 952.0,1275.1 954.0,1275.5 956.0,1275.9 958.0,1276.2 960.0,1276.4 962.0,1276.7 964.0,1276.9 966.0,1277.1 968.0,1277.3 970.0,1277.4 972.0,1277.6 974.0,1277.7 976.0,1277.9 978.0,1278.0 980.0,1278.1 982.0,1278.2 984.0,1278.3 986.0,1278.4 988.0,1278.5 990.0,1278.6 992.0,1278.6 994.0,1278.7 996.0,1278.8 998.0,1278.8 1000.0,1278.9 1002.0,1279.0 1004.0,1279.0 1006.0,1279.1 1008.0,1279.1 1010.0,1279.2 1012.0,1279.2 1014.0,1279.3 1016.0,1279.3 1018.0,1279.4 1020.0,1279.4 1022.0,1279.5 1024.0,1279.5 1026.0,1279.6 1028.0,1279.6 1030.0,1279.6 1032.0,1279.7 1034.0,1279.7 1036.0,1279.7 1038.0,1279.8 1040.0,1279.8 1042.0,1279.8 1044.0,1279.8 1046.0,1279.9" fill="none" stroke="#0a0ad8" stroke-width="6.3" stroke-linejoin="round" stroke-linecap="butt" stroke-dasharray="2.9 3.6"/>
<polyline points="578.5,1265.6 580.6,1269.0 582.8,1278.1 584.9,1272.1 587.1,1276.1 589.2,1274.2 591.4,1267.5 593.5,1274.0 595.7,1269.3 597.8,1269.2 600.0,1271.5 602.1,1262.6 604.3,1277.6 606.4,1267.3 608.6,1276.5 610.7,1271.7 612.9,1279.4 615.0,1267.4 617.2,1269.3 619.3,1272.9 621.5,1258.9 623.6,1275.6 625.8,1279.5 627.9,1277.2 630.1,1275.2 632.2,1270.5 634.4,1273.1 636.5,1271.0" fill="none" stroke="#0a0ad8" stroke-width="6.0" stroke-linejoin="round" stroke-linecap="butt" stroke-dasharray="5 2"/>
<polyline points="578.0,1639.1 580.1,1636.8 582.3,1627.4 584.4,1634.6 586.6,1635.2 588.7,1635.5 590.9,1640.4 593.0,1626.6 595.2,1643.1 597.3,1633.4 599.5,1634.6 601.6,1638.0 603.8,1637.4 605.9,1630.8 608.1,1640.0 610.2,1636.7 612.4,1633.6 614.5,1635.9 616.7,1633.9 618.8,1639.0 621.0,1632.6 623.1,1636.8 625.3,1631.6 627.4,1638.1 629.6,1636.2 631.7,1638.7 633.9,1633.9 636.0,1620.0 638.2,1632.2 640.3,1634.8 642.5,1639.8 644.6,1636.5 646.8,1638.2 648.9,1633.1 651.1,1633.8 653.2,1632.5 655.4,1637.5 657.5,1633.5 659.7,1632.5 661.8,1637.6 664.0,1630.4 666.1,1630.5 668.3,1618.7 670.4,1626.0 672.6,1626.3 674.7,1624.7 676.9,1616.1 679.0,1610.7 681.2,1617.7 683.3,1615.1 685.5,1607.5 687.6,1607.9 689.8,1605.6 691.9,1598.7 694.1,1581.8 696.2,1598.5 698.4,1595.6 700.5,1577.9 702.7,1581.9 704.8,1569.8 707.0,1561.3 709.1,1558.1 711.3,1555.8 713.4,1544.6 715.6,1533.8 717.7,1525.4 719.9,1518.8 722.0,1508.6 724.2,1503.2 726.3,1492.8 728.5,1489.5 730.6,1478.5 732.8,1474.8 734.9,1449.0 737.1,1447.1 739.2,1427.9 741.4,1431.2 743.5,1416.9 745.7,1417.2 747.8,1400.5 750.0,1402.9 752.1,1404.1 754.3,1406.6 756.4,1404.7 758.6,1410.9 760.7,1406.3 762.9,1411.9 765.0,1410.9 767.2,1416.3 769.3,1407.8 771.5,1417.9 773.6,1422.9 775.8,1428.3 777.9,1439.1 780.1,1442.1 782.2,1450.5 784.4,1456.5 786.5,1465.0 788.7,1462.0 790.8,1481.1 793.0,1479.6 795.1,1483.9 797.3,1486.2 799.4,1490.5 801.6,1494.9 803.7,1502.7 805.9,1491.0 808.0,1499.0 810.2,1495.7 812.3,1498.6 814.5,1481.9 816.6,1474.9 818.8,1469.2 820.9,1453.6 823.1,1440.4 825.2,1425.9 827.4,1414.6 829.5,1405.2 831.7,1386.4 833.8,1384.6 836.0,1359.9 838.1,1356.7 840.3,1345.8 842.4,1341.5 844.6,1333.0 846.7,1326.0 848.9,1318.5 851.0,1310.5 853.2,1298.2 855.3,1299.1 857.5,1290.5 859.6,1295.4 861.8,1289.6 863.9,1298.8 866.1,1302.8 868.2,1309.9 870.4,1316.9 872.5,1329.5 874.7,1335.1 876.8,1361.4 879.0,1360.0 881.1,1373.9 883.3,1380.3 885.4,1399.7 887.6,1418.3 889.7,1427.2 891.9,1438.7 894.0,1453.8 896.2,1462.2 898.3,1475.1 900.5,1487.2 902.6,1499.3 904.8,1501.2 906.9,1519.0 909.1,1530.5 911.2,1538.5 913.4,1546.2 915.5,1547.7 917.7,1562.2 919.8,1568.7 922.0,1578.2 924.1,1581.1 926.3,1589.1 928.4,1588.8 930.6,1608.5 932.7,1596.1 934.9,1602.0 937.0,1603.8 939.2,1605.6 941.3,1608.4 943.5,1609.9 945.6,1613.3 947.8,1615.4 949.9,1624.1 952.1,1626.4 954.2,1623.8 956.4,1622.4 958.5,1621.2 960.7,1630.1 962.8,1627.9 965.0,1622.5 967.1,1631.8 969.3,1630.0 971.4,1631.7 973.6,1633.4 975.7,1636.2 977.9,1635.3 980.0,1638.6 982.2,1636.9 984.3,1639.1 986.5,1641.2 988.6,1641.5 990.8,1644.9 992.9,1642.8 995.1,1640.0 997.2,1642.7 999.4,1647.0 1001.5,1647.5 1003.7,1642.2 1005.8,1646.1 1008.0,1641.0 1010.1,1643.0 1012.3,1642.4 1014.4,1642.7 1016.6,1646.2 1018.7,1647.9 1020.9,1648.9 1023.0,1641.3 1025.2,1648.1 1027.3,1649.4 1029.5,1649.1 1031.6,1643.5 1033.8,1642.0 1035.9,1651.0 1038.1,1652.5 1040.2,1649.4 1042.4,1658.8 1044.5,1629.8 1046.7,1655.5" fill="none" stroke="#03c803" stroke-width="7.5" stroke-linejoin="round" stroke-linecap="butt" />
<polyline points="578.0,1637.0 580.0,1637.0 582.0,1637.0 584.0,1637.0 586.0,1637.0 588.0,1637.0 590.0,1637.0 592.0,1637.0 594.0,1637.0 596.0,1637.0 598.0,1637.0 600.0,1637.0 602.0,1637.0 604.0,1637.0 606.0,1637.0 608.0,1637.0 610.0,1637.0 612.0,1637.0 614.0,1637.0 616.0,1637.0 618.0,1637.0 620.0,1637.0 622.0,1637.1 624.0,1637.1 626.0,1637.1 628.0,1637.1 630.0,1637.1 632.0,1637.1 634.0,1637.1 636.0,1637.1 638.0,1637.1 640.0,1637.1 642.0,1637.1 644.0,1637.1 646.0,1637.1 648.0,1637.1 650.0,1637.1 652.0,1637.1 654.0,1637.1 656.0,1637.1 658.0,1637.2 660.0,1637.2 662.0,1637.2 664.0,1637.2 666.0,1637.2 668.0,1637.2 670.0,1637.2 672.0,1637.2 674.0,1637.2 676.0,1637.2 678.0,1637.2 680.0,1637.3 682.0,1637.3 684.0,1637.3 686.0,1637.3 688.0,1637.3 690.0,1637.3 692.0,1637.4 694.0,1637.4 696.0,1637.4 698.0,1637.4 700.0,1637.5 702.0,1637.5 704.0,1637.5 706.0,1637.6 708.0,1637.6 710.0,1637.6 712.0,1637.7 714.0,1637.7 716.0,1637.8 718.0,1637.9 720.0,1637.9 722.0,1638.0 724.0,1638.1 726.0,1638.2 728.0,1638.3 730.0,1638.4 732.0,1638.5 734.0,1638.6 736.0,1638.7 738.0,1638.8 740.0,1638.9 742.0,1639.1 744.0,1639.2 746.0,1639.4 748.0,1639.5 750.0,1639.7 752.0,1639.8 754.0,1640.0 756.0,1640.2 758.0,1640.3 760.0,1640.5 762.0,1640.7 764.0,1640.8 766.0,1641.0 768.0,1641.2 770.0,1641.3 772.0,1641.5 774.0,1641.7 776.0,1641.8 778.0,1641.9 780.0,1642.1 782.0,1642.2 784.0,1642.3 786.0,1642.4 788.0,1642.5 790.0,1642.6 792.0,1642.6 794.0,1642.6 796.0,1642.6 798.0,1642.6 800.0,1642.5 802.0,1642.3 804.0,1642.1 806.0,1641.9 808.0,1641.5 810.0,1641.1 812.0,1640.6 814.0,1640.0 816.0,1639.3 818.0,1638.5 820.0,1637.7 822.0,1636.8 824.0,1635.9 826.0,1634.9 828.0,1634.0 830.0,1633.2 832.0,1632.5 834.0,1632.0 836.0,1631.6 838.0,1631.5 840.0,1631.7 842.0,1632.1 844.0,1632.8 846.0,1633.7 848.0,1634.7 850.0,1635.9 852.0,1637.2 854.0,1638.5 856.0,1639.9 858.0,1641.2 860.0,1642.4 862.0,1643.6 864.0,1644.7 866.0,1645.7 868.0,1646.7 870.0,1647.5 872.0,1648.2 874.0,1648.9 876.0,1649.5 878.0,1650.0 880.0,1650.5 882.0,1650.9 884.0,1651.3 886.0,1651.6 888.0,1651.9 890.0,1652.2 892.0,1652.5 894.0,1652.7 896.0,1652.9 898.0,1653.1 900.0,1653.3 902.0,1653.4 904.0,1653.6 906.0,1653.7 908.0,1653.9 910.0,1654.0 912.0,1654.1 914.0,1654.2 916.0,1654.3 918.0,1654.4 920.0,1654.5 922.0,1654.5 924.0,1654.6 926.0,1654.7 928.0,1654.8 930.0,1654.8 932.0,1654.9 934.0,1654.9 936.0,1655.0 938.0,1655.0 940.0,1655.1 942.0,1655.1 944.0,1655.2 946.0,1655.2 948.0,1655.3 950.0,1655.3 952.0,1655.4 954.0,1655.4 956.0,1655.4 958.0,1655.5 960.0,1655.5 962.0,1655.5 964.0,1655.6 966.0,1655.6 968.0,1655.6 970.0,1655.6 972.0,1655.6 974.0,1655.7 976.0,1655.7 978.0,1655.7 980.0,1655.7 982.0,1655.7 984.0,1655.7 986.0,1655.7 988.0,1655.8 990.0,1655.8 992.0,1655.8 994.0,1655.8 996.0,1655.8 998.0,1655.8 1000.0,1655.8 1002.0,1655.8 1004.0,1655.8 1006.0,1655.8 1008.0,1655.8 1010.0,1655.9 1012.0,1655.9 1014.0,1655.9 1016.0,1655.9 1018.0,1655.9 1020.0,1655.9 1022.0,1655.9 1024.0,1655.9 1026.0,1655.9 1028.0,1655.9 1030.0,1655.9 1032.0,1655.9 1034.0,1655.9 1036.0,1655.9 1038.0,1655.9 1040.0,1655.9 1042.0,1656.0 1044.0,1656.0 1046.0,1656.0" fill="none" stroke="#000" stroke-width="6.3" stroke-linejoin="round" stroke-linecap="butt" stroke-dasharray="2.9 3.6"/>
<polyline points="578.0,1637.0 580.0,1637.0 582.0,1637.0 584.0,1637.0 586.0,1637.0 588.0,1637.0 590.0,1637.0 592.0,1637.0 594.0,1637.0 596.0,1637.0 598.0,1637.0 600.0,1637.0 602.0,1637.0 604.0,1637.0 606.0,1637.0 608.0,1637.0 610.0,1637.0 612.0,1637.0 614.0,1637.0 616.0,1637.0 618.0,1637.1 620.0,1637.1 622.0,1637.1 624.0,1637.1 626.0,1637.1 628.0,1637.1 630.0,1637.1 632.0,1637.1 634.0,1637.1 636.0,1637.1 638.0,1637.1 640.0,1637.1 642.0,1637.1 644.0,1637.1 646.0,1637.1 648.0,1637.1 650.0,1637.1 652.0,1637.1 654.0,1637.1 656.0,1637.2 658.0,1637.2 660.0,1637.2 662.0,1637.2 664.0,1637.2 666.0,1637.2 668.0,1637.2 670.0,1637.2 672.0,1637.2 674.0,1637.2 676.0,1637.3 678.0,1637.3 680.0,1637.3 682.0,1637.3 684.0,1637.3 686.0,1637.3 688.0,1637.3 690.0,1637.4 692.0,1637.4 694.0,1637.4 696.0,1637.4 698.0,1637.5 700.0,1637.5 702.0,1637.5 704.0,1637.6 706.0,1637.6 708.0,1637.6 710.0,1637.7 712.0,1637.7 714.0,1637.8 716.0,1637.9 718.0,1637.9 720.0,1638.0 722.0,1638.1 724.0,1638.1 726.0,1638.2 728.0,1638.3 730.0,1638.4 732.0,1638.5 734.0,1638.6 736.0,1638.8 738.0,1638.9 740.0,1639.0 742.0,1639.2 744.0,1639.3 746.0,1639.5 748.0,1639.6 750.0,1639.8 752.0,1639.9 754.0,1640.1 756.0,1640.3 758.0,1640.5 760.0,1640.7 762.0,1640.8 764.0,1641.0 766.0,1641.2 768.0,1641.4 770.0,1641.6 772.0,1641.7 774.0,1641.9 776.0,1642.1 778.0,1642.2 780.0,1642.4 782.0,1642.6 784.0,1642.7 786.0,1642.8 788.0,1643.0 790.0,1643.1 792.0,1643.3 794.0,1643.4 796.0,1643.5 798.0,1643.6 800.0,1643.7 802.0,1643.8 804.0,1644.0 806.0,1644.1 808.0,1644.2 810.0,1644.3 812.0,1644.4 814.0,1644.5 816.0,1644.6 818.0,1644.7 820.0,1644.8 822.0,1645.0 824.0,1645.1 826.0,1645.2 828.0,1645.4 830.0,1645.5 832.0,1645.7 834.0,1645.8 836.0,1646.0 838.0,1646.2 840.0,1646.4 842.0,1646.6 844.0,1646.8 846.0,1647.0 848.0,1647.2 850.0,1647.5 852.0,1647.7 854.0,1647.9 856.0,1648.2 858.0,1648.4 860.0,1648.7 862.0,1649.0 864.0,1649.2 866.0,1649.5 868.0,1649.7 870.0,1650.0 872.0,1650.2 874.0,1650.5 876.0,1650.7 878.0,1650.9 880.0,1651.1 882.0,1651.3 884.0,1651.5 886.0,1651.6 888.0,1651.8 890.0,1651.9 892.0,1652.0 894.0,1652.1 896.0,1652.1 898.0,1652.1 900.0,1652.0 902.0,1651.9 904.0,1651.7 906.0,1651.4 908.0,1651.0 910.0,1650.5 912.0,1650.0 914.0,1649.2 916.0,1648.4 918.0,1647.4 920.0,1646.2 922.0,1645.0 924.0,1643.6 926.0,1642.1 928.0,1640.5 930.0,1638.9 932.0,1637.2 934.0,1635.6 936.0,1634.1 938.0,1632.8 940.0,1631.7 942.0,1630.9 944.0,1630.5 946.0,1630.4 948.0,1630.7 950.0,1631.4 952.0,1632.4 954.0,1633.7 956.0,1635.1 958.0,1636.8 960.0,1638.5 962.0,1640.2 964.0,1641.9 966.0,1643.5 968.0,1645.0 970.0,1646.5 972.0,1647.8 974.0,1648.9 976.0,1650.0 978.0,1650.9 980.0,1651.6 982.0,1652.3 984.0,1652.8 986.0,1653.3 988.0,1653.7 990.0,1654.0 992.0,1654.3 994.0,1654.5 996.0,1654.6 998.0,1654.8 1000.0,1654.9 1002.0,1655.0 1004.0,1655.1 1006.0,1655.1 1008.0,1655.2 1010.0,1655.2 1012.0,1655.3 1014.0,1655.3 1016.0,1655.4 1018.0,1655.4 1020.0,1655.4 1022.0,1655.5 1024.0,1655.5 1026.0,1655.5 1028.0,1655.5 1030.0,1655.6 1032.0,1655.6 1034.0,1655.6 1036.0,1655.6 1038.0,1655.6 1040.0,1655.7 1042.0,1655.7 1044.0,1655.7 1046.0,1655.7" fill="none" stroke="#000" stroke-width="6.3" stroke-linejoin="round" stroke-linecap="butt" stroke-dasharray="2.9 3.6"/>
<polyline points="578.0,1634.6 580.0,1634.6 582.0,1634.5 584.0,1634.5 586.0,1634.4 588.0,1634.4 590.0,1634.3 592.0,1634.3 594.0,1634.2 596.0,1634.1 598.0,1634.1 600.0,1634.0 602.0,1633.9 604.0,1633.9 606.0,1633.8 608.0,1633.7 610.0,1633.6 612.0,1633.6 614.0,1633.5 616.0,1633.4 618.0,1633.3 620.0,1633.2 622.0,1633.1 624.0,1633.0 626.0,1632.9 628.0,1632.8 630.0,1632.7 632.0,1632.5 634.0,1632.4 636.0,1632.3 638.0,1632.1 640.0,1632.0 642.0,1631.8 644.0,1631.6 646.0,1631.4 648.0,1631.2 650.0,1631.0 652.0,1630.8 654.0,1630.5 656.0,1630.2 658.0,1629.9 660.0,1629.6 662.0,1629.2 664.0,1628.8 666.0,1628.3 668.0,1627.8 670.0,1627.2 672.0,1626.6 674.0,1625.9 676.0,1625.0 678.0,1624.1 680.0,1623.1 682.0,1621.9 684.0,1620.6 686.0,1619.2 688.0,1617.5 690.0,1615.7 692.0,1613.7 694.0,1611.4 696.0,1608.9 698.0,1606.1 700.0,1603.0 702.0,1599.6 704.0,1596.0 706.0,1591.9 708.0,1587.6 710.0,1582.9 712.0,1577.8 714.0,1572.4 716.0,1566.7 718.0,1560.5 720.0,1554.1 722.0,1547.3 724.0,1540.3 726.0,1532.9 728.0,1525.4 730.0,1517.6 732.0,1509.7 734.0,1501.8 736.0,1493.8 738.0,1485.8 740.0,1477.9 742.0,1470.3 744.0,1462.9 746.0,1456.0 748.0,1449.5 750.0,1443.5 752.0,1438.3 754.0,1433.8 756.0,1430.1 758.0,1427.4 760.0,1425.7 762.0,1425.0 764.0,1425.3 766.0,1426.7 768.0,1429.1 770.0,1432.5 772.0,1436.7 774.0,1441.8 776.0,1447.6 778.0,1454.0 780.0,1461.0 782.0,1468.4 784.0,1476.2 786.0,1484.2 788.0,1492.4 790.0,1500.6 792.0,1508.9 794.0,1517.1 796.0,1525.2 798.0,1533.1 800.0,1540.8 802.0,1548.2 804.0,1555.4 806.0,1562.3 808.0,1568.8 810.0,1575.0 812.0,1580.8 814.0,1586.3 816.0,1591.4 818.0,1596.1 820.0,1600.6 822.0,1604.6 824.0,1608.4 826.0,1611.9 828.0,1615.0 830.0,1617.9 832.0,1620.5 834.0,1622.9 836.0,1625.1 838.0,1627.1 840.0,1628.9 842.0,1630.5 844.0,1632.0 846.0,1633.4 848.0,1634.7 850.0,1635.8 852.0,1636.8 854.0,1637.8 856.0,1638.7 858.0,1639.5 860.0,1640.3 862.0,1641.1 864.0,1641.7 866.0,1642.4 868.0,1643.0 870.0,1643.6 872.0,1644.1 874.0,1644.7 876.0,1645.2 878.0,1645.6 880.0,1646.1 882.0,1646.5 884.0,1646.9 886.0,1647.3 888.0,1647.7 890.0,1648.0 892.0,1648.4 894.0,1648.7 896.0,1649.0 898.0,1649.2 900.0,1649.5 902.0,1649.8 904.0,1650.0 906.0,1650.2 908.0,1650.4 910.0,1650.6 912.0,1650.8 914.0,1651.0 916.0,1651.2 918.0,1651.3 920.0,1651.5 922.0,1651.6 924.0,1651.8 926.0,1651.9 928.0,1652.0 930.0,1652.1 932.0,1652.3 934.0,1652.4 936.0,1652.5 938.0,1652.6 940.0,1652.7 942.0,1652.8 944.0,1652.9 946.0,1653.0 948.0,1653.1 950.0,1653.1 952.0,1653.2 954.0,1653.3 956.0,1653.4 958.0,1653.5 960.0,1653.5 962.0,1653.6 964.0,1653.6 966.0,1653.7 968.0,1653.8 970.0,1653.8 972.0,1653.9 974.0,1653.9 976.0,1654.0 978.0,1654.0 980.0,1654.1 982.0,1654.1 984.0,1654.1 986.0,1654.2 988.0,1654.2 990.0,1654.3 992.0,1654.3 994.0,1654.3 996.0,1654.4 998.0,1654.4 1000.0,1654.4 1002.0,1654.4 1004.0,1654.5 1006.0,1654.5 1008.0,1654.5 1010.0,1654.6 1012.0,1654.6 1014.0,1654.6 1016.0,1654.6 1018.0,1654.7 1020.0,1654.7 1022.0,1654.7 1024.0,1654.7 1026.0,1654.8 1028.0,1654.8 1030.0,1654.8 1032.0,1654.8 1034.0,1654.9 1036.0,1654.9 1038.0,1654.9 1040.0,1654.9 1042.0,1654.9 1044.0,1654.9 1046.0,1655.0" fill="none" stroke="#0a0ad8" stroke-width="6.3" stroke-linejoin="round" stroke-linecap="butt" stroke-dasharray="2.9 3.6"/>
<polyline points="578.0,1635.6 580.0,1635.6 582.0,1635.5 584.0,1635.5 586.0,1635.5 588.0,1635.5 590.0,1635.5 592.0,1635.4 594.0,1635.4 596.0,1635.4 598.0,1635.4 600.0,1635.4 602.0,1635.3 604.0,1635.3 606.0,1635.3 608.0,1635.3 610.0,1635.3 612.0,1635.2 614.0,1635.2 616.0,1635.2 618.0,1635.2 620.0,1635.1 622.0,1635.1 624.0,1635.1 626.0,1635.1 628.0,1635.0 630.0,1635.0 632.0,1635.0 634.0,1634.9 636.0,1634.9 638.0,1634.9 640.0,1634.8 642.0,1634.8 644.0,1634.8 646.0,1634.7 648.0,1634.7 650.0,1634.7 652.0,1634.6 654.0,1634.6 656.0,1634.5 658.0,1634.5 660.0,1634.5 662.0,1634.4 664.0,1634.4 666.0,1634.3 668.0,1634.3 670.0,1634.2 672.0,1634.2 674.0,1634.1 676.0,1634.1 678.0,1634.0 680.0,1634.0 682.0,1633.9 684.0,1633.8 686.0,1633.8 688.0,1633.7 690.0,1633.7 692.0,1633.6 694.0,1633.6 696.0,1633.5 698.0,1633.4 700.0,1633.4 702.0,1633.3 704.0,1633.2 706.0,1633.2 708.0,1633.1 710.0,1633.0 712.0,1633.0 714.0,1632.9 716.0,1632.8 718.0,1632.8 720.0,1632.7 722.0,1632.6 724.0,1632.6 726.0,1632.5 728.0,1632.5 730.0,1632.4 732.0,1632.3 734.0,1632.3 736.0,1632.2 738.0,1632.1 740.0,1632.0 742.0,1632.0 744.0,1631.9 746.0,1631.8 748.0,1631.7 750.0,1631.6 752.0,1631.5 754.0,1631.3 756.0,1631.1 758.0,1631.0 760.0,1630.7 762.0,1630.5 764.0,1630.2 766.0,1629.9 768.0,1629.5 770.0,1629.0 772.0,1628.5 774.0,1627.8 776.0,1627.1 778.0,1626.3 780.0,1625.3 782.0,1624.2 784.0,1622.9 786.0,1621.4 788.0,1619.7 790.0,1617.8 792.0,1615.6 794.0,1613.1 796.0,1610.3 798.0,1607.1 800.0,1603.6 802.0,1599.7 804.0,1595.3 806.0,1590.4 808.0,1585.1 810.0,1579.2 812.0,1572.8 814.0,1565.9 816.0,1558.4 818.0,1550.2 820.0,1541.6 822.0,1532.3 824.0,1522.5 826.0,1512.2 828.0,1501.4 830.0,1490.1 832.0,1478.4 834.0,1466.4 836.0,1454.1 838.0,1441.7 840.0,1429.1 842.0,1416.6 844.0,1404.3 846.0,1392.3 848.0,1380.6 850.0,1369.6 852.0,1359.3 854.0,1349.9 856.0,1341.6 858.0,1334.5 860.0,1328.8 862.0,1324.6 864.0,1322.0 866.0,1321.0 868.0,1321.7 870.0,1324.0 872.0,1328.0 874.0,1333.5 876.0,1340.5 878.0,1348.7 880.0,1358.1 882.0,1368.4 884.0,1379.6 886.0,1391.4 888.0,1403.7 890.0,1416.3 892.0,1429.2 894.0,1442.1 896.0,1454.9 898.0,1467.7 900.0,1480.1 902.0,1492.3 904.0,1504.1 906.0,1515.4 908.0,1526.3 910.0,1536.6 912.0,1546.3 914.0,1555.5 916.0,1564.1 918.0,1572.1 920.0,1579.5 922.0,1586.4 924.0,1592.7 926.0,1598.5 928.0,1603.7 930.0,1608.5 932.0,1612.8 934.0,1616.7 936.0,1620.2 938.0,1623.4 940.0,1626.2 942.0,1628.7 944.0,1630.9 946.0,1632.9 948.0,1634.7 950.0,1636.2 952.0,1637.6 954.0,1638.9 956.0,1640.0 958.0,1641.0 960.0,1641.8 962.0,1642.6 964.0,1643.3 966.0,1644.0 968.0,1644.5 970.0,1645.1 972.0,1645.5 974.0,1646.0 976.0,1646.4 978.0,1646.7 980.0,1647.1 982.0,1647.4 984.0,1647.7 986.0,1647.9 988.0,1648.2 990.0,1648.5 992.0,1648.7 994.0,1648.9 996.0,1649.1 998.0,1649.3 1000.0,1649.5 1002.0,1649.7 1004.0,1649.9 1006.0,1650.0 1008.0,1650.2 1010.0,1650.4 1012.0,1650.5 1014.0,1650.7 1016.0,1650.8 1018.0,1650.9 1020.0,1651.1 1022.0,1651.2 1024.0,1651.3 1026.0,1651.4 1028.0,1651.5 1030.0,1651.6 1032.0,1651.7 1034.0,1651.8 1036.0,1651.9 1038.0,1652.0 1040.0,1652.1 1042.0,1652.2 1044.0,1652.3 1046.0,1652.4" fill="none" stroke="#0a0ad8" stroke-width="6.3" stroke-linejoin="round" stroke-linecap="butt" stroke-dasharray="2.9 3.6"/>
<polyline points="578.5,1635.3 580.6,1633.8 582.8,1630.9 584.9,1630.5 587.1,1641.5 589.2,1640.3 591.4,1631.3 593.5,1643.0 595.7,1634.3 597.8,1643.2 600.0,1630.3 602.1,1638.3 604.3,1626.5 606.4,1637.4 608.6,1642.5 610.7,1636.5 612.9,1632.7 615.0,1642.2 617.2,1642.4 619.3,1639.6 621.5,1644.0 623.6,1637.0 625.8,1634.1 627.9,1638.2 630.1,1638.6 632.2,1632.7 634.4,1636.4 636.5,1637.0" fill="none" stroke="#0a0ad8" stroke-width="6.0" stroke-linejoin="round" stroke-linecap="butt" stroke-dasharray="5 2"/>
<polyline points="1053.0,501.3 1054.0,509.2 1055.0,513.3 1056.0,494.4 1057.0,515.3 1058.0,509.1 1059.0,515.5 1060.0,509.4 1061.0,520.1 1062.0,494.9 1063.0,527.5 1064.0,520.6 1065.0,499.0 1066.0,514.1 1067.0,511.6 1068.0,485.3 1069.0,513.4 1070.0,499.2 1071.0,503.3 1072.0,499.1 1073.0,501.2 1074.0,507.2 1075.0,507.5 1076.0,487.6 1077.0,503.1 1078.0,490.2 1079.0,491.1 1080.0,502.2 1081.0,516.7 1082.0,514.0 1083.0,499.2 1084.0,497.9 1085.0,496.5 1086.0,508.2 1087.0,517.7 1088.0,506.7 1089.0,514.8 1090.0,510.3 1091.0,524.6 1092.0,482.4 1093.0,481.0 1094.0,504.2 1095.0,514.2 1096.0,501.6 1097.0,511.7 1098.0,492.5 1099.0,491.5 1100.0,498.0 1101.0,516.7 1102.0,515.0 1103.0,498.1 1104.0,508.8 1105.0,498.9 1106.0,506.9 1107.0,493.3 1108.0,506.1 1109.0,497.8 1110.0,506.2 1111.0,498.9 1112.0,496.8 1113.0,508.1 1114.0,502.7 1115.0,507.0 1116.0,501.7 1117.0,514.1 1118.0,497.0 1119.0,516.0 1120.0,522.7 1121.0,503.5 1122.0,527.7 1123.0,531.1 1124.0,512.1 1125.0,490.5 1126.0,487.4 1127.0,504.7 1128.0,528.1 1129.0,513.7 1130.0,515.9 1131.0,503.8 1132.0,497.9 1133.0,511.3 1134.0,493.5 1135.0,504.5 1136.0,513.0 1137.0,507.3 1138.0,513.1 1139.0,501.5 1140.0,514.0 1141.0,511.7 1142.0,487.1 1143.0,494.4 1144.0,498.2 1145.0,514.8 1146.0,510.5 1147.0,510.3 1148.0,509.0 1149.0,514.5 1150.0,518.2 1151.0,500.3 1152.0,487.8 1153.0,514.9 1154.0,504.4 1155.0,507.5 1156.0,504.8 1157.0,493.6 1158.0,488.8 1159.0,518.5 1160.0,520.1 1161.0,518.1 1162.0,509.4 1163.0,510.2 1164.0,501.9 1165.0,507.8 1166.0,502.1 1167.0,500.4 1168.0,509.4 1169.0,527.3 1170.0,484.4 1171.0,514.2 1172.0,515.1 1173.0,492.4 1174.0,510.7 1175.0,508.2 1176.0,501.4 1177.0,501.0 1178.0,490.1 1179.0,527.5 1180.0,535.1 1181.0,526.0 1182.0,503.5 1183.0,510.4 1184.0,511.5 1185.0,497.2 1186.0,503.9 1187.0,513.4 1188.0,501.9 1189.0,485.9 1190.0,491.8 1191.0,510.0 1192.0,502.9 1193.0,503.4 1194.0,523.3 1195.0,508.0 1196.0,498.4 1197.0,506.2 1198.0,532.9 1199.0,493.5 1200.0,528.4 1201.0,524.3 1202.0,505.1 1203.0,503.0 1204.0,524.0 1205.0,509.9 1206.0,500.6 1207.0,528.9 1208.0,509.1 1209.0,511.0 1210.0,507.5 1211.0,503.4 1212.0,508.5 1213.0,502.6 1214.0,513.1 1215.0,519.7 1216.0,520.0 1217.0,521.3 1218.0,524.9 1219.0,516.1 1220.0,499.7 1221.0,518.5 1222.0,487.2 1223.0,498.4 1224.0,510.5 1225.0,486.8 1226.0,524.7 1227.0,494.8 1228.0,489.0 1229.0,497.9 1230.0,497.8 1231.0,506.7 1232.0,505.1 1233.0,519.3 1234.0,504.7 1235.0,508.5 1236.0,494.1 1237.0,511.4 1238.0,495.5 1239.0,480.7 1240.0,519.0 1241.0,489.7 1242.0,488.3 1243.0,489.9 1244.0,507.3 1245.0,479.9 1246.0,492.4 1247.0,503.0 1248.0,517.9 1249.0,490.1 1250.0,493.1 1251.0,480.6 1252.0,514.3 1253.0,487.1 1254.0,486.9 1255.0,488.3 1256.0,474.2 1257.0,484.3 1258.0,467.8 1259.0,500.8 1260.0,479.6 1261.0,478.4 1262.0,494.0 1263.0,463.4 1264.0,494.9 1265.0,495.5 1266.0,466.0 1267.0,483.2 1268.0,472.3 1269.0,483.6 1270.0,472.0 1271.0,459.2 1272.0,477.2 1273.0,465.5 1274.0,469.4 1275.0,478.2 1276.0,480.1 1277.0,471.5 1278.0,444.3 1279.0,469.7 1280.0,455.8 1281.0,471.8 1282.0,454.3 1283.0,473.4 1284.0,460.2 1285.0,451.9 1286.0,453.8 1287.0,425.4 1288.0,453.5 1289.0,445.5 1290.0,427.7 1291.0,445.0 1292.0,441.7 1293.0,440.1 1294.0,431.8 1295.0,441.5 1296.0,439.5 1297.0,428.2 1298.0,424.2 1299.0,417.0 1300.0,413.1 1301.0,427.0 1302.0,409.7 1303.0,396.1 1304.0,416.1 1305.0,425.6 1306.0,405.0 1307.0,418.3 1308.0,411.0 1309.0,388.8 1310.0,404.4 1311.0,395.9 1312.0,403.8 1313.0,354.0 1314.0,400.9 1315.0,398.0 1316.0,374.4 1317.0,401.3 1318.0,384.2 1319.0,388.5 1320.0,397.6 1321.0,404.0 1322.0,387.7 1323.0,394.6 1324.0,391.2 1325.0,375.1 1326.0,407.5 1327.0,396.2 1328.0,389.2 1329.0,404.1 1330.0,399.8 1331.0,388.1 1332.0,412.7 1333.0,403.5 1334.0,414.8 1335.0,424.1 1336.0,429.4 1337.0,447.4 1338.0,431.2 1339.0,432.2 1340.0,430.4 1341.0,436.9 1342.0,458.9 1343.0,461.1 1344.0,450.0 1345.0,458.2 1346.0,465.2 1347.0,494.4 1348.0,467.4 1349.0,487.2 1350.0,466.3 1351.0,487.0 1352.0,510.0 1353.0,481.0 1354.0,513.1 1355.0,479.1 1356.0,505.0 1357.0,493.2 1358.0,508.3 1359.0,507.7 1360.0,522.4 1361.0,517.9 1362.0,518.6 1363.0,511.9 1364.0,525.4 1365.0,511.9 1366.0,515.0 1367.0,516.1 1368.0,531.0 1369.0,551.6 1370.0,523.8 1371.0,547.6 1372.0,512.5 1373.0,517.6 1374.0,531.1 1375.0,532.2 1376.0,534.1 1377.0,544.0 1378.0,522.7 1379.0,538.2 1380.0,528.3 1381.0,491.5 1382.0,513.5 1383.0,519.2 1384.0,526.9 1385.0,532.0 1386.0,522.4 1387.0,541.4 1388.0,514.1 1389.0,525.5 1390.0,536.9 1391.0,512.4 1392.0,541.0 1393.0,537.4 1394.0,524.1 1395.0,526.1 1396.0,525.0 1397.0,526.4 1398.0,541.1 1399.0,532.3 1400.0,509.7 1401.0,507.7 1402.0,533.5 1403.0,494.8 1404.0,507.4 1405.0,518.9 1406.0,526.0 1407.0,542.4 1408.0,528.4 1409.0,568.4 1410.0,528.9 1411.0,536.6 1412.0,538.5 1413.0,525.0 1414.0,537.7 1415.0,533.5 1416.0,529.2 1417.0,518.8 1418.0,521.2 1419.0,535.9 1420.0,525.9 1421.0,531.2 1422.0,531.2 1423.0,529.7 1424.0,526.6 1425.0,533.4 1426.0,536.3 1427.0,542.8 1428.0,532.4 1429.0,519.7 1430.0,518.3 1431.0,534.0 1432.0,508.1 1433.0,520.2 1434.0,538.8 1435.0,522.4 1436.0,518.5 1437.0,541.0 1438.0,494.5 1439.0,525.3 1440.0,520.6 1441.0,520.2 1442.0,536.9 1443.0,543.9 1444.0,539.4 1445.0,533.3 1446.0,529.6 1447.0,522.8 1448.0,525.6 1449.0,506.1 1450.0,519.2 1451.0,532.5 1452.0,523.8 1453.0,535.0 1454.0,506.5 1455.0,518.2 1456.0,512.9 1457.0,537.4 1458.0,521.5 1459.0,521.0 1460.0,509.8 1461.0,518.3 1462.0,512.2 1463.0,517.3 1464.0,550.0 1465.0,510.1 1466.0,520.7 1467.0,513.0 1468.0,539.2 1469.0,511.8 1470.0,513.0 1471.0,527.6 1472.0,542.9 1473.0,525.8 1474.0,516.1 1475.0,492.2 1476.0,479.4 1477.0,521.6 1478.0,522.8 1479.0,536.5 1480.0,527.8 1481.0,519.0 1482.0,537.4 1483.0,542.6 1484.0,514.0 1485.0,532.9 1486.0,536.0 1487.0,512.4 1488.0,528.3 1489.0,521.0 1490.0,535.4 1491.0,534.5 1492.0,495.7 1493.0,518.3 1494.0,537.3 1495.0,526.9 1496.0,508.4 1497.0,514.8 1498.0,507.7 1499.0,524.3 1500.0,504.7 1501.0,534.8 1502.0,530.3 1503.0,540.1 1504.0,532.8 1505.0,532.0 1506.0,530.7 1507.0,526.5 1508.0,496.5 1509.0,526.2 1510.0,510.0 1511.0,490.7 1512.0,538.1 1513.0,519.1 1514.0,499.6 1515.0,522.6 1516.0,524.0 1517.0,521.1 1518.0,536.3 1519.0,505.2 1520.0,529.2" fill="none" stroke="#03c8c8" stroke-width="7.5" stroke-linejoin="round" stroke-linecap="butt" />
<polyline points="1053.0,883.7 1054.0,881.5 1055.0,870.7 1056.0,880.2 1057.0,861.9 1058.0,845.5 1059.0,894.6 1060.0,877.8 1061.0,842.2 1062.0,856.3 1063.0,862.5 1064.0,875.9 1065.0,889.8 1066.0,875.5 1067.0,865.1 1068.0,877.8 1069.0,868.1 1070.0,873.8 1071.0,861.9 1072.0,854.4 1073.0,889.3 1074.0,866.8 1075.0,873.0 1076.0,862.9 1077.0,863.7 1078.0,866.4 1079.0,880.6 1080.0,888.4 1081.0,879.0 1082.0,863.6 1083.0,910.6 1084.0,883.2 1085.0,884.6 1086.0,863.8 1087.0,868.0 1088.0,880.0 1089.0,847.1 1090.0,860.6 1091.0,877.1 1092.0,905.4 1093.0,877.4 1094.0,857.0 1095.0,854.5 1096.0,885.3 1097.0,860.2 1098.0,866.7 1099.0,899.1 1100.0,872.4 1101.0,866.6 1102.0,860.6 1103.0,890.1 1104.0,890.1 1105.0,862.2 1106.0,851.8 1107.0,869.9 1108.0,890.9 1109.0,878.0 1110.0,854.7 1111.0,876.4 1112.0,882.4 1113.0,871.3 1114.0,874.0 1115.0,871.7 1116.0,864.7 1117.0,862.4 1118.0,852.6 1119.0,855.0 1120.0,847.4 1121.0,877.9 1122.0,878.4 1123.0,872.5 1124.0,877.7 1125.0,872.4 1126.0,860.9 1127.0,874.1 1128.0,866.9 1129.0,868.5 1130.0,842.1 1131.0,863.9 1132.0,877.2 1133.0,866.4 1134.0,859.3 1135.0,848.4 1136.0,861.8 1137.0,891.0 1138.0,862.5 1139.0,886.0 1140.0,864.5 1141.0,886.1 1142.0,863.8 1143.0,876.7 1144.0,880.4 1145.0,880.0 1146.0,858.3 1147.0,866.7 1148.0,859.4 1149.0,869.7 1150.0,867.1 1151.0,868.1 1152.0,880.3 1153.0,857.1 1154.0,860.6 1155.0,863.6 1156.0,868.4 1157.0,860.5 1158.0,878.9 1159.0,856.6 1160.0,896.6 1161.0,872.6 1162.0,888.4 1163.0,856.8 1164.0,867.6 1165.0,873.9 1166.0,896.9 1167.0,873.7 1168.0,893.1 1169.0,862.4 1170.0,893.4 1171.0,862.9 1172.0,847.5 1173.0,844.7 1174.0,875.2 1175.0,869.3 1176.0,875.8 1177.0,871.3 1178.0,879.2 1179.0,895.1 1180.0,869.5 1181.0,876.3 1182.0,866.9 1183.0,848.2 1184.0,868.6 1185.0,893.5 1186.0,861.1 1187.0,904.8 1188.0,880.5 1189.0,879.1 1190.0,885.9 1191.0,873.0 1192.0,873.5 1193.0,891.6 1194.0,862.8 1195.0,870.9 1196.0,856.4 1197.0,874.5 1198.0,915.7 1199.0,889.7 1200.0,859.9 1201.0,848.3 1202.0,880.9 1203.0,882.9 1204.0,864.5 1205.0,891.8 1206.0,879.0 1207.0,883.2 1208.0,883.9 1209.0,888.7 1210.0,867.1 1211.0,863.5 1212.0,892.4 1213.0,871.3 1214.0,856.3 1215.0,878.5 1216.0,866.8 1217.0,877.9 1218.0,917.8 1219.0,898.5 1220.0,867.3 1221.0,856.3 1222.0,873.4 1223.0,860.1 1224.0,876.8 1225.0,877.6 1226.0,882.8 1227.0,873.6 1228.0,854.2 1229.0,871.6 1230.0,874.5 1231.0,876.8 1232.0,890.4 1233.0,859.1 1234.0,871.3 1235.0,865.1 1236.0,861.7 1237.0,882.3 1238.0,864.6 1239.0,900.3 1240.0,838.2 1241.0,893.7 1242.0,868.2 1243.0,852.4 1244.0,869.7 1245.0,866.0 1246.0,874.7 1247.0,874.9 1248.0,842.0 1249.0,848.6 1250.0,849.0 1251.0,842.4 1252.0,829.9 1253.0,850.3 1254.0,830.4 1255.0,802.1 1256.0,822.0 1257.0,810.5 1258.0,806.7 1259.0,820.6 1260.0,814.9 1261.0,806.6 1262.0,805.9 1263.0,810.0 1264.0,784.5 1265.0,792.6 1266.0,807.6 1267.0,775.9 1268.0,774.6 1269.0,768.8 1270.0,791.1 1271.0,763.4 1272.0,783.7 1273.0,755.9 1274.0,761.1 1275.0,758.3 1276.0,740.1 1277.0,727.5 1278.0,754.2 1279.0,727.2 1280.0,736.9 1281.0,734.2 1282.0,694.6 1283.0,733.7 1284.0,710.4 1285.0,698.1 1286.0,691.8 1287.0,684.7 1288.0,691.6 1289.0,717.3 1290.0,674.4 1291.0,651.2 1292.0,659.6 1293.0,693.0 1294.0,649.3 1295.0,672.3 1296.0,614.5 1297.0,604.5 1298.0,589.3 1299.0,586.2 1300.0,598.2 1301.0,600.6 1302.0,566.5 1303.0,580.0 1304.0,584.8 1305.0,592.8 1306.0,625.3 1307.0,629.0 1308.0,611.1 1309.0,620.0 1310.0,595.3 1311.0,620.8 1312.0,588.6 1313.0,624.2 1314.0,636.0 1315.0,651.2 1316.0,640.7 1317.0,648.0 1318.0,640.2 1319.0,626.6 1320.0,662.2 1321.0,648.1 1322.0,681.1 1323.0,689.4 1324.0,678.0 1325.0,677.6 1326.0,711.4 1327.0,711.2 1328.0,734.6 1329.0,748.5 1330.0,767.1 1331.0,763.7 1332.0,740.9 1333.0,762.1 1334.0,804.0 1335.0,765.8 1336.0,781.8 1337.0,815.5 1338.0,811.9 1339.0,800.7 1340.0,822.1 1341.0,815.3 1342.0,844.4 1343.0,836.3 1344.0,844.9 1345.0,852.4 1346.0,825.2 1347.0,854.2 1348.0,864.8 1349.0,862.4 1350.0,856.0 1351.0,864.3 1352.0,887.7 1353.0,878.1 1354.0,861.2 1355.0,886.4 1356.0,876.6 1357.0,866.6 1358.0,849.6 1359.0,883.7 1360.0,860.9 1361.0,882.4 1362.0,894.1 1363.0,889.3 1364.0,863.6 1365.0,868.5 1366.0,891.6 1367.0,898.5 1368.0,884.1 1369.0,882.7 1370.0,911.2 1371.0,909.7 1372.0,890.7 1373.0,882.6 1374.0,897.4 1375.0,871.5 1376.0,892.1 1377.0,893.0 1378.0,907.1 1379.0,897.8 1380.0,864.7 1381.0,916.4 1382.0,898.5 1383.0,862.2 1384.0,868.5 1385.0,900.0 1386.0,871.8 1387.0,901.7 1388.0,875.3 1389.0,867.8 1390.0,912.5 1391.0,914.5 1392.0,886.2 1393.0,913.1 1394.0,895.3 1395.0,897.5 1396.0,887.8 1397.0,900.0 1398.0,911.5 1399.0,911.8 1400.0,920.5 1401.0,917.1 1402.0,900.8 1403.0,884.6 1404.0,903.9 1405.0,901.1 1406.0,886.2 1407.0,875.8 1408.0,880.5 1409.0,870.2 1410.0,879.3 1411.0,894.5 1412.0,909.5 1413.0,893.4 1414.0,884.2 1415.0,885.2 1416.0,889.3 1417.0,908.9 1418.0,893.1 1419.0,866.1 1420.0,891.1 1421.0,866.5 1422.0,880.7 1423.0,891.9 1424.0,877.9 1425.0,888.3 1426.0,906.8 1427.0,878.4 1428.0,904.7 1429.0,902.1 1430.0,899.3 1431.0,877.4 1432.0,904.8 1433.0,894.9 1434.0,899.7 1435.0,889.9 1436.0,907.1 1437.0,870.4 1438.0,894.9 1439.0,900.2 1440.0,927.7 1441.0,867.1 1442.0,872.2 1443.0,885.6 1444.0,892.3 1445.0,877.1 1446.0,898.3 1447.0,884.7 1448.0,889.2 1449.0,868.6 1450.0,893.0 1451.0,888.6 1452.0,907.8 1453.0,897.9 1454.0,907.5 1455.0,891.2 1456.0,876.0 1457.0,896.0 1458.0,864.9 1459.0,866.4 1460.0,876.7 1461.0,896.7 1462.0,899.8 1463.0,860.5 1464.0,879.7 1465.0,900.7 1466.0,877.9 1467.0,860.6 1468.0,883.9 1469.0,901.9 1470.0,874.1 1471.0,874.4 1472.0,910.8 1473.0,891.9 1474.0,866.1 1475.0,893.3 1476.0,898.5 1477.0,876.7 1478.0,883.7 1479.0,892.6 1480.0,884.8 1481.0,901.7 1482.0,898.5 1483.0,892.6 1484.0,901.0 1485.0,874.6 1486.0,867.2 1487.0,858.9 1488.0,869.5 1489.0,861.4 1490.0,873.2 1491.0,889.8 1492.0,896.9 1493.0,885.2 1494.0,883.5 1495.0,878.9 1496.0,881.6 1497.0,866.6 1498.0,864.2 1499.0,855.5 1500.0,867.3 1501.0,875.8 1502.0,868.3 1503.0,872.3 1504.0,895.6 1505.0,874.6 1506.0,875.8 1507.0,867.0 1508.0,873.3 1509.0,850.0 1510.0,871.0 1511.0,871.5 1512.0,873.1 1513.0,837.5 1514.0,853.8 1515.0,874.1 1516.0,864.2 1517.0,832.0 1518.0,838.0 1519.0,832.1 1520.0,852.3" fill="none" stroke="#03c8c8" stroke-width="7.5" stroke-linejoin="round" stroke-linecap="butt" />
<polyline points="1053.0,1272.2 1055.0,1266.9 1057.0,1273.2 1059.0,1270.2 1061.0,1261.4 1063.0,1275.5 1065.0,1269.5 1067.0,1273.4 1069.0,1280.1 1071.0,1271.5 1073.0,1264.1 1075.0,1266.3 1077.0,1275.6 1079.0,1262.0 1081.0,1271.4 1083.0,1272.1 1085.0,1263.7 1087.0,1270.9 1089.0,1273.1 1091.0,1265.7 1093.0,1267.4 1095.0,1273.0 1097.0,1262.9 1099.0,1265.2 1101.0,1275.2 1103.0,1270.5 1105.0,1262.2 1107.0,1270.1 1109.0,1280.7 1111.0,1261.7 1113.0,1274.5 1115.0,1274.2 1117.0,1269.0 1119.0,1273.3 1121.0,1266.3 1123.0,1278.5 1125.0,1279.5 1127.0,1265.2 1129.0,1268.8 1131.0,1270.7 1133.0,1266.6 1135.0,1271.9 1137.0,1264.3 1139.0,1273.2 1141.0,1268.3 1143.0,1269.7 1145.0,1272.6 1147.0,1275.1 1149.0,1264.6 1151.0,1274.3 1153.0,1274.8 1155.0,1269.4 1157.0,1278.5 1159.0,1265.8 1161.0,1267.0 1163.0,1272.1 1165.0,1266.3 1167.0,1277.7 1169.0,1271.1 1171.0,1279.5 1173.0,1264.2 1175.0,1264.8 1177.0,1277.3 1179.0,1264.2 1181.0,1275.9 1183.0,1265.6 1185.0,1271.5 1187.0,1276.4 1189.0,1269.7 1191.0,1263.7 1193.0,1267.3 1195.0,1276.3 1197.0,1271.1 1199.0,1273.9 1201.0,1270.5 1203.0,1271.6 1205.0,1269.0 1207.0,1264.4 1209.0,1273.0 1211.0,1271.0 1213.0,1259.1 1215.0,1270.1 1217.0,1275.4 1219.0,1280.6 1221.0,1262.6 1223.0,1270.6 1225.0,1273.1 1227.0,1274.2 1229.0,1266.2 1231.0,1272.8 1233.0,1267.7 1235.0,1268.7 1237.0,1263.7 1239.0,1265.2 1241.0,1257.9 1243.0,1258.4 1245.0,1253.6 1247.0,1256.9 1249.0,1259.0 1251.0,1247.3 1253.0,1241.8 1255.0,1242.6 1257.0,1239.0 1259.0,1230.8 1261.0,1238.2 1263.0,1233.6 1265.0,1239.3 1267.0,1231.6 1269.0,1235.1 1271.0,1231.6 1273.0,1221.7 1275.0,1219.4 1277.0,1214.7 1279.0,1211.1 1281.0,1213.8 1283.0,1201.7 1285.0,1196.4 1287.0,1187.6 1289.0,1192.8 1291.0,1176.1 1293.0,1170.5 1295.0,1159.0 1297.0,1157.8 1299.0,1146.6 1301.0,1143.6 1303.0,1132.9 1305.0,1132.7 1307.0,1141.9 1309.0,1145.7 1311.0,1133.9 1313.0,1146.4 1315.0,1149.8 1317.0,1169.3 1319.0,1151.5 1321.0,1161.0 1323.0,1171.7 1325.0,1195.6 1327.0,1206.7 1329.0,1206.5 1331.0,1222.4 1333.0,1231.2 1335.0,1222.3 1337.0,1233.3 1339.0,1234.8 1341.0,1238.0 1343.0,1244.2 1345.0,1250.0 1347.0,1247.8 1349.0,1257.5 1351.0,1265.1 1353.0,1257.9 1355.0,1262.1 1357.0,1261.4 1359.0,1269.8 1361.0,1268.3 1363.0,1275.2 1365.0,1269.5 1367.0,1264.1 1369.0,1276.2 1371.0,1272.3 1373.0,1280.9 1375.0,1279.1 1377.0,1261.2 1379.0,1265.0 1381.0,1276.1 1383.0,1271.8 1385.0,1263.6 1387.0,1273.0 1389.0,1283.0 1391.0,1279.4 1393.0,1271.1 1395.0,1277.5 1397.0,1281.5 1399.0,1274.9 1401.0,1285.7 1403.0,1272.1 1405.0,1287.5 1407.0,1284.4 1409.0,1278.8 1411.0,1277.2 1413.0,1276.1 1415.0,1270.8 1417.0,1281.4 1419.0,1283.0 1421.0,1280.3 1423.0,1277.5 1425.0,1276.6 1427.0,1270.8 1429.0,1272.4 1431.0,1268.0 1433.0,1278.6 1435.0,1270.9 1437.0,1280.3 1439.0,1271.9 1441.0,1283.2 1443.0,1283.8 1445.0,1283.3 1447.0,1280.9 1449.0,1272.6 1451.0,1272.2 1453.0,1269.5 1455.0,1275.0 1457.0,1282.0 1459.0,1266.4 1461.0,1285.4 1463.0,1268.5 1465.0,1264.8 1467.0,1272.7 1469.0,1276.4 1471.0,1268.1 1473.0,1264.1 1475.0,1279.1 1477.0,1263.0 1479.0,1274.3 1481.0,1269.4 1483.0,1266.2 1485.0,1268.3 1487.0,1261.8 1489.0,1261.4 1491.0,1268.9 1493.0,1261.3 1495.0,1262.5 1497.0,1274.5 1499.0,1276.1 1501.0,1272.1 1503.0,1270.7 1505.0,1264.1 1507.0,1265.8 1509.0,1261.0 1511.0,1249.4 1513.0,1265.6 1515.0,1265.6 1517.0,1269.5 1519.0,1257.3" fill="none" stroke="#03c803" stroke-width="7.5" stroke-linejoin="round" stroke-linecap="butt" />
<polyline points="1053.0,1625.8 1055.0,1618.8 1057.0,1642.0 1059.0,1629.8 1061.0,1631.0 1063.0,1626.2 1065.0,1628.0 1067.0,1630.0 1069.0,1629.4 1071.0,1624.8 1073.0,1632.4 1075.0,1631.9 1077.0,1628.4 1079.0,1625.0 1081.0,1624.3 1083.0,1623.7 1085.0,1631.6 1087.0,1628.1 1089.0,1635.6 1091.0,1625.2 1093.0,1635.1 1095.0,1631.0 1097.0,1627.6 1099.0,1637.5 1101.0,1632.3 1103.0,1636.2 1105.0,1638.2 1107.0,1634.7 1109.0,1629.0 1111.0,1633.1 1113.0,1638.2 1115.0,1628.5 1117.0,1635.6 1119.0,1631.3 1121.0,1629.7 1123.0,1629.3 1125.0,1626.3 1127.0,1631.2 1129.0,1635.2 1131.0,1621.1 1133.0,1630.6 1135.0,1634.3 1137.0,1630.8 1139.0,1637.6 1141.0,1628.4 1143.0,1637.5 1145.0,1638.0 1147.0,1635.6 1149.0,1628.8 1151.0,1643.8 1153.0,1631.8 1155.0,1636.3 1157.0,1627.5 1159.0,1629.1 1161.0,1635.6 1163.0,1625.0 1165.0,1635.9 1167.0,1643.6 1169.0,1624.7 1171.0,1631.4 1173.0,1638.1 1175.0,1630.8 1177.0,1637.8 1179.0,1633.8 1181.0,1622.7 1183.0,1617.2 1185.0,1630.9 1187.0,1637.8 1189.0,1627.2 1191.0,1639.4 1193.0,1622.4 1195.0,1635.7 1197.0,1630.5 1199.0,1630.8 1201.0,1629.2 1203.0,1627.2 1205.0,1630.5 1207.0,1624.2 1209.0,1636.1 1211.0,1623.4 1213.0,1633.6 1215.0,1623.3 1217.0,1621.1 1219.0,1632.2 1221.0,1629.9 1223.0,1627.4 1225.0,1636.7 1227.0,1620.6 1229.0,1629.7 1231.0,1624.9 1233.0,1632.0 1235.0,1613.3 1237.0,1614.5 1239.0,1610.0 1241.0,1603.9 1243.0,1596.0 1245.0,1599.8 1247.0,1595.9 1249.0,1588.5 1251.0,1588.9 1253.0,1576.1 1255.0,1590.6 1257.0,1580.5 1259.0,1573.4 1261.0,1570.6 1263.0,1557.4 1265.0,1547.4 1267.0,1536.8 1269.0,1521.7 1271.0,1508.7 1273.0,1504.0 1275.0,1482.2 1277.0,1480.8 1279.0,1460.9 1281.0,1452.7 1283.0,1417.9 1285.0,1394.6 1287.0,1368.0 1289.0,1333.9 1291.0,1335.7 1293.0,1320.0 1295.0,1306.7 1297.0,1299.7 1299.0,1303.7 1301.0,1294.9 1303.0,1306.5 1305.0,1312.4 1307.0,1322.1 1309.0,1342.2 1311.0,1360.0 1313.0,1375.8 1315.0,1408.7 1317.0,1429.3 1319.0,1457.1 1321.0,1475.8 1323.0,1502.6 1325.0,1524.6 1327.0,1541.2 1329.0,1562.1 1331.0,1584.0 1333.0,1584.6 1335.0,1590.5 1337.0,1603.3 1339.0,1617.8 1341.0,1615.2 1343.0,1623.6 1345.0,1621.2 1347.0,1627.9 1349.0,1621.4 1351.0,1633.5 1353.0,1629.2 1355.0,1633.6 1357.0,1640.6 1359.0,1621.4 1361.0,1644.7 1363.0,1652.6 1365.0,1638.3 1367.0,1637.3 1369.0,1639.9 1371.0,1645.3 1373.0,1640.8 1375.0,1634.4 1377.0,1635.7 1379.0,1631.8 1381.0,1637.6 1383.0,1636.2 1385.0,1632.0 1387.0,1644.0 1389.0,1641.3 1391.0,1645.3 1393.0,1629.5 1395.0,1647.5 1397.0,1651.4 1399.0,1639.5 1401.0,1633.8 1403.0,1630.4 1405.0,1648.2 1407.0,1642.1 1409.0,1645.4 1411.0,1642.2 1413.0,1633.6 1415.0,1640.8 1417.0,1644.0 1419.0,1639.7 1421.0,1647.1 1423.0,1641.4 1425.0,1651.9 1427.0,1634.8 1429.0,1649.9 1431.0,1647.8 1433.0,1653.6 1435.0,1656.6 1437.0,1652.5 1439.0,1650.8 1441.0,1645.7 1443.0,1655.8 1445.0,1649.7 1447.0,1651.2 1449.0,1647.4 1451.0,1647.9 1453.0,1641.7 1455.0,1659.7 1457.0,1644.0 1459.0,1639.0 1461.0,1637.3 1463.0,1640.6 1465.0,1634.6 1467.0,1640.7 1469.0,1635.5 1471.0,1636.1 1473.0,1640.3 1475.0,1634.8 1477.0,1634.6 1479.0,1634.8 1481.0,1639.0 1483.0,1629.5 1485.0,1636.6 1487.0,1632.9 1489.0,1630.5 1491.0,1619.2 1493.0,1626.5 1495.0,1615.5 1497.0,1618.3 1499.0,1618.3 1501.0,1615.4 1503.0,1609.2 1505.0,1622.4 1507.0,1615.7 1509.0,1625.5 1511.0,1618.2 1513.0,1608.4 1515.0,1629.2 1517.0,1628.2 1519.0,1634.6" fill="none" stroke="#03c803" stroke-width="7.5" stroke-linejoin="round" stroke-linecap="butt" />
<polyline points="1527.0,412.9 1527.9,447.5 1528.8,443.0 1529.7,455.7 1530.6,417.0 1531.5,472.0 1532.4,451.1 1533.3,424.7 1534.2,421.9 1535.1,424.4 1536.0,438.6 1536.9,481.7 1537.8,476.4 1538.7,445.9 1539.6,446.9 1540.5,502.4 1541.4,480.7 1542.3,444.1 1543.2,459.3 1544.1,453.8 1545.0,467.3 1545.9,484.0 1546.8,459.3 1547.7,474.1 1548.6,479.1 1549.5,484.5 1550.4,454.0 1551.3,463.6 1552.2,512.4 1553.1,465.4 1554.0,470.6 1554.9,480.1 1555.8,458.1 1556.7,462.5 1557.6,508.2 1558.5,500.0 1559.4,447.3 1560.3,473.0 1561.2,443.2 1562.1,437.9 1563.0,471.7 1563.9,505.1 1564.8,469.8 1565.7,503.9 1566.6,448.3 1567.5,474.6 1568.4,473.4 1569.3,473.5 1570.2,493.5 1571.1,484.2 1572.0,459.5 1572.9,441.9 1573.8,459.4 1574.7,471.1 1575.6,459.5 1576.5,438.0 1577.4,432.8 1578.3,489.4 1579.2,477.2 1580.1,458.7 1581.0,481.3 1581.9,482.5 1582.8,466.9 1583.7,462.2 1584.6,496.9 1585.5,490.4 1586.4,503.1 1587.3,493.9 1588.2,477.3 1589.1,461.7 1590.0,464.1 1590.9,458.5 1591.8,473.0 1592.7,476.2 1593.6,497.3 1594.5,501.2 1595.4,471.2 1596.3,480.2 1597.2,445.7 1598.1,456.7 1599.0,447.7 1599.9,474.4 1600.8,459.8 1601.7,454.6 1602.6,471.0 1603.5,430.4 1604.4,469.4 1605.3,481.6 1606.2,498.7 1607.1,445.7 1608.0,462.0 1608.9,426.3 1609.8,500.6 1610.7,466.9 1611.6,476.3 1612.5,437.7 1613.4,465.6 1614.3,457.6 1615.2,444.3 1616.1,445.0 1617.0,449.9 1617.9,451.6 1618.8,432.0 1619.7,499.6 1620.6,469.8 1621.5,472.9 1622.4,472.4 1623.3,464.0 1624.2,467.0 1625.1,480.3 1626.0,462.0 1626.9,495.4 1627.8,462.4 1628.7,492.1 1629.6,446.5 1630.5,472.3 1631.4,480.6 1632.3,493.9 1633.2,494.0 1634.1,443.0 1635.0,449.5 1635.9,497.2 1636.8,454.4 1637.7,429.0 1638.6,485.6 1639.5,473.9 1640.4,434.1 1641.3,446.8 1642.2,486.8 1643.1,448.7 1644.0,445.7 1644.9,448.2 1645.8,484.7 1646.7,419.8 1647.6,462.0 1648.5,455.1 1649.4,461.5 1650.3,466.0 1651.2,449.7 1652.1,460.3 1653.0,456.0 1653.9,475.8 1654.8,395.3 1655.7,439.9 1656.6,443.8 1657.5,411.8 1658.4,469.3 1659.3,449.8 1660.2,401.1 1661.1,430.5 1662.0,450.3 1662.9,436.5 1663.8,417.4 1664.7,445.3 1665.6,438.3 1666.5,411.2 1667.4,425.4 1668.3,457.7 1669.2,454.9 1670.1,408.8 1671.0,415.6 1671.9,459.1 1672.8,441.5 1673.7,429.9 1674.6,422.0 1675.5,432.8 1676.4,448.3 1677.3,378.3 1678.2,446.8 1679.1,408.7 1680.0,400.1 1680.9,414.0 1681.8,404.6 1682.7,406.3 1683.6,428.9 1684.5,418.6 1685.4,449.0 1686.3,394.6 1687.2,444.7 1688.1,401.7 1689.0,431.1 1689.9,420.4 1690.8,447.7 1691.7,400.2 1692.6,429.0 1693.5,460.9 1694.4,454.7 1695.3,421.5 1696.2,443.7 1697.1,450.5 1698.0,438.2 1698.9,452.9 1699.8,448.5 1700.7,378.3 1701.6,440.5 1702.5,503.6 1703.4,418.2 1704.3,419.3 1705.2,426.6 1706.1,407.9 1707.0,417.7 1707.9,422.1 1708.8,467.3 1709.7,418.1 1710.6,435.1 1711.5,418.0 1712.4,401.4 1713.3,406.7 1714.2,396.1 1715.1,449.6 1716.0,413.8 1716.9,386.8 1717.8,417.4 1718.7,461.8 1719.6,422.1 1720.5,414.8 1721.4,421.0 1722.3,405.5 1723.2,390.6 1724.1,440.8 1725.0,338.8 1725.9,398.6 1726.8,389.5 1727.7,403.3 1728.6,390.5 1729.5,430.2 1730.4,438.3 1731.3,406.0 1732.2,373.4 1733.1,383.3 1734.0,389.8 1734.9,376.2 1735.8,366.5 1736.7,429.0 1737.6,408.1 1738.5,362.5 1739.4,360.4 1740.3,376.7 1741.2,356.3 1742.1,379.1 1743.0,379.5 1743.9,359.0 1744.8,334.0 1745.7,343.8 1746.6,311.3 1747.5,335.8 1748.4,379.9 1749.3,324.9 1750.2,348.6 1751.1,356.9 1752.0,362.5 1752.9,294.8 1753.8,316.2 1754.7,305.0 1755.6,343.8 1756.5,334.6 1757.4,284.2 1758.3,291.9 1759.2,308.6 1760.1,342.6 1761.0,286.1 1761.9,317.7 1762.8,269.1 1763.7,257.2 1764.6,298.7 1765.5,260.1 1766.4,239.0 1767.3,296.4 1768.2,277.9 1769.1,231.9 1770.0,274.4 1770.9,261.0 1771.8,260.0 1772.7,221.2 1773.6,233.0 1774.5,193.7 1775.4,192.9 1776.3,256.9 1777.2,228.4 1778.1,242.8 1779.0,232.8 1779.9,225.8 1780.8,225.8 1781.7,247.5 1782.6,231.2 1783.5,202.4 1784.4,260.8 1785.3,266.6 1786.2,252.8 1787.1,268.5 1788.0,240.1 1788.9,236.7 1789.8,261.3 1790.7,248.7 1791.6,211.1 1792.5,234.0 1793.4,240.4 1794.3,287.3 1795.2,241.0 1796.1,224.0 1797.0,218.1 1797.9,239.4 1798.8,230.0 1799.7,242.8 1800.6,225.1 1801.5,215.4 1802.4,249.9 1803.3,270.0 1804.2,272.0 1805.1,243.2 1806.0,277.0 1806.9,308.4 1807.8,305.5 1808.7,293.8 1809.6,306.8 1810.5,315.7 1811.4,338.8 1812.3,333.9 1813.2,359.7 1814.1,361.2 1815.0,368.3 1815.9,389.6 1816.8,398.0 1817.7,377.6 1818.6,386.3 1819.5,418.7 1820.4,397.3 1821.3,382.1 1822.2,401.6 1823.1,395.9 1824.0,423.1 1824.9,430.3 1825.8,461.2 1826.7,444.6 1827.6,451.3 1828.5,472.7 1829.4,458.5 1830.3,424.6 1831.2,443.5 1832.1,432.3 1833.0,443.6 1833.9,475.0 1834.8,512.7 1835.7,469.1 1836.6,457.8 1837.5,437.6 1838.4,460.4 1839.3,489.7 1840.2,439.8 1841.1,467.4 1842.0,477.5 1842.9,481.6 1843.8,514.1 1844.7,463.7 1845.6,470.2 1846.5,443.5 1847.4,457.2 1848.3,448.4 1849.2,472.0 1850.1,480.8 1851.0,487.3 1851.9,490.7 1852.8,463.7 1853.7,453.8 1854.6,454.8 1855.5,471.4 1856.4,468.9 1857.3,453.5 1858.2,488.8 1859.1,456.7 1860.0,478.5 1860.9,468.7 1861.8,489.5 1862.7,493.4 1863.6,463.2 1864.5,492.6 1865.4,527.6 1866.3,494.4 1867.2,461.4 1868.1,533.2 1869.0,465.0 1869.9,501.7 1870.8,463.1 1871.7,502.8 1872.6,483.8 1873.5,498.8 1874.4,492.7 1875.3,455.5 1876.2,453.3 1877.1,470.2 1878.0,508.1 1878.9,496.2 1879.8,515.9 1880.7,516.4 1881.6,527.4 1882.5,469.6 1883.4,465.2 1884.3,466.6 1885.2,520.5 1886.1,482.3 1887.0,498.1 1887.9,533.7 1888.8,483.6 1889.7,478.7 1890.6,471.7 1891.5,513.7 1892.4,515.3 1893.3,495.1 1894.2,485.0 1895.1,490.8 1896.0,501.8 1896.9,517.0 1897.8,472.1 1898.7,477.1 1899.6,513.5 1900.5,512.6 1901.4,495.2 1902.3,491.4 1903.2,516.3 1904.1,497.6 1905.0,457.3 1905.9,471.7 1906.8,510.6 1907.7,491.5 1908.6,504.4 1909.5,457.6 1910.4,520.2 1911.3,500.9 1912.2,491.2 1913.1,497.3 1914.0,488.6 1914.9,490.8 1915.8,446.1 1916.7,473.5 1917.6,519.5 1918.5,491.3 1919.4,476.5 1920.3,506.8 1921.2,528.8 1922.1,495.8 1923.0,514.4 1923.9,482.4 1924.8,457.3 1925.7,530.7 1926.6,480.5 1927.5,514.4 1928.4,519.8 1929.3,533.6 1930.2,485.5 1931.1,521.4 1932.0,476.8 1932.9,465.9 1933.8,462.1 1934.7,502.3 1935.6,465.4 1936.5,556.1 1937.4,521.7 1938.3,521.3 1939.2,506.2 1940.1,518.7 1941.0,488.8 1941.9,475.5 1942.8,480.3 1943.7,512.0 1944.6,500.6 1945.5,507.7 1946.4,469.5 1947.3,517.1 1948.2,527.0 1949.1,508.0 1950.0,449.4 1950.9,487.4 1951.8,499.2 1952.7,523.6 1953.6,504.2 1954.5,517.6 1955.4,479.0 1956.3,485.2 1957.2,485.3 1958.1,530.6 1959.0,462.1 1959.9,491.8 1960.8,460.7 1961.7,537.2 1962.6,517.7 1963.5,483.8 1964.4,517.6 1965.3,517.6 1966.2,496.8 1967.1,509.4 1968.0,497.9 1968.9,498.2 1969.8,464.8 1970.7,482.3 1971.6,518.6 1972.5,506.9 1973.4,551.3 1974.3,532.3 1975.2,513.9 1976.1,460.7 1977.0,489.9 1977.9,508.5 1978.8,547.5 1979.7,514.9 1980.6,472.5 1981.5,524.5 1982.4,528.7 1983.3,533.7 1984.2,538.6 1985.1,487.1 1986.0,506.1 1986.9,518.1 1987.8,527.3 1988.7,494.2 1989.6,529.7 1990.5,527.0 1991.4,458.4 1992.3,523.0 1993.2,514.9 1994.1,495.7" fill="none" stroke="#03c8c8" stroke-width="7.5" stroke-linejoin="round" stroke-linecap="butt" />
<polyline points="1527.0,847.8 1527.9,822.3 1528.8,856.3 1529.7,859.9 1530.6,805.0 1531.5,817.4 1532.4,844.6 1533.3,836.2 1534.2,841.9 1535.1,826.0 1536.0,858.9 1536.9,857.0 1537.8,843.5 1538.7,863.7 1539.6,851.2 1540.5,826.0 1541.4,849.4 1542.3,824.2 1543.2,859.1 1544.1,841.5 1545.0,838.9 1545.9,829.5 1546.8,865.7 1547.7,839.6 1548.6,834.4 1549.5,835.8 1550.4,852.7 1551.3,849.5 1552.2,850.4 1553.1,850.8 1554.0,883.3 1554.9,834.9 1555.8,832.9 1556.7,827.2 1557.6,854.4 1558.5,864.1 1559.4,840.5 1560.3,826.7 1561.2,827.1 1562.1,855.1 1563.0,856.9 1563.9,853.1 1564.8,830.1 1565.7,847.2 1566.6,845.0 1567.5,847.0 1568.4,859.4 1569.3,847.1 1570.2,855.7 1571.1,844.1 1572.0,848.3 1572.9,854.9 1573.8,815.2 1574.7,836.8 1575.6,834.0 1576.5,830.8 1577.4,837.7 1578.3,871.3 1579.2,826.5 1580.1,861.3 1581.0,811.0 1581.9,836.6 1582.8,846.0 1583.7,854.1 1584.6,856.5 1585.5,858.0 1586.4,836.3 1587.3,834.2 1588.2,859.3 1589.1,839.3 1590.0,818.7 1590.9,821.5 1591.8,825.5 1592.7,852.4 1593.6,845.7 1594.5,856.1 1595.4,834.9 1596.3,846.0 1597.2,854.9 1598.1,837.1 1599.0,851.7 1599.9,830.4 1600.8,836.1 1601.7,835.7 1602.6,820.3 1603.5,852.3 1604.4,834.1 1605.3,843.2 1606.2,852.1 1607.1,851.5 1608.0,855.6 1608.9,841.1 1609.8,834.9 1610.7,841.5 1611.6,810.9 1612.5,815.5 1613.4,817.8 1614.3,824.0 1615.2,850.6 1616.1,825.7 1617.0,835.8 1617.9,867.6 1618.8,836.2 1619.7,856.9 1620.6,825.2 1621.5,839.0 1622.4,824.9 1623.3,836.5 1624.2,858.9 1625.1,810.1 1626.0,851.1 1626.9,847.4 1627.8,831.6 1628.7,815.4 1629.6,844.2 1630.5,832.8 1631.4,847.2 1632.3,843.2 1633.2,873.2 1634.1,838.2 1635.0,823.3 1635.9,846.2 1636.8,846.9 1637.7,868.5 1638.6,858.6 1639.5,849.5 1640.4,870.5 1641.3,820.1 1642.2,830.5 1643.1,825.0 1644.0,835.2 1644.9,816.4 1645.8,854.7 1646.7,838.3 1647.6,814.6 1648.5,823.2 1649.4,848.5 1650.3,858.4 1651.2,880.4 1652.1,897.8 1653.0,850.3 1653.9,823.6 1654.8,801.9 1655.7,847.5 1656.6,826.9 1657.5,834.5 1658.4,830.7 1659.3,839.6 1660.2,862.5 1661.1,845.2 1662.0,839.2 1662.9,822.5 1663.8,810.4 1664.7,832.9 1665.6,841.1 1666.5,875.7 1667.4,844.6 1668.3,860.7 1669.2,832.6 1670.1,819.5 1671.0,823.7 1671.9,828.2 1672.8,882.4 1673.7,826.3 1674.6,857.8 1675.5,824.7 1676.4,859.5 1677.3,849.1 1678.2,838.8 1679.1,841.0 1680.0,829.3 1680.9,850.2 1681.8,833.0 1682.7,818.4 1683.6,817.3 1684.5,844.9 1685.4,871.6 1686.3,844.6 1687.2,839.2 1688.1,846.9 1689.0,866.2 1689.9,845.6 1690.8,833.5 1691.7,862.3 1692.6,849.4 1693.5,870.4 1694.4,844.7 1695.3,817.9 1696.2,815.2 1697.1,872.5 1698.0,873.8 1698.9,837.6 1699.8,833.7 1700.7,868.7 1701.6,819.9 1702.5,823.9 1703.4,853.0 1704.3,833.3 1705.2,840.6 1706.1,837.5 1707.0,846.9 1707.9,867.2 1708.8,842.0 1709.7,852.5 1710.6,801.2 1711.5,839.1 1712.4,823.8 1713.3,816.6 1714.2,822.9 1715.1,833.1 1716.0,856.7 1716.9,814.0 1717.8,839.6 1718.7,829.7 1719.6,832.5 1720.5,857.6 1721.4,848.6 1722.3,863.6 1723.2,835.0 1724.1,824.5 1725.0,833.3 1725.9,842.0 1726.8,840.5 1727.7,816.3 1728.6,838.4 1729.5,840.8 1730.4,884.1 1731.3,871.7 1732.2,819.6 1733.1,830.1 1734.0,807.5 1734.9,823.8 1735.8,840.8 1736.7,857.5 1737.6,820.4 1738.5,821.6 1739.4,793.0 1740.3,830.4 1741.2,813.0 1742.1,822.9 1743.0,816.0 1743.9,830.6 1744.8,798.7 1745.7,803.9 1746.6,871.8 1747.5,806.5 1748.4,809.6 1749.3,864.8 1750.2,884.4 1751.1,806.3 1752.0,820.9 1752.9,833.7 1753.8,859.3 1754.7,806.9 1755.6,820.2 1756.5,838.9 1757.4,831.6 1758.3,815.4 1759.2,819.2 1760.1,794.9 1761.0,815.7 1761.9,814.4 1762.8,823.2 1763.7,807.6 1764.6,826.5 1765.5,836.2 1766.4,819.4 1767.3,822.7 1768.2,816.6 1769.1,815.3 1770.0,801.3 1770.9,820.8 1771.8,812.7 1772.7,854.1 1773.6,844.1 1774.5,821.3 1775.4,799.3 1776.3,792.4 1777.2,836.0 1778.1,818.2 1779.0,822.2 1779.9,779.8 1780.8,830.4 1781.7,821.3 1782.6,791.4 1783.5,803.4 1784.4,817.3 1785.3,813.2 1786.2,806.6 1787.1,810.1 1788.0,807.3 1788.9,814.9 1789.8,840.0 1790.7,763.4 1791.6,808.3 1792.5,817.3 1793.4,821.0 1794.3,810.1 1795.2,785.8 1796.1,827.6 1797.0,856.5 1797.9,796.9 1798.8,844.8 1799.7,824.3 1800.6,831.4 1801.5,814.4 1802.4,829.6 1803.3,861.8 1804.2,848.9 1805.1,870.9 1806.0,860.4 1806.9,846.3 1807.8,871.1 1808.7,846.3 1809.6,853.7 1810.5,832.4 1811.4,839.3 1812.3,824.7 1813.2,856.8 1814.1,815.6 1815.0,852.9 1815.9,834.4 1816.8,860.3 1817.7,852.3 1818.6,872.6 1819.5,851.9 1820.4,808.1 1821.3,836.2 1822.2,814.2 1823.1,825.3 1824.0,862.2 1824.9,843.6 1825.8,816.1 1826.7,807.8 1827.6,825.4 1828.5,799.3 1829.4,807.4 1830.3,824.0 1831.2,838.1 1832.1,826.1 1833.0,769.7 1833.9,818.2 1834.8,813.4 1835.7,819.9 1836.6,842.7 1837.5,772.8 1838.4,800.8 1839.3,823.2 1840.2,781.9 1841.1,840.0 1842.0,819.0 1842.9,828.1 1843.8,801.2 1844.7,827.5 1845.6,832.3 1846.5,816.4 1847.4,816.5 1848.3,817.1 1849.2,795.6 1850.1,809.2 1851.0,809.3 1851.9,820.0 1852.8,832.5 1853.7,794.4 1854.6,813.3 1855.5,845.3 1856.4,804.6 1857.3,804.8 1858.2,826.0 1859.1,840.1 1860.0,826.2 1860.9,853.1 1861.8,846.0 1862.7,847.6 1863.6,843.9 1864.5,879.3 1865.4,832.7 1866.3,799.9 1867.2,869.6 1868.1,831.4 1869.0,843.0 1869.9,866.7 1870.8,812.3 1871.7,819.8 1872.6,814.0 1873.5,830.2 1874.4,854.5 1875.3,856.9 1876.2,853.0 1877.1,821.7 1878.0,805.5 1878.9,851.2 1879.8,841.9 1880.7,860.3 1881.6,865.6 1882.5,855.6 1883.4,868.1 1884.3,858.6 1885.2,864.9 1886.1,841.9 1887.0,852.4 1887.9,860.0 1888.8,872.2 1889.7,849.5 1890.6,867.2 1891.5,852.5 1892.4,855.5 1893.3,873.7 1894.2,820.1 1895.1,833.4 1896.0,829.8 1896.9,813.7 1897.8,845.1 1898.7,872.2 1899.6,852.6 1900.5,861.8 1901.4,878.7 1902.3,883.2 1903.2,856.7 1904.1,883.7 1905.0,859.8 1905.9,842.1 1906.8,846.7 1907.7,829.9 1908.6,841.1 1909.5,851.2 1910.4,873.3 1911.3,890.7 1912.2,831.7 1913.1,865.5 1914.0,838.2 1914.9,867.0 1915.8,855.5 1916.7,823.2 1917.6,875.6 1918.5,846.5 1919.4,847.9 1920.3,837.7 1921.2,845.6 1922.1,866.1 1923.0,854.4 1923.9,864.2 1924.8,864.9 1925.7,883.1 1926.6,851.5 1927.5,829.9 1928.4,878.3 1929.3,851.7 1930.2,879.2 1931.1,865.3 1932.0,855.5 1932.9,864.6 1933.8,895.1 1934.7,897.5 1935.6,859.3 1936.5,861.0 1937.4,878.4 1938.3,841.9 1939.2,864.3 1940.1,857.5 1941.0,863.9 1941.9,842.1 1942.8,827.7 1943.7,818.4 1944.6,836.5 1945.5,848.9 1946.4,851.9 1947.3,894.1 1948.2,878.1 1949.1,838.6 1950.0,863.3 1950.9,848.7 1951.8,850.8 1952.7,859.5 1953.6,867.5 1954.5,849.1 1955.4,875.5 1956.3,833.3 1957.2,854.8 1958.1,903.8 1959.0,858.4 1959.9,881.1 1960.8,855.3 1961.7,864.3 1962.6,851.9 1963.5,849.5 1964.4,837.7 1965.3,860.4 1966.2,835.8 1967.1,864.3 1968.0,872.1 1968.9,858.2 1969.8,845.6 1970.7,859.4 1971.6,844.7 1972.5,868.2 1973.4,815.5 1974.3,843.7 1975.2,812.1 1976.1,821.4 1977.0,875.6 1977.9,866.6 1978.8,835.8 1979.7,820.8 1980.6,792.9 1981.5,838.8 1982.4,895.0 1983.3,857.2 1984.2,838.2 1985.1,857.6 1986.0,819.0 1986.9,842.9 1987.8,850.4 1988.7,846.8 1989.6,863.3 1990.5,854.8 1991.4,860.9 1992.3,835.0 1993.2,865.1 1994.1,878.9" fill="none" stroke="#03c8c8" stroke-width="7.5" stroke-linejoin="round" stroke-linecap="butt" />
<polyline points="1527.0,1245.4 1528.3,1233.8 1529.6,1212.0 1530.9,1195.8 1532.2,1175.1 1533.5,1178.6 1534.8,1159.4 1536.1,1156.9 1537.4,1147.3 1538.7,1155.7 1540.0,1150.4 1541.3,1146.5 1542.6,1160.0 1543.9,1177.3 1545.2,1190.8 1546.5,1211.9 1547.8,1215.5 1549.1,1223.4 1550.4,1218.3 1551.7,1219.0 1553.0,1222.3 1554.3,1197.9 1555.6,1182.0 1556.9,1182.8 1558.2,1157.3 1559.5,1160.7 1560.8,1156.8 1562.1,1143.2 1563.4,1134.6 1564.7,1114.1 1566.0,1121.6 1567.3,1112.4 1568.6,1109.5 1569.9,1156.6 1571.2,1166.4 1572.5,1192.3 1573.8,1220.1 1575.1,1232.6 1576.4,1221.2 1577.7,1208.5 1579.0,1190.5 1580.3,1174.3 1581.6,1170.9 1582.9,1147.1 1584.2,1132.9 1585.5,1158.1 1586.8,1160.3 1588.1,1171.6 1589.4,1182.0 1590.7,1184.4 1592.0,1194.1 1593.3,1210.7 1594.6,1212.7 1595.9,1217.8 1597.2,1203.8 1598.5,1185.7 1599.8,1187.2 1601.1,1162.3 1602.4,1173.7 1603.7,1180.1 1605.0,1194.7 1606.3,1187.7 1607.6,1198.5 1608.9,1207.9 1610.2,1194.0 1611.5,1182.5 1612.8,1163.6 1614.1,1146.3 1615.4,1142.4 1616.7,1154.0 1618.0,1138.5 1619.3,1151.8 1620.6,1161.6 1621.9,1165.2 1623.2,1183.3 1624.5,1182.6 1625.8,1188.5 1627.1,1209.8 1628.4,1197.9 1629.7,1189.4 1631.0,1177.0 1632.3,1133.5 1633.6,1144.9 1634.9,1147.8 1636.2,1164.1 1637.5,1174.2 1638.8,1197.0 1640.1,1190.5 1641.4,1181.9 1642.7,1183.4 1644.0,1172.7 1645.3,1141.7 1646.6,1125.0 1647.9,1126.9 1649.2,1133.3 1650.5,1124.8 1651.8,1125.8 1653.1,1108.8 1654.4,1131.4 1655.7,1154.2 1657.0,1162.8 1658.3,1173.1 1659.6,1173.4 1660.9,1160.9 1662.2,1140.0 1663.5,1126.3 1664.8,1126.2 1666.1,1109.7 1667.4,1121.8 1668.7,1143.3 1670.0,1143.4 1671.3,1148.9 1672.6,1149.6 1673.9,1171.2 1675.2,1180.0 1676.5,1186.3 1677.8,1205.1 1679.1,1195.3 1680.4,1195.4 1681.7,1202.0 1683.0,1208.3 1684.3,1201.3 1685.6,1205.0 1686.9,1205.8 1688.2,1190.4 1689.5,1166.1 1690.8,1156.1 1692.1,1121.2 1693.4,1129.9 1694.7,1117.0 1696.0,1116.4 1697.3,1118.5 1698.6,1099.3 1699.9,1103.1 1701.2,1114.3 1702.5,1108.8 1703.8,1128.1 1705.1,1136.5 1706.4,1138.2 1707.7,1150.4 1709.0,1139.7 1710.3,1126.6 1711.6,1115.5 1712.9,1125.7 1714.2,1146.8 1715.5,1147.6 1716.8,1170.8 1718.1,1162.9 1719.4,1144.7 1720.7,1121.8 1722.0,1095.1 1723.3,1091.4 1724.6,1097.2 1725.9,1094.0 1727.2,1086.9 1728.5,1083.8 1729.8,1057.8 1731.1,1048.4 1732.4,1010.9 1733.7,1018.0 1735.0,980.0 1736.3,955.1 1737.6,942.9 1738.9,972.0 1740.2,988.9 1741.5,1005.5 1742.8,1021.3 1744.1,1028.0 1745.4,1051.0 1746.7,1039.0 1748.0,1033.4 1749.3,1028.3 1750.6,998.8 1751.9,1030.8 1753.2,1039.3 1754.5,1039.9 1755.8,1066.2 1757.1,1080.3 1758.4,1056.9 1759.7,1040.5 1761.0,1014.5 1762.3,995.9 1763.6,983.2 1764.9,966.7 1766.2,949.8 1767.5,933.8 1768.8,938.6 1770.1,964.4 1771.4,979.5 1772.7,989.5 1774.0,994.1 1775.3,986.1 1776.6,990.7 1777.9,1004.8 1779.2,1030.5 1780.5,1033.1 1781.8,1020.4 1783.1,1030.8 1784.4,1022.6 1785.7,1028.9 1787.0,1032.5 1788.3,1043.3 1789.6,1018.7 1790.9,1020.7 1792.2,1018.4 1793.5,1009.8 1794.8,1002.4 1796.1,982.7 1797.4,979.4 1798.7,991.2 1800.0,1031.5 1801.3,1052.4 1802.6,1083.0 1803.9,1113.7 1805.2,1104.9 1806.5,1110.1 1807.8,1094.7 1809.1,1096.7 1810.4,1086.7 1811.7,1107.6 1813.0,1110.0 1814.3,1130.7 1815.6,1115.1 1816.9,1142.0 1818.2,1135.8 1819.5,1129.3 1820.8,1137.7 1822.1,1112.7 1823.4,1140.6 1824.7,1180.6 1826.0,1210.6 1827.3,1205.6 1828.6,1200.1 1829.9,1182.0 1831.2,1170.8 1832.5,1179.9 1833.8,1203.1 1835.1,1211.7 1836.4,1235.4 1837.7,1216.7 1839.0,1194.1 1840.3,1205.2 1841.6,1208.1 1842.9,1227.3 1844.2,1244.1 1845.5,1251.0 1846.8,1268.8 1848.1,1262.8 1849.4,1247.5 1850.7,1226.1 1852.0,1205.8 1853.3,1211.0 1854.6,1203.0 1855.9,1201.3 1857.2,1204.2 1858.5,1207.8 1859.8,1211.5 1861.1,1203.3 1862.4,1219.3 1863.7,1221.6 1865.0,1201.7 1866.3,1173.9 1867.6,1154.1 1868.9,1135.7 1870.2,1139.1 1871.5,1134.5 1872.8,1149.4 1874.1,1138.8 1875.4,1136.6 1876.7,1173.0 1878.0,1213.5 1879.3,1250.3 1880.6,1253.9 1881.9,1236.9 1883.2,1232.8 1884.5,1218.7 1885.8,1210.6 1887.1,1211.3 1888.4,1213.8 1889.7,1223.5 1891.0,1216.8 1892.3,1238.8 1893.6,1232.0 1894.9,1251.4 1896.2,1242.9 1897.5,1233.8 1898.8,1226.1 1900.1,1228.3 1901.4,1228.6 1902.7,1231.3 1904.0,1236.7 1905.3,1235.3 1906.6,1244.4 1907.9,1235.8 1909.2,1242.1 1910.5,1248.1 1911.8,1218.9 1913.1,1203.0 1914.4,1194.8 1915.7,1181.6 1917.0,1173.5 1918.3,1178.4 1919.6,1160.1 1920.9,1169.6 1922.2,1192.9 1923.5,1196.8 1924.8,1218.0 1926.1,1222.3 1927.4,1234.3 1928.7,1218.6 1930.0,1226.0 1931.3,1229.5 1932.6,1235.8 1933.9,1226.4 1935.2,1214.7 1936.5,1209.8 1937.8,1194.3 1939.1,1179.3 1940.4,1202.3 1941.7,1231.8 1943.0,1256.0 1944.3,1265.7 1945.6,1262.7 1946.9,1240.7 1948.2,1239.3 1949.5,1227.6 1950.8,1209.0 1952.1,1193.8 1953.4,1208.0 1954.7,1203.3 1956.0,1219.4 1957.3,1226.3 1958.6,1240.6 1959.9,1243.1 1961.2,1249.2 1962.5,1262.6 1963.8,1256.6 1965.1,1264.9 1966.4,1264.9 1967.7,1255.5 1969.0,1216.5 1970.3,1214.2 1971.6,1219.9 1972.9,1240.8 1974.2,1263.5 1975.5,1242.8 1976.8,1235.4 1978.1,1221.6 1979.4,1194.3 1980.7,1230.5 1982.0,1256.4 1983.3,1287.7 1984.6,1279.9 1985.9,1256.1 1987.2,1240.7 1988.5,1232.7 1989.8,1224.3 1991.1,1217.6 1992.4,1221.8 1993.7,1210.0" fill="none" stroke="#03c803" stroke-width="7.5" stroke-linejoin="round" stroke-linecap="butt" />
<polyline points="1527.0,1636.4 1529.6,1615.6 1532.2,1619.1 1534.8,1631.6 1537.4,1626.8 1540.0,1623.0 1542.6,1608.1 1545.2,1598.2 1547.8,1619.8 1550.4,1606.0 1553.0,1626.8 1555.6,1617.2 1558.2,1602.4 1560.8,1618.1 1563.4,1624.9 1566.0,1616.6 1568.6,1601.7 1571.2,1617.9 1573.8,1619.4 1576.4,1626.6 1579.0,1625.0 1581.6,1599.7 1584.2,1606.0 1586.8,1623.1 1589.4,1587.4 1592.0,1625.7 1594.6,1600.7 1597.2,1607.1 1599.8,1636.0 1602.4,1612.6 1605.0,1608.9 1607.6,1617.9 1610.2,1612.1 1612.8,1603.8 1615.4,1617.3 1618.0,1646.5 1620.6,1627.6 1623.2,1620.2 1625.8,1617.3 1628.4,1625.7 1631.0,1622.9 1633.6,1600.0 1636.2,1621.1 1638.8,1614.0 1641.4,1639.7 1644.0,1609.8 1646.6,1632.5 1649.2,1595.1 1651.8,1617.8 1654.4,1601.9 1657.0,1599.2 1659.6,1624.9 1662.2,1597.4 1664.8,1610.3 1667.4,1601.4 1670.0,1618.3 1672.6,1616.2 1675.2,1578.2 1677.8,1622.4 1680.4,1601.9 1683.0,1642.2 1685.6,1624.5 1688.2,1625.4 1690.8,1573.9 1693.4,1637.2 1696.0,1610.8 1698.6,1589.4 1701.2,1614.4 1703.8,1629.1 1706.4,1584.8 1709.0,1625.0 1711.6,1603.5 1714.2,1599.6 1716.8,1601.5 1719.4,1595.1 1722.0,1610.4 1724.6,1610.9 1727.2,1622.6 1729.8,1627.8 1732.4,1601.4 1735.0,1622.4 1737.6,1588.2 1740.2,1615.3 1742.8,1588.8 1745.4,1596.7 1748.0,1614.2 1750.6,1593.7 1753.2,1612.1 1755.8,1582.6 1758.4,1593.7 1761.0,1612.4 1763.6,1626.9 1766.2,1586.8 1768.8,1628.0 1771.4,1608.2 1774.0,1638.6 1776.6,1600.5 1779.2,1598.1 1781.8,1611.5 1784.4,1591.2 1787.0,1610.4 1789.6,1608.5 1792.2,1630.3 1794.8,1616.3 1797.4,1592.8 1800.0,1592.4 1802.6,1598.0 1805.2,1581.6 1807.8,1580.6 1810.4,1645.1 1813.0,1600.9 1815.6,1633.1 1818.2,1602.7 1820.8,1608.0 1823.4,1588.5 1826.0,1633.7 1828.6,1608.8 1831.2,1640.2 1833.8,1604.5 1836.4,1634.8 1839.0,1638.1 1841.6,1592.9 1844.2,1622.7 1846.8,1600.3 1849.4,1598.5 1852.0,1618.0 1854.6,1628.7 1857.2,1637.0 1859.8,1611.4 1862.4,1631.8 1865.0,1625.4 1867.6,1616.7 1870.2,1602.6 1872.8,1617.7 1875.4,1670.8 1878.0,1603.0 1880.6,1614.7 1883.2,1603.8 1885.8,1638.5 1888.4,1645.2 1891.0,1638.2 1893.6,1648.1 1896.2,1616.6 1898.8,1643.5 1901.4,1605.3 1904.0,1641.8 1906.6,1640.9 1909.2,1608.6 1911.8,1632.7 1914.4,1601.8 1917.0,1596.9 1919.6,1597.1 1922.2,1601.6 1924.8,1601.0 1927.4,1616.9 1930.0,1645.5 1932.6,1614.8 1935.2,1605.7 1937.8,1629.3 1940.4,1615.1 1943.0,1620.4 1945.6,1625.1 1948.2,1625.8 1950.8,1608.6 1953.4,1615.4 1956.0,1633.6 1958.6,1613.5 1961.2,1615.6 1963.8,1624.1 1966.4,1625.9 1969.0,1614.6 1971.6,1628.2 1974.2,1619.4 1976.8,1599.3 1979.4,1629.6 1982.0,1606.2 1984.6,1667.1 1987.2,1624.2 1989.8,1615.4 1992.4,1632.9" fill="none" stroke="#03c803" stroke-width="7.5" stroke-linejoin="round" stroke-linecap="butt" />
</g>
<line x1="575.0" y1="189.0" x2="575.0" y2="1662.5" stroke="#000" stroke-width="5.9" />
<line x1="1050.2" y1="189.0" x2="1050.2" y2="1662.5" stroke="#000" stroke-width="5.9" />
<line x1="1523.7" y1="189.0" x2="1523.7" y2="1662.5" stroke="#000" stroke-width="5.9" />
<line x1="482.5" y1="43.5" x2="482.5" y2="95.0" stroke="#000" stroke-width="7.0" stroke-dasharray="3.0 3.64"/>
<line x1="482.5" y1="192.0" x2="482.5" y2="1657.5" stroke="#000" stroke-width="7.0" stroke-dasharray="3.0 3.64"/>
<line x1="873.3" y1="41.0" x2="873.3" y2="95.0" stroke="#000" stroke-width="7.0" stroke-dasharray="3.0 3.64"/>
<line x1="873.3" y1="192.0" x2="873.3" y2="1657.5" stroke="#000" stroke-width="7.0" stroke-dasharray="3.0 3.64"/>
<line x1="1305.5" y1="41.0" x2="1305.5" y2="95.0" stroke="#000" stroke-width="7.0" stroke-dasharray="3.0 3.64"/>
<line x1="1305.5" y1="192.0" x2="1305.5" y2="1657.5" stroke="#000" stroke-width="7.0" stroke-dasharray="3.0 3.64"/>
<line x1="1790.8" y1="42.5" x2="1790.8" y2="95.0" stroke="#000" stroke-width="7.0" stroke-dasharray="3.0 3.64"/>
<line x1="1790.8" y1="192.0" x2="1790.8" y2="1657.5" stroke="#000" stroke-width="7.0" stroke-dasharray="3.0 3.64"/>
</svg>
</body></html>
